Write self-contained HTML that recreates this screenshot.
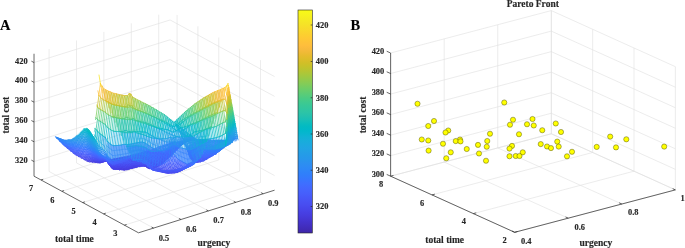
<!DOCTYPE html>
<html><head><meta charset="utf-8"><title>fig</title>
<style>
html,body{margin:0;padding:0;background:#fff;}
body{width:685px;height:248px;overflow:hidden;}
svg{display:block;will-change:transform;}
text{font-family:"Liberation Serif",serif;font-weight:bold;fill:#262626;stroke:#262626;stroke-width:0.15px;}
.t{font-size:8.4px;}
.l{font-size:9.5px;}
.p{font-size:14.5px;fill:#000;}
.g{stroke:#dfdfdf;stroke-width:0.6;fill:none;}
.ax{stroke:#262626;stroke-width:0.7;fill:none;}
</style></head><body>
<svg width="685" height="248" viewBox="0 0 685 248">
<rect width="685" height="248" fill="#fff"/>

<path class="g" d="M153.57 228.08 L49.09 171.46"/>
<path class="g" d="M49.09 171.46 L49.09 49.04"/>
<path class="g" d="M180.97 219.50 L76.49 162.88"/>
<path class="g" d="M76.49 162.88 L76.49 40.46"/>
<path class="g" d="M208.37 210.92 L103.89 154.30"/>
<path class="g" d="M103.89 154.30 L103.89 31.88"/>
<path class="g" d="M235.77 202.34 L131.29 145.72"/>
<path class="g" d="M131.29 145.72 L131.29 23.30"/>
<path class="g" d="M263.17 193.76 L158.69 137.14"/>
<path class="g" d="M158.69 137.14 L158.69 14.72"/>
<path class="g" d="M124.41 225.16 L260.47 182.55"/>
<path class="g" d="M260.47 182.55 L260.47 60.14"/>
<path class="g" d="M103.56 213.86 L239.62 171.25"/>
<path class="g" d="M239.62 171.25 L239.62 48.84"/>
<path class="g" d="M82.71 202.56 L218.77 159.95"/>
<path class="g" d="M218.77 159.95 L218.77 37.54"/>
<path class="g" d="M61.86 191.26 L197.92 148.65"/>
<path class="g" d="M197.92 148.65 L197.92 26.24"/>
<path class="g" d="M41.01 179.96 L177.07 137.35"/>
<path class="g" d="M177.07 137.35 L177.07 14.94"/>
<path class="g" d="M34.02 161.57 L170.09 118.96"/>
<path class="g" d="M170.09 118.96 L274.57 175.59"/>
<path class="g" d="M34.02 141.77 L170.09 99.16"/>
<path class="g" d="M170.09 99.16 L274.57 155.79"/>
<path class="g" d="M34.02 121.97 L170.09 79.36"/>
<path class="g" d="M170.09 79.36 L274.57 135.99"/>
<path class="g" d="M34.02 102.17 L170.09 59.56"/>
<path class="g" d="M170.09 59.56 L274.57 116.19"/>
<path class="g" d="M34.02 82.37 L170.09 39.76"/>
<path class="g" d="M170.09 39.76 L274.57 96.39"/>
<path class="g" d="M34.02 62.57 L170.09 19.96"/>
<path class="g" d="M170.09 19.96 L274.57 76.59"/>
<path class="ax" d="M138.50 232.80 L274.57 190.19"/>
<path class="ax" d="M138.50 232.80 L34.02 176.18"/>
<path class="ax" d="M34.02 176.18 L34.02 53.76"/>
<path class="ax" d="M153.57 228.08 L151.55 226.99"/>
<path class="ax" d="M180.97 219.50 L178.95 218.41"/>
<path class="ax" d="M208.37 210.92 L206.35 209.83"/>
<path class="ax" d="M235.77 202.34 L233.75 201.25"/>
<path class="ax" d="M263.17 193.76 L261.15 192.67"/>
<path class="ax" d="M124.41 225.16 L126.60 224.47"/>
<path class="ax" d="M103.56 213.86 L105.75 213.17"/>
<path class="ax" d="M82.71 202.56 L84.90 201.87"/>
<path class="ax" d="M61.86 191.26 L64.05 190.57"/>
<path class="ax" d="M41.01 179.96 L43.20 179.27"/>
<path class="ax" d="M34.02 161.57 L31.38 160.14"/>
<path class="ax" d="M34.02 141.77 L31.38 140.34"/>
<path class="ax" d="M34.02 121.97 L31.38 120.54"/>
<path class="ax" d="M34.02 102.17 L31.38 100.74"/>
<path class="ax" d="M34.02 82.37 L31.38 80.94"/>
<path class="ax" d="M34.02 62.57 L31.38 61.14"/>
<text class="t" x="27.60" y="162.62" text-anchor="end">320</text>
<text class="t" x="27.60" y="142.82" text-anchor="end">340</text>
<text class="t" x="27.60" y="123.02" text-anchor="end">360</text>
<text class="t" x="27.60" y="103.22" text-anchor="end">380</text>
<text class="t" x="27.60" y="83.42" text-anchor="end">400</text>
<text class="t" x="27.60" y="63.62" text-anchor="end">420</text>
<text class="t" x="31.20" y="191.40" text-anchor="middle">7</text>
<text class="t" x="52.40" y="202.60" text-anchor="middle">6</text>
<text class="t" x="73.60" y="213.90" text-anchor="middle">5</text>
<text class="t" x="94.70" y="225.40" text-anchor="middle">4</text>
<text class="t" x="115.40" y="236.40" text-anchor="middle">3</text>
<text class="t" x="163.90" y="240.50" text-anchor="middle">0.5</text>
<text class="t" x="191.30" y="232.10" text-anchor="middle">0.6</text>
<text class="t" x="218.60" y="223.00" text-anchor="middle">0.7</text>
<text class="t" x="246.00" y="214.50" text-anchor="middle">0.8</text>
<text class="t" x="273.30" y="206.00" text-anchor="middle">0.9</text>
<text class="l" x="74.40" y="242.20" text-anchor="middle">total time</text>
<text class="l" x="213.80" y="246.10" text-anchor="middle">urgency</text>
<text class="l" transform="translate(9.4,115.1) rotate(-90)" text-anchor="middle">total cost</text>
<text class="p" x="0.00" y="29.80" text-anchor="start">A</text>
<defs><linearGradient id="cb" x1="0" y1="1" x2="0" y2="0">
<stop offset="0.0000" stop-color="#3e26a8"/>
<stop offset="0.0159" stop-color="#402ab4"/>
<stop offset="0.0317" stop-color="#422ec0"/>
<stop offset="0.0476" stop-color="#4332cb"/>
<stop offset="0.0635" stop-color="#4537d5"/>
<stop offset="0.0794" stop-color="#463cde"/>
<stop offset="0.0952" stop-color="#4741e5"/>
<stop offset="0.1111" stop-color="#4747eb"/>
<stop offset="0.1270" stop-color="#484df0"/>
<stop offset="0.1429" stop-color="#4852f4"/>
<stop offset="0.1587" stop-color="#4758f8"/>
<stop offset="0.1746" stop-color="#465efb"/>
<stop offset="0.1905" stop-color="#4563fd"/>
<stop offset="0.2063" stop-color="#4269fe"/>
<stop offset="0.2222" stop-color="#3e6fff"/>
<stop offset="0.2381" stop-color="#3875fe"/>
<stop offset="0.2540" stop-color="#327cfc"/>
<stop offset="0.2698" stop-color="#2f81fa"/>
<stop offset="0.2857" stop-color="#2e87f7"/>
<stop offset="0.3016" stop-color="#2d8cf3"/>
<stop offset="0.3175" stop-color="#2b91ef"/>
<stop offset="0.3333" stop-color="#2797eb"/>
<stop offset="0.3492" stop-color="#259be8"/>
<stop offset="0.3651" stop-color="#23a0e5"/>
<stop offset="0.3810" stop-color="#20a5e3"/>
<stop offset="0.3968" stop-color="#1ca9df"/>
<stop offset="0.4127" stop-color="#18addb"/>
<stop offset="0.4286" stop-color="#12b1d6"/>
<stop offset="0.4444" stop-color="#08b5d0"/>
<stop offset="0.4603" stop-color="#01b8ca"/>
<stop offset="0.4762" stop-color="#02bac3"/>
<stop offset="0.4921" stop-color="#0bbdbd"/>
<stop offset="0.5079" stop-color="#19bfb6"/>
<stop offset="0.5238" stop-color="#24c1ae"/>
<stop offset="0.5397" stop-color="#2cc4a7"/>
<stop offset="0.5556" stop-color="#31c69f"/>
<stop offset="0.5714" stop-color="#37c897"/>
<stop offset="0.5873" stop-color="#3fca8e"/>
<stop offset="0.6032" stop-color="#4acb84"/>
<stop offset="0.6190" stop-color="#57cc7a"/>
<stop offset="0.6349" stop-color="#64cd6f"/>
<stop offset="0.6508" stop-color="#72cd64"/>
<stop offset="0.6667" stop-color="#81cc59"/>
<stop offset="0.6825" stop-color="#8fcb4e"/>
<stop offset="0.6984" stop-color="#9dc943"/>
<stop offset="0.7143" stop-color="#abc739"/>
<stop offset="0.7302" stop-color="#b9c431"/>
<stop offset="0.7460" stop-color="#c5c22a"/>
<stop offset="0.7619" stop-color="#d1bf27"/>
<stop offset="0.7778" stop-color="#dcbd29"/>
<stop offset="0.7937" stop-color="#e6bb2d"/>
<stop offset="0.8095" stop-color="#f0ba36"/>
<stop offset="0.8254" stop-color="#f8ba3d"/>
<stop offset="0.8413" stop-color="#febe3c"/>
<stop offset="0.8571" stop-color="#fec338"/>
<stop offset="0.8730" stop-color="#fec934"/>
<stop offset="0.8889" stop-color="#fccf30"/>
<stop offset="0.9048" stop-color="#fad62d"/>
<stop offset="0.9206" stop-color="#f7dc2a"/>
<stop offset="0.9365" stop-color="#f5e327"/>
<stop offset="0.9524" stop-color="#f5e924"/>
<stop offset="0.9683" stop-color="#f6ef20"/>
<stop offset="0.9841" stop-color="#f7f51b"/>
<stop offset="1.0000" stop-color="#f9fb15"/>
</linearGradient></defs>
<rect x="298" y="10" width="14.3" height="223" fill="url(#cb)" stroke="#262626" stroke-width="0.6"/>
<path class="ax" d="M312.3 25.00 h-1.6"/>
<text class="t" x="315.80" y="27.80" text-anchor="start">420</text>
<path class="ax" d="M312.3 61.50 h-1.6"/>
<text class="t" x="315.80" y="64.30" text-anchor="start">400</text>
<path class="ax" d="M312.3 97.75 h-1.6"/>
<text class="t" x="315.80" y="100.55" text-anchor="start">380</text>
<path class="ax" d="M312.3 134.00 h-1.6"/>
<text class="t" x="315.80" y="136.80" text-anchor="start">360</text>
<path class="ax" d="M312.3 170.25 h-1.6"/>
<text class="t" x="315.80" y="173.05" text-anchor="start">340</text>
<path class="ax" d="M312.3 206.50 h-1.6"/>
<text class="t" x="315.80" y="209.30" text-anchor="start">320</text>
<g fill="none" stroke-width="0.50" stroke-opacity="1.00" stroke-linecap="round">
<path stroke="#4536d5" d="M121.6 169.8L123.2 169.3M122.1 169.8L123.7 169.6L125.3 169.1M124.7 169.9L126.3 169.7L127.9 168.7M125.2 169.6L126.8 170.0L128.4 168.9M121.6 169.2L123.1 169.8M122.2 169.1L123.7 170.0M123.2 168.7L124.7 169.8L126.2 169.5M123.8 168.5L125.3 169.6L126.8 169.5M126.3 169.2L127.8 169.6"/>
<path stroke="#473fe2" d="M85.0 159.4L86.6 161.0L86.8 161.1M88.1 160.9L89.7 161.7L90.3 162.0M89.6 160.3L91.2 161.2L92.8 162.0L93.9 162.4M92.7 160.9L94.3 161.6L95.9 162.3L97.5 162.8M94.2 160.7L95.8 161.4L97.4 162.1L99.0 162.6L100.6 162.8L101.1 162.7M97.3 161.4L98.9 162.0L100.5 162.3L102.1 162.1L103.7 161.8L104.7 161.6M98.8 161.5L100.4 161.9L102.0 161.7L103.6 161.5L105.2 161.2L106.8 160.9L108.3 160.4M107.3 160.9L108.9 160.3L109.5 160.1M106.7 161.0L108.3 160.8L109.9 160.3M111.2 162.4L112.8 162.3L114.4 161.6M111.7 162.8L113.3 162.5L114.9 161.8M111.1 163.3L112.7 163.6L114.3 162.9L115.9 162.2M111.6 163.7L113.2 163.8L114.8 163.1L116.4 162.4M111.0 164.1L112.6 164.8L114.2 164.2L115.8 163.5L117.4 162.8M111.5 164.7L113.1 165.0L114.7 164.4L116.3 163.7L117.9 163.1M110.9 164.9L112.5 165.9L114.1 165.4L115.7 164.8L117.3 164.2L118.9 163.5L120.5 162.8M111.4 165.6L113.0 166.2L114.6 165.7L116.2 165.1L117.8 164.5L119.4 163.8L121.0 163.1M110.8 165.7L112.4 166.9L114.0 166.7L115.6 166.1L117.2 165.6L118.8 165.0L120.4 164.3L122.0 163.6L123.6 162.8M111.3 166.4L112.9 167.4L114.5 166.9L116.1 166.4L117.7 165.8L119.3 165.2L120.9 164.6L122.5 163.9L124.1 163.1M110.7 166.4L112.3 168.0L113.9 167.9L115.5 167.4L117.1 166.9L118.7 166.4L120.3 165.8L121.9 165.2L123.5 164.5L125.1 163.7M111.2 167.2L112.8 168.6L114.4 168.2L116.0 167.7L117.6 167.2L119.2 166.7L120.8 166.1L122.4 165.4L124.0 164.8L125.6 164.0L127.2 163.0M110.6 166.2L112.2 168.7L113.8 169.1L115.4 168.7L117.0 168.3L118.6 167.8L120.2 167.3L121.8 166.7L123.4 166.1L125.0 165.4L126.6 164.5L128.2 163.5M111.1 166.7L112.7 169.0L114.3 169.4L115.9 169.0L117.5 168.6L119.1 168.1L120.7 167.6L122.3 167.0L123.9 166.4L125.5 165.7L127.1 164.8L128.7 163.7M112.1 167.4L113.7 168.6L115.3 169.1L116.9 169.6L118.5 169.2L120.1 168.7L121.7 168.2L123.3 167.7L124.9 167.1L126.5 166.3L128.1 165.2L129.7 164.2M112.6 167.8L114.2 168.3L115.8 168.9L117.4 169.4L119.0 169.5L120.6 169.1L122.2 168.6L123.8 168.0L125.4 167.4L127.0 166.5L128.6 165.5L130.2 164.4M115.2 167.8L116.8 168.4L118.4 168.9L120.0 169.5L121.6 169.8M123.2 169.3L124.8 168.7L126.4 168.0L128.0 167.0L129.6 165.9L131.2 164.8M115.7 167.6L117.3 168.1L118.9 168.6L120.5 169.2L122.1 169.8M125.3 169.1L126.9 168.2L128.5 167.2L130.1 166.1L131.7 165.0M118.3 167.6L119.9 168.1L121.5 168.7L123.1 169.3L124.7 169.9M127.9 168.7L129.5 167.6L131.1 166.6L132.7 165.4M120.4 167.8L122.0 168.4L123.6 169.0L125.2 169.6M128.4 168.9L130.0 167.9L131.6 166.8L133.2 165.7L134.8 164.5M123.0 167.8L124.6 168.4L126.2 169.0L127.8 169.1L129.4 169.3L131.0 168.3L132.6 167.2L134.2 166.1L135.8 165.0M123.5 167.5L125.1 168.1L126.7 168.5L128.3 168.7L129.9 168.8L131.5 168.5L133.1 167.4L134.7 166.3L136.3 165.2M127.7 167.6L129.3 167.7L130.9 167.9L132.5 168.1L134.1 167.9L135.7 166.8L137.3 165.6M129.8 167.3L131.4 167.5L133.0 167.7L134.6 167.9L136.2 167.0L137.8 165.9M135.6 167.0L137.2 167.2L138.8 166.3M137.7 166.7L139.3 166.6M148.8 165.3L150.4 165.0M145.0 166.3L146.6 166.9L148.2 167.0L149.8 166.8L151.4 166.5L153.0 165.8L154.6 164.4M145.5 166.3L147.1 167.7L148.7 167.8L150.3 167.6L151.9 167.3L153.5 166.4L155.1 165.0M148.1 167.4L149.7 168.9L151.3 168.8L152.9 168.3L154.5 167.1L156.1 165.8L157.7 164.4M148.6 166.6L150.2 168.4L151.8 168.9L153.4 168.2L155.0 167.0L156.6 165.8M151.2 166.7L152.8 168.3L154.4 168.0L156.0 166.9L157.6 165.7M153.3 167.2L154.9 167.9L156.5 166.8L158.1 165.7M85.0 159.9L84.7 160.0M85.0 159.9L86.5 159.9M88.1 161.4L87.4 161.5M88.1 161.4L89.6 160.8L91.1 160.4M110.6 166.6L112.1 167.9L113.6 167.7M111.2 167.5L112.7 168.6L114.2 167.9M91.2 161.6L90.2 162.0M91.2 161.6L92.7 161.2L94.2 161.0M110.7 166.2L112.2 168.6L113.7 169.0L115.2 168.2L116.7 167.5M111.3 166.7L112.8 169.0L114.3 169.2L115.8 168.4L117.3 167.7M94.3 161.9L92.9 162.3M94.3 161.9L95.8 161.7L97.3 161.6L98.8 161.7M110.8 165.4L112.3 167.6L113.8 168.7L115.3 169.5L116.8 168.8L118.3 168.0M109.9 164.0L111.4 165.8L112.9 167.8L114.4 168.6L115.9 169.5L117.4 169.0L118.9 168.2L120.4 167.4M95.9 162.5L95.7 162.6M95.9 162.5L97.4 162.3L98.9 162.2L100.4 162.0L101.9 161.5M110.9 164.7L112.4 166.6L113.9 167.5L115.4 168.3L116.9 169.2L118.4 169.4L119.9 168.6L121.4 167.7M110.0 163.4L111.5 165.0L113.0 166.6L114.5 167.3L116.0 168.2L117.5 169.1L119.0 169.6L120.5 168.8L122.0 167.9M99.0 162.8L98.4 162.8M99.0 162.8L100.5 162.5L102.0 161.9L103.5 161.3M111.0 163.9L112.5 165.5L114.0 166.3L115.5 167.0L117.0 167.8L118.5 168.8L120.0 169.7L121.5 169.2L123.0 168.3L124.5 167.4M110.1 162.8L111.6 164.0L113.1 165.4L114.6 166.1L116.1 166.8L117.6 167.7L119.1 168.6L120.6 169.6L122.1 169.4L123.6 168.5L125.1 167.6M102.1 162.2L101.2 162.7M102.1 162.2L103.6 161.6L105.1 161.1M111.1 163.0L112.6 164.4L114.1 165.0L115.6 165.7L117.1 166.5L118.6 167.3L120.1 168.3L121.6 169.2M123.1 169.8L124.6 168.9L126.1 168.0M110.2 162.1L111.7 163.1L113.2 164.2L114.7 164.8L116.2 165.5L117.7 166.3L119.2 167.2L120.7 168.1L122.2 169.1M123.7 170.0L125.2 169.1L126.7 168.0M105.2 161.3L103.9 161.8M105.2 161.3L106.7 161.0L108.2 161.0M111.2 162.1L112.7 163.2L114.2 163.7L115.7 164.4L117.2 165.1L118.7 165.9L120.2 166.8L121.7 167.7L123.2 168.7M126.2 169.5L127.7 168.1M107.3 160.9L108.8 161.0M111.8 162.1L113.3 162.9L114.8 163.5L116.3 164.2L117.8 164.9L119.3 165.7L120.8 166.6L122.3 167.5L123.8 168.5M126.8 169.5L128.3 168.2L129.8 166.8M106.8 160.9L106.7 161.0M106.8 160.9L108.3 160.7L109.8 160.8M112.8 161.9L114.3 162.5L115.8 163.1L117.3 163.8L118.8 164.5L120.3 165.3L121.8 166.2L123.3 167.1L124.8 168.2L126.3 169.2M127.8 169.6L129.3 168.3L130.8 166.9M108.9 160.5L107.6 160.7M108.9 160.5L110.4 160.6M113.4 161.7L114.9 162.2L116.4 162.9L117.9 163.5L119.4 164.3L120.9 165.1L122.4 166.0L123.9 166.9L125.4 168.0L126.9 168.8L128.4 169.5L129.9 168.3L131.4 167.0M109.9 160.1L109.4 160.1M117.4 162.4L118.9 163.1L120.4 163.8L121.9 164.6L123.4 165.5L124.9 166.5L126.4 167.4L127.9 168.1L129.4 168.8L130.9 168.4L132.4 167.1M119.5 162.8L121.0 163.6L122.5 164.4L124.0 165.3L125.5 166.3L127.0 167.1L128.5 167.8L130.0 168.5L131.5 168.5L133.0 167.2M122.0 163.1L123.5 163.9L125.0 164.8L126.5 165.7L128.0 166.4L129.5 167.1L131.0 167.7L132.5 168.4L134.0 167.3M122.6 162.8L124.1 163.7L125.6 164.6L127.1 165.3L128.6 166.0L130.1 166.7L131.6 167.4L133.1 168.0L134.6 167.4M125.1 163.2L126.6 164.0L128.1 164.6L129.6 165.3L131.1 166.0L132.6 166.6L134.1 167.3L135.6 167.5L137.1 166.2M127.2 163.6L128.7 164.3L130.2 165.0L131.7 165.6L133.2 166.3L134.7 166.9L136.2 167.6L137.7 166.2M132.7 164.9L134.2 165.5L135.7 166.2L137.2 166.8L138.7 166.4M134.8 165.1L136.3 165.8L137.8 166.5L139.3 166.4M145.6 166.1L147.1 167.4M146.6 166.2L148.1 168.5L149.6 166.4M147.2 166.2L148.7 168.6L150.2 167.0M148.2 166.2L149.7 168.6L151.2 168.2M148.8 166.1L150.3 168.5L151.8 168.8L153.3 165.8M149.8 166.0L151.3 168.4L152.8 168.8L154.3 166.4M150.4 165.9L151.9 168.3L153.4 168.5L154.9 166.7M151.4 165.6L152.9 167.8L154.4 167.7L155.9 167.4M152.0 165.4L153.5 167.4L155.0 167.4L156.5 167.1M153.0 164.7L154.5 166.5L156.0 166.6L157.5 166.4M153.6 164.3L155.1 166.1L156.6 166.2L158.1 166.0M156.1 165.2L157.6 165.3"/>
<path stroke="#4747ec" d="M78.8 156.4L79.6 157.2M80.3 156.4L81.9 157.9L83.2 159.1M83.4 157.8L85.0 159.4M84.9 157.7L86.5 159.3L88.1 160.9M86.4 157.6L88.0 159.3L89.6 160.3M89.5 158.9L91.1 159.9L92.7 160.9M91.0 158.7L92.6 159.7L94.2 160.7M92.5 158.6L94.1 159.7L95.7 160.6L97.3 161.4M95.6 159.8L97.2 160.7L98.8 161.5M97.1 160.0L98.7 160.9L100.3 161.4L101.9 161.4L103.5 161.3L105.1 161.1L106.7 161.0M109.9 160.3L111.5 159.6L111.9 159.3M107.2 161.0L108.8 160.8L110.4 160.4L112.0 159.6L113.1 159.1M98.6 160.3L100.2 161.0L101.8 161.0L103.4 161.0L105.0 160.9L106.6 161.1L108.2 161.1L109.8 161.0L111.4 160.5L113.0 159.9L114.6 159.1L115.5 158.6M107.1 161.2L108.7 161.3L110.3 161.1L111.9 160.7L113.5 160.1L115.1 159.2L116.7 158.4M101.7 160.6L103.3 160.7L104.9 160.7L106.5 161.1L108.1 161.5L109.7 161.6L111.3 161.5L112.9 161.1L114.5 160.4L116.1 159.5L117.7 158.7L119.0 157.9M107.0 161.3L108.6 161.7L110.2 161.8L111.8 161.8L113.4 161.3L115.0 160.5L116.6 159.7L118.2 158.8L119.8 157.9L120.2 157.7M104.8 160.5L106.4 161.0L108.0 161.7L109.6 162.2L111.2 162.4M114.4 161.6L116.0 160.9L117.6 160.1L119.2 159.2L120.8 158.3L122.4 157.3L122.6 157.2M106.9 161.3L108.5 162.0L110.1 162.5L111.7 162.8M114.9 161.8L116.5 161.1L118.1 160.3L119.7 159.4L121.3 158.5L122.9 157.5M106.3 161.0L107.9 162.0L109.5 162.8L111.1 163.3M115.9 162.2L117.5 161.5L119.1 160.7L120.7 159.8L122.3 158.9L123.9 157.9M106.8 161.3L108.4 162.4L110.0 163.2L111.6 163.7M116.4 162.4L118.0 161.7L119.6 160.9L121.2 160.0L122.8 159.1L124.4 158.2M107.8 162.2L109.4 163.3L111.0 164.1M117.4 162.8L119.0 162.1L120.6 161.3L122.2 160.5L123.8 159.6L125.4 158.6L127.0 157.6M106.7 161.3L108.3 162.7L109.9 163.8L111.5 164.7M117.9 163.1L119.5 162.3L121.1 161.6L122.7 160.7L124.3 159.8L125.9 158.9L127.5 157.8M107.7 162.4L109.3 163.8L110.9 164.9M120.5 162.8L122.1 162.0L123.7 161.2L125.3 160.3L126.9 159.3L128.5 158.3M108.2 162.9L109.8 164.4L111.4 165.6M121.0 163.1L122.6 162.3L124.2 161.5L125.8 160.6L127.4 159.6L129.0 158.5M107.6 162.5L109.2 164.2L110.8 165.7M123.6 162.8L125.2 162.0L126.8 161.1L128.4 160.0L130.0 159.0M108.1 163.1L109.7 164.9L111.3 166.4M124.1 163.1L125.7 162.3L127.3 161.3L128.9 160.2L130.5 159.2M109.1 164.6L110.7 166.4M125.1 163.7L126.7 162.8L128.3 161.8L129.9 160.7L131.5 159.5M108.0 162.9L109.6 165.3L111.2 167.2M127.2 163.0L128.8 162.0L130.4 160.9L132.0 159.7M109.0 163.9L110.6 166.2M128.2 163.5L129.8 162.4L131.4 161.3L133.0 160.1L134.6 159.0M109.5 164.3L111.1 166.7M128.7 163.7L130.3 162.6L131.9 161.5L133.5 160.4L135.1 159.2M110.5 165.1L112.1 167.4M129.7 164.2L131.3 163.1L132.9 161.9L134.5 160.8L136.1 159.6M111.0 165.5L112.6 167.8M130.2 164.4L131.8 163.3L133.4 162.1L135.0 161.0L136.6 159.8M112.0 166.2L113.6 167.3L115.2 167.8M131.2 164.8L132.8 163.7L134.4 162.5L136.0 161.4L137.6 160.2M112.5 166.5L114.1 167.1L115.7 167.6M131.7 165.0L133.3 163.9L134.9 162.8L136.5 161.6L138.1 160.5M113.5 166.1L115.1 166.5L116.7 167.0L118.3 167.6M132.7 165.4L134.3 164.3L135.9 163.2L137.5 162.0L139.1 160.9M114.0 165.8L115.6 166.3L117.2 166.8L118.8 167.3L120.4 167.8M134.8 164.5L136.4 163.4L138.0 162.3L139.6 161.1M116.6 165.7L118.2 166.2L119.8 166.7L121.4 167.2L123.0 167.8M135.8 165.0L137.4 163.8L139.0 162.7L140.6 161.7L142.2 160.7M118.7 165.9L120.3 166.4L121.9 167.0L123.5 167.5M136.3 165.2L137.9 164.1L139.5 162.9L141.1 162.0L142.7 161.0M121.3 165.8L122.9 166.3L124.5 166.9L126.1 167.4L127.7 167.6M137.3 165.6L138.9 164.5L140.5 163.5L142.1 162.6L143.7 161.7M121.8 165.5L123.4 166.0L125.0 166.6L126.6 167.0L128.2 167.1L129.8 167.3M137.8 165.9L139.4 164.7L141.0 163.9L142.6 162.9L144.2 162.0L145.8 161.4M126.0 165.9L127.6 166.1L129.2 166.2L130.8 166.4L132.4 166.6L134.0 166.8L135.6 167.0M138.8 166.3L140.4 165.4L142.0 164.5L143.6 163.6L145.2 162.8L146.8 162.6L148.4 162.2L150.0 161.6L151.6 160.8M128.1 165.6L129.7 165.8L131.3 165.9L132.9 166.1L134.5 166.3L136.1 166.5L137.7 166.7M139.3 166.6L140.9 165.7L142.5 164.9L144.1 164.0L145.7 163.4L147.3 163.2L148.9 162.8L150.5 162.2L152.1 161.4L153.7 160.1M132.3 165.0L133.9 165.2L135.5 165.4L137.1 165.6L138.7 165.8L140.3 166.2L141.9 166.4L143.5 165.6L145.1 164.8L146.7 164.8L148.3 164.6L149.9 164.2L151.5 163.6L153.1 162.7L154.7 161.2M134.4 164.8L136.0 165.0L137.6 165.2L139.2 165.4L140.8 165.9L142.4 166.4L144.0 165.9L145.6 165.5L147.2 165.5L148.8 165.3M150.4 165.0L152.0 164.4L153.6 163.2L155.2 161.7L156.8 160.2M140.2 164.6L141.8 165.1L143.4 165.7L145.0 166.3M154.6 164.4L156.2 162.9L157.8 161.4M140.7 164.2L142.3 164.8L143.9 165.3L145.5 166.3M155.1 165.0L156.7 163.6L158.3 162.0L159.9 160.4M144.9 164.1L146.5 165.7L148.1 167.4M157.7 164.4L159.3 162.9L160.9 161.3M147.0 164.9L148.6 166.6M156.6 165.8L158.2 164.4L159.8 163.0L161.4 161.4M149.6 165.0L151.2 166.7M157.6 165.7L159.2 164.5L160.8 163.1L162.4 161.7M150.1 164.2L151.7 165.9L153.3 167.2M158.1 165.7L159.7 164.5L161.3 163.2L162.9 161.8M152.7 164.1L154.3 165.0L155.9 165.9L157.5 166.6L159.1 165.6L160.7 164.5L162.3 163.3L163.9 162.0M154.8 163.9L156.4 164.8L158.0 165.7L159.6 165.4L161.2 164.3L162.8 163.2L164.4 161.9M164.2 171.9L165.8 172.2L167.4 171.0M163.1 172.1L164.7 172.5L166.3 172.7L167.9 172.2L169.5 170.6M164.1 172.4L165.7 172.7L167.3 173.0L168.9 173.2L170.5 172.1M166.2 172.6L167.8 172.8L169.4 173.1L171.0 172.5L172.6 171.0M168.8 172.6L170.4 172.8L172.0 173.1L173.6 171.9M169.3 172.4L170.9 172.7L172.5 172.9L174.1 172.4M173.5 172.7L175.1 172.9L176.7 171.4M174.0 172.5L175.6 172.6L177.2 171.8M80.3 156.9L79.2 156.9M81.9 158.4L83.4 158.4L84.9 158.3L86.4 158.2L87.9 158.3M111.0 165.1L112.5 166.0M86.5 159.9L88.0 159.9L89.5 159.4L91.0 159.1L92.5 159.0M109.0 164.2L110.5 165.5L112.0 166.6L113.5 166.5L115.0 165.7M108.1 163.2L109.6 165.0L111.1 166.3L112.6 167.4L114.1 166.7L115.6 165.9M91.1 160.4L92.6 160.1L94.1 160.0L95.6 160.1L97.1 160.2L98.6 160.5L100.1 160.6M107.6 162.4L109.1 164.5L110.6 166.6M113.6 167.7L115.1 167.0L116.6 166.2M108.2 163.0L109.7 165.1L111.2 167.5M114.2 167.9L115.7 167.1L117.2 166.3L118.7 165.5M94.2 161.0L95.7 160.9L97.2 160.9L98.7 161.1L100.2 161.1L101.7 160.7L103.2 160.5M107.7 162.3L109.2 164.1L110.7 166.2M116.7 167.5L118.2 166.7L119.7 165.8M106.8 161.3L108.3 162.8L109.8 164.5L111.3 166.7M117.3 167.7L118.8 166.8L120.3 166.0M98.8 161.7L100.3 161.6L101.8 161.1L103.3 160.8L104.8 160.5L106.3 161.0L107.8 162.1L109.3 163.6L110.8 165.4M118.3 168.0L119.8 167.2L121.3 166.3L122.8 165.4M106.9 161.3L108.4 162.5L109.9 164.0M120.4 167.4L121.9 166.5L123.4 165.5M101.9 161.5L103.4 161.1L104.9 160.7L106.4 161.1L107.9 161.9L109.4 163.1L110.9 164.7M121.4 167.7L122.9 166.8L124.4 165.9M107.0 161.3L108.5 162.2L110.0 163.4M122.0 167.9L123.5 167.0L125.0 166.1M103.5 161.3L105.0 160.9L106.5 161.1L108.0 161.7L109.5 162.6L111.0 163.9M124.5 167.4L126.0 166.4L127.5 165.1M107.1 161.2L108.6 161.8L110.1 162.8M125.1 167.6L126.6 166.5L128.1 165.1M105.1 161.1L106.6 161.1L108.1 161.4L109.6 162.0L111.1 163.0M126.1 168.0L127.6 166.6L129.1 165.2M107.2 161.1L108.7 161.4L110.2 162.1M126.7 168.0L128.2 166.6L129.7 165.3M108.2 161.0L109.7 161.4L111.2 162.1M127.7 168.1L129.2 166.7L130.7 165.4M108.8 161.0L110.3 161.4L111.8 162.1M129.8 166.8L131.3 165.4M109.8 160.8L111.3 161.2L112.8 161.9M130.8 166.9L132.3 165.6M110.4 160.6L111.9 161.1L113.4 161.7M131.4 167.0L132.9 165.6M109.9 160.1L111.4 160.2L112.9 160.7L114.4 161.2L115.9 161.8L117.4 162.4M132.4 167.1L133.9 165.7L135.4 164.4M110.5 159.8L110.3 159.8M110.5 159.8L112.0 160.0L113.5 160.5L115.0 161.0L116.5 161.5L118.0 162.1L119.5 162.8M133.0 167.2L134.5 165.8L136.0 164.4M113.0 159.5L112.2 159.3M113.0 159.5L114.5 159.9L116.0 160.4L117.5 161.0L119.0 161.6L120.5 162.3L122.0 163.1M134.0 167.3L135.5 165.9L137.0 164.6M113.6 159.2L113.1 159.1M113.6 159.2L115.1 159.7L116.6 160.2L118.1 160.7L119.6 161.4L121.1 162.1L122.6 162.8M134.6 167.4L136.1 166.0L137.6 164.6M116.1 159.1L114.9 158.7M116.1 159.1L117.6 159.6L119.1 160.2L120.6 160.8L122.1 161.5L123.6 162.3L125.1 163.2M137.1 166.2L138.6 164.8M116.7 158.8L115.8 158.5M116.7 158.8L118.2 159.3L119.7 159.9L121.2 160.5L122.7 161.2L124.2 162.0L125.7 162.9L127.2 163.6M137.7 166.2L139.2 164.9M117.7 158.2L117.6 158.2M117.7 158.2L119.2 158.7L120.7 159.3L122.2 160.0L123.7 160.7L125.2 161.5L126.7 162.2L128.2 162.9L129.7 163.6L131.2 164.2L132.7 164.9M138.7 166.4L140.2 165.1L141.7 164.0M164.2 171.4L165.7 172.9L167.2 172.5M119.8 158.4L118.6 158.0M119.8 158.4L121.3 159.0L122.8 159.7L124.3 160.4L125.8 161.2L127.3 161.9L128.8 162.6L130.3 163.2L131.8 163.8L133.3 164.5L134.8 165.1M139.3 166.4L140.8 165.3L142.3 164.2M164.8 171.5L166.3 173.0L167.8 172.6M120.8 157.8L120.4 157.6M120.8 157.8L122.3 158.4L123.8 159.0L125.3 159.8L126.8 160.5L128.3 161.2L129.8 161.9L131.3 162.5L132.8 163.1L134.3 163.7L135.8 164.4L137.3 165.0L138.8 165.7L140.3 166.6L141.8 165.7L143.3 164.6M165.8 170.9L167.3 173.2L168.8 172.8L170.3 172.4M121.4 157.5L122.9 158.1L124.4 158.7L125.9 159.5L127.4 160.1L128.9 160.8L130.4 161.5L131.9 162.1L133.4 162.7L134.9 163.4L136.4 164.0L137.9 164.7L139.4 165.4L140.9 166.3L142.4 165.9L143.9 164.8M166.4 170.4L167.9 173.3L169.4 172.9L170.9 172.4M123.9 157.4L125.4 158.1L126.9 158.8L128.4 159.4L129.9 160.1L131.4 160.7L132.9 161.3L134.4 162.0L135.9 162.6L137.4 163.2L138.9 163.9L140.4 164.8L141.9 165.8L143.4 166.3L144.9 165.2M168.9 172.6L170.4 173.0L171.9 172.6M126.0 157.7L127.5 158.4L129.0 159.1L130.5 159.7L132.0 160.3L133.5 160.9L135.0 161.6L136.5 162.2L138.0 162.9L139.5 163.5L141.0 164.5L142.5 165.5L144.0 166.5L145.5 165.7L147.0 163.6M169.5 172.1L171.0 173.1L172.5 172.7M131.5 159.0L133.0 159.6L134.5 160.2L136.0 160.8L137.5 161.4L139.0 162.1L140.5 162.9L142.0 163.9L143.5 164.9L145.0 166.1L146.5 166.8L148.0 164.7M170.5 171.1L172.0 172.5L173.5 172.9L175.0 172.5M135.1 159.8L136.6 160.4L138.1 161.1L139.6 161.7L141.1 162.6L142.6 163.6L144.1 164.6L145.6 166.1M147.1 167.4L148.6 165.3M172.6 172.0L174.1 173.0L175.6 172.4M140.6 161.1L142.1 162.0L143.6 163.0L145.1 164.1L146.6 166.2M149.6 166.4L151.1 163.9M173.6 170.9L175.1 172.3L176.6 172.4M141.2 160.7L142.7 161.7L144.2 162.7L145.7 164.1L147.2 166.2M150.2 167.0L151.7 164.5M175.7 171.7L177.2 172.3M143.7 161.0L145.2 162.1L146.7 164.0L148.2 166.2M151.2 168.2L152.7 165.5M144.3 160.7L145.8 162.0L147.3 164.0L148.8 166.1M146.8 161.8L148.3 163.8L149.8 166.0M154.3 166.4L155.8 163.0M147.4 161.7L148.9 163.7L150.4 165.9M154.9 166.7L156.4 163.3M148.4 161.4L149.9 163.4L151.4 165.6M155.9 167.4L157.4 163.8M149.0 161.2L150.5 163.2L152.0 165.4M156.5 167.1L158.0 164.1M150.0 160.7L151.5 162.7L153.0 164.7M157.5 166.4L159.0 164.6M150.6 160.4L152.1 162.4L153.6 164.3M158.1 166.0L159.6 164.9M151.6 159.8L153.1 161.6L154.6 163.3L156.1 165.2M157.6 165.3L159.1 165.3L160.6 164.6M153.7 161.1L155.2 162.8L156.7 164.7L158.2 164.9L159.7 164.9L161.2 164.2M154.7 160.1L156.2 161.8L157.7 163.7L159.2 164.0L160.7 164.1L162.2 163.4M156.8 161.3L158.3 163.2L159.8 163.5L161.3 163.6L162.8 163.0M157.8 160.2L159.3 162.1L160.8 162.6L162.3 162.8L163.8 162.2M159.9 161.6L161.4 162.1L162.9 162.3"/>
<path stroke="#4850f3" d="M74.1 153.2L75.7 154.9L76.0 155.2M75.6 153.5L77.2 155.0L78.8 156.4M78.7 154.9L80.3 156.4M80.2 154.8L81.8 156.3L83.4 157.8M81.7 154.7L83.3 156.1L84.9 157.7M84.8 156.0L86.4 157.6M86.3 156.0L87.9 157.7L89.5 158.9M87.8 156.1L89.4 157.5L91.0 158.7M89.3 156.0L90.9 157.4L92.5 158.6M92.4 157.5L94.0 158.7L95.6 159.8M93.9 157.7L95.5 158.9L97.1 160.0M95.4 158.0L97.0 159.2L98.6 160.3M96.9 158.5L98.5 159.7L100.1 160.5L101.7 160.6M98.4 159.0L100.0 160.0L101.6 160.2L103.2 160.4L104.8 160.5M122.9 157.5L123.8 156.9M99.9 159.5L101.5 159.8L103.1 160.1L104.7 160.2L106.3 161.0M123.9 157.9L125.5 156.9L126.2 156.5M124.4 158.2L126.0 157.2L127.4 156.2M103.0 159.7L104.6 160.0L106.2 160.9L107.8 162.2M127.0 157.6L128.6 156.5L129.8 155.7M127.5 157.8L129.1 156.8L130.7 155.7L131.0 155.4M104.5 159.8L106.1 160.7L107.7 162.4M128.5 158.3L130.1 157.2L131.7 156.0L133.3 154.8L133.4 154.8M106.6 161.3L108.2 162.9M129.0 158.5L130.6 157.4L132.2 156.2L133.8 155.0L134.6 154.4M106.0 160.5L107.6 162.5M130.0 159.0L131.6 157.8L133.2 156.6L134.8 155.4L136.4 154.2M106.5 161.2L108.1 163.1M130.5 159.2L132.1 158.0L133.7 156.8L135.3 155.6L136.9 154.4M105.9 159.7L107.5 162.4L109.1 164.6M131.5 159.5L133.1 158.4L134.7 157.2L136.3 156.0L137.9 154.8M106.4 160.6L108.0 162.9M132.0 159.7L133.6 158.6L135.2 157.4L136.8 156.2L138.4 155.0M107.4 161.6L109.0 163.9M134.6 159.0L136.2 157.8L137.8 156.6L139.4 155.4M107.9 162.1L109.5 164.3M135.1 159.2L136.7 158.0L138.3 156.8L139.9 155.6M108.9 162.9L110.5 165.1M136.1 159.6L137.7 158.4L139.3 157.2L140.9 156.1M109.4 163.3L111.0 165.5M136.6 159.8L138.2 158.6L139.8 157.5L141.4 156.4M108.8 162.0L110.4 164.0L112.0 166.2M137.6 160.2L139.2 159.1L140.8 158.0L142.4 156.9L144.0 155.7M109.3 162.4L110.9 164.4L112.5 166.5M138.1 160.5L139.7 159.3L141.3 158.3L142.9 157.2L144.5 156.0M110.3 163.0L111.9 164.9L113.5 166.1M139.1 160.9L140.7 159.8L142.3 158.8L143.9 157.7L145.5 156.7M110.8 163.2L112.4 165.2L114.0 165.8M139.6 161.1L141.2 160.1L142.8 159.1L144.4 158.0L146.0 157.1L147.6 156.3M111.8 163.7L113.4 164.9L115.0 165.3L116.6 165.7M142.2 160.7L143.8 159.7L145.4 158.8L147.0 158.1L148.6 157.3L150.2 156.2M112.3 163.9L113.9 164.6L115.5 165.0L117.1 165.5L118.7 165.9M142.7 161.0L144.3 160.0L145.9 159.3L147.5 158.6L149.1 157.8L150.7 156.7M114.9 164.0L116.5 164.4L118.1 164.9L119.7 165.3L121.3 165.8M143.7 161.7L145.3 160.8L146.9 160.3L148.5 159.7L150.1 158.9L151.7 157.8L153.3 156.4M117.0 164.1L118.6 164.6L120.2 165.0L121.8 165.5M145.8 161.4L147.4 160.9L149.0 160.3L150.6 159.5L152.2 158.4L153.8 156.9M119.6 164.0L121.2 164.4L122.8 164.9L124.4 165.4L126.0 165.9M151.6 160.8L153.2 159.5L154.8 157.9L156.4 156.2M120.1 163.6L121.7 164.1L123.3 164.6L124.9 165.1L126.5 165.5L128.1 165.6M153.7 160.1L155.3 158.5L156.9 156.8M124.3 163.9L125.9 164.4L127.5 164.6L129.1 164.7L130.7 164.9L132.3 165.0M154.7 161.2L156.3 159.6L157.9 157.9M124.8 163.6L126.4 164.0L128.0 164.1L129.6 164.2L131.2 164.4L132.8 164.6L134.4 164.8M156.8 160.2L158.4 158.5L160.0 156.7M130.6 163.3L132.2 163.5L133.8 163.7L135.4 163.9L137.0 164.0L138.6 164.3L140.2 164.6M157.8 161.4L159.4 159.7L161.0 158.0M132.7 163.0L134.3 163.2L135.9 163.4L137.5 163.6L139.1 163.8L140.7 164.2M159.9 160.4L161.5 158.6L163.1 156.8M138.5 162.2L140.1 162.5L141.7 163.0L143.3 163.5L144.9 164.1M160.9 161.3L162.5 159.6L164.1 157.8M142.2 162.0L143.8 162.5L145.4 163.3L147.0 164.9M161.4 161.4L163.0 159.8L164.6 158.0M146.4 161.9L148.0 163.4L149.6 165.0M162.4 161.7L164.0 160.1L165.6 158.4M146.9 161.2L148.5 162.7L150.1 164.2M162.9 161.8L164.5 160.3L166.1 158.6M149.5 161.2L151.1 162.6L152.7 164.1M163.9 162.0L165.5 160.5L167.1 158.8M151.6 161.8L153.2 163.0L154.8 163.9M164.4 161.9L166.0 160.4L167.6 158.8M193.2 161.0L194.8 162.5L196.4 161.8M195.3 162.3L196.9 162.5L198.5 160.5M159.5 169.3L161.1 169.6L162.7 169.5L164.3 168.8L165.9 167.8M196.3 161.9L197.9 162.1L199.5 161.7M158.4 169.6L160.0 169.9L161.6 170.3L163.2 170.6L164.8 170.1L166.4 168.8L168.0 167.5M198.4 161.8L200.0 162.0M156.2 170.1L157.8 170.4L159.4 170.8L161.0 171.1L162.6 171.5L164.2 171.9M167.4 171.0L169.0 169.6L170.6 168.1M156.7 170.7L158.3 171.0L159.9 171.4L161.5 171.7L163.1 172.1M169.5 170.6L171.1 169.1L172.7 167.6M157.7 171.0L159.3 171.4L160.9 171.7L162.5 172.0L164.1 172.4M170.5 172.1L172.1 170.5L173.7 168.9M158.2 170.9L159.8 171.2L161.4 171.6L163.0 171.9L164.6 172.3L166.2 172.6M172.6 171.0L174.2 169.4L175.8 166.7M160.8 171.0L162.4 171.4L164.0 171.7L165.6 172.0L167.2 172.3L168.8 172.6M173.6 171.9L175.2 170.3L176.8 167.5M161.3 170.9L162.9 171.2L164.5 171.6L166.1 171.9L167.7 172.1L169.3 172.4M174.1 172.4L175.7 170.7L177.3 167.8M163.9 171.0L165.5 171.3L167.1 171.6L168.7 171.9L170.3 172.1L171.9 172.4L173.5 172.7M176.7 171.4L178.3 168.5M166.0 171.2L167.6 171.5L169.2 171.7L170.8 172.0L172.4 172.3L174.0 172.5M177.2 171.8L178.8 168.9M168.6 171.2L170.2 171.5L171.8 171.7L173.4 172.0L175.0 172.2L176.6 172.1L178.2 172.0L179.8 169.6M169.1 171.0L170.7 171.3L172.3 171.6L173.9 171.8L175.5 172.0L177.1 171.9L178.7 171.8L180.3 169.9M171.7 171.0L173.3 171.3L174.9 171.6L176.5 171.5L178.1 171.4L179.7 171.3L181.3 170.1M173.8 171.2L175.4 171.3L177.0 171.2L178.6 171.1L180.2 171.0L181.8 169.8M178.0 170.7L179.6 170.6L181.2 170.5M74.1 153.7L73.7 153.5M74.1 153.7L75.6 154.0M77.2 155.4L76.4 155.4M77.2 155.4L78.7 155.4L80.2 155.4L81.7 155.2M80.3 156.9L81.8 156.8L83.3 156.7L84.8 156.6L86.3 156.5L87.8 156.7L89.3 156.5M110.3 163.3L111.8 164.1L113.3 164.0M107.9 161.8L109.4 163.0L110.9 164.0L112.4 164.8L113.9 164.2M87.9 158.3L89.4 157.9L90.9 157.8L92.4 157.8L93.9 158.0L95.4 158.3L96.9 158.7L98.4 159.3L99.9 159.6L101.4 159.5M107.4 161.9L108.9 163.2L110.4 164.4L111.9 165.3L113.4 165.3L114.9 164.4L116.4 163.6M106.5 161.1L108.0 162.6L109.5 164.0L111.0 165.1M112.5 166.0L114.0 165.4L115.5 164.6L117.0 163.7M92.5 159.0L94.0 159.0L95.5 159.2L97.0 159.5L98.5 159.9L100.0 160.2L101.5 159.9L103.0 159.8L104.5 159.8L106.0 160.6L107.5 162.5L109.0 164.2M115.0 165.7L116.5 164.9L118.0 164.0M106.6 161.2L108.1 163.2M115.6 165.9L117.1 165.0L118.6 164.1M100.1 160.6L101.6 160.3L103.1 160.2L104.6 160.1L106.1 160.8L107.6 162.4M116.6 166.2L118.1 165.3L119.6 164.4L121.1 163.5M106.7 161.3L108.2 163.0M118.7 165.5L120.2 164.6L121.7 163.6M103.2 160.5L104.7 160.3L106.2 160.9L107.7 162.3M119.7 165.8L121.2 164.9L122.7 163.9M120.3 166.0L121.8 165.0L123.3 164.1M122.8 165.4L124.3 164.4L125.8 163.4M123.4 165.5L124.9 164.6L126.4 163.5M124.4 165.9L125.9 164.9L127.4 163.6M125.0 166.1L126.5 165.0L128.0 163.6M127.5 165.1L129.0 163.7M128.1 165.1L129.6 163.7M129.1 165.2L130.6 163.8M129.7 165.3L131.2 163.9L132.7 162.5M130.7 165.4L132.2 164.0L133.7 162.6M156.2 169.6L157.7 171.2L159.2 170.9M131.3 165.4L132.8 164.1L134.3 162.7M156.8 169.7L158.3 171.4L159.8 171.0M132.3 165.6L133.8 164.2L135.3 162.8M157.8 170.0L159.3 171.6L160.8 171.2L162.3 170.9M132.9 165.6L134.4 164.3L135.9 162.9M158.4 170.1L159.9 171.7L161.4 171.4L162.9 171.0M135.4 164.4L136.9 163.0M157.9 168.4L159.4 170.3L160.9 171.9L162.4 171.6L163.9 171.2M136.0 164.4L137.5 163.1M158.5 168.5L160.0 170.4L161.5 172.0L163.0 171.7L164.5 171.4L166.0 171.0M137.0 164.6L138.5 163.2M159.5 168.8L161.0 170.7L162.5 172.3L164.0 171.9L165.5 171.6L167.0 171.1M137.6 164.6L139.1 163.3M160.1 168.9L161.6 170.8L163.1 172.4L164.6 172.1L166.1 171.7L167.6 171.2M138.6 164.8L140.1 163.5M161.1 168.7L162.6 171.0L164.1 172.6L165.6 172.3L167.1 171.8L168.6 171.4L170.1 171.0M139.2 164.9L140.7 163.7L142.2 160.8M161.7 168.5L163.2 171.1L164.7 172.7L166.2 172.3L167.7 171.9L169.2 171.5L170.7 171.1M141.7 164.0L143.2 161.2M162.7 168.0L164.2 171.4M167.2 172.5L168.7 172.1L170.2 171.7L171.7 171.3M142.3 164.2L143.8 161.4M163.3 167.8L164.8 171.5M167.8 172.6L169.3 172.2L170.8 171.8L172.3 171.4L173.8 170.9M143.3 164.6L144.8 161.7M164.3 167.3L165.8 170.9M170.3 172.4L171.8 171.9L173.3 171.5L174.8 171.1M143.9 164.8L145.4 162.1M164.9 167.1L166.4 170.4M170.9 172.4L172.4 172.0L173.9 171.6L175.4 171.1M123.9 157.4L123.1 157.1M144.9 165.2L146.4 163.1L147.9 160.9M165.9 166.3L167.4 169.5L168.9 172.6M171.9 172.6L173.4 172.2L174.9 171.8L176.4 171.1M124.5 157.1L124.1 156.9M124.5 157.1L126.0 157.7M147.0 163.6L148.5 161.4M168.0 169.0L169.5 172.1M172.5 172.7L174.0 172.3L175.5 171.8L177.0 171.0M127.0 157.0L125.9 156.5M127.0 157.0L128.5 157.7L130.0 158.4L131.5 159.0M148.0 164.7L149.5 162.4M169.0 168.0L170.5 171.1M175.0 172.5L176.5 171.7L178.0 171.0M127.6 156.7L126.8 156.3M127.6 156.7L129.1 157.4L130.6 158.0L132.1 158.6L133.6 159.2L135.1 159.8M148.6 165.3L150.1 162.9M169.6 167.5L171.1 170.6L172.6 172.0M175.6 172.4L177.1 171.7L178.6 170.9M130.1 156.6L128.6 156.0M130.1 156.6L131.6 157.2L133.1 157.8L134.6 158.4L136.1 159.0L137.6 159.6L139.1 160.3L140.6 161.1M151.1 163.9L152.6 161.4M170.6 166.6L172.1 169.5L173.6 170.9M176.6 172.4L178.1 171.6L179.6 170.8L181.1 170.1M130.7 156.2L129.6 155.8M130.7 156.2L132.2 156.8L133.7 157.4L135.2 158.0L136.7 158.6L138.2 159.2L139.7 159.9L141.2 160.7M151.7 164.5L153.2 161.7M171.2 166.1L172.7 169.0L174.2 170.4L175.7 171.7M177.2 172.3L178.7 171.6L180.2 170.8L181.7 170.1M131.7 155.4L131.4 155.3M131.7 155.4L133.2 156.0L134.7 156.6L136.2 157.2L137.7 157.8L139.2 158.5L140.7 159.2L142.2 160.1L143.7 161.0M152.7 165.5L154.2 162.2M173.7 167.9L175.2 169.3L176.7 170.4L178.2 171.5L179.7 171.5L181.2 170.7L182.7 170.0M133.8 155.6L132.3 155.1M133.8 155.6L135.3 156.2L136.8 156.8L138.3 157.4L139.8 158.1L141.3 158.9L142.8 159.7L144.3 160.7M153.3 165.8L154.8 162.5M174.3 167.1L175.8 168.4L177.3 169.5L178.8 170.5L180.3 171.1L181.8 170.3M134.8 154.8L134.1 154.6M134.8 154.8L136.3 155.4L137.8 156.0L139.3 156.6L140.8 157.4L142.3 158.2L143.8 159.0L145.3 160.1L146.8 161.8M135.4 154.4L136.9 155.0L138.4 155.6L139.9 156.3L141.4 157.0L142.9 157.8L144.4 158.7L145.9 160.0L147.4 161.7M142.4 156.2L143.9 157.1L145.4 158.1L146.9 159.6L148.4 161.4M143.0 155.9L144.5 156.7L146.0 157.9L147.5 159.4L149.0 161.2M145.5 156.0L147.0 157.3L148.5 158.9L150.0 160.7M147.6 157.1L149.1 158.6L150.6 160.4M148.6 156.4L150.1 158.0L151.6 159.8M149.2 156.1L150.7 157.7L152.2 159.4L153.7 161.1M151.7 156.9L153.2 158.5L154.7 160.1M152.3 156.4L153.8 157.9L155.3 159.6L156.8 161.3M154.8 156.8L156.3 158.5L157.8 160.2M155.4 156.3L156.9 157.9L158.4 159.7L159.9 161.6M162.9 162.3L164.4 161.8M157.9 156.8L159.4 158.5L160.9 160.5L162.4 161.0L163.9 161.4L165.4 160.8M160.0 157.9L161.5 159.9L163.0 160.5L164.5 160.9L166.0 160.3M161.0 156.7L162.5 158.7L164.0 159.4L165.5 159.9L167.0 159.3M163.1 158.1L164.6 158.9L166.1 159.3L167.6 158.8M193.8 162.3L195.3 162.0M194.8 162.4L196.3 162.2M195.4 161.7L196.9 162.3L198.4 161.5M196.4 160.4L197.9 162.4L199.4 161.6M198.5 161.8L200.0 161.7"/>
<path stroke="#4759f8" d="M71.0 150.9L72.4 152.5M72.5 151.5L74.1 153.2M74.0 151.9L75.6 153.5M75.5 152.1L77.1 153.5L78.7 154.9M77.0 152.0L78.6 153.4L80.2 154.8M78.5 151.9L80.1 153.3L81.7 154.7M81.6 153.1L83.2 154.5L84.8 156.0M83.1 152.8L84.7 154.3L86.3 156.0M86.2 154.3L87.8 156.1M87.7 154.5L89.3 156.0M89.2 154.5L90.8 156.0L92.4 157.5M90.7 154.7L92.3 156.3L93.9 157.7M92.2 155.1L93.8 156.6L95.4 158.0M93.7 155.6L95.3 157.1L96.9 158.5M95.2 156.2L96.8 157.7L98.4 159.0M96.7 156.9L98.3 158.4L99.9 159.5M98.2 157.7L99.8 158.9L101.4 159.4L103.0 159.7M99.7 158.4L101.3 159.0L102.9 159.4L104.5 159.8M101.2 158.5L102.8 159.0L104.4 159.5L106.0 160.5M136.4 154.2L137.0 153.8M136.9 154.4L138.2 153.4M102.7 158.7L104.3 159.2L105.9 159.7M137.9 154.8L139.5 153.6L140.6 152.8M138.4 155.0L140.0 153.8L141.6 152.6L141.8 152.5M104.2 158.9L105.8 159.5L107.4 161.6M139.4 155.4L141.0 154.3L142.6 153.0L144.2 151.8M106.3 160.0L107.9 162.1M139.9 155.6L141.5 154.5L143.1 153.3L144.7 152.0L145.4 151.5M105.7 159.3L107.3 160.9L108.9 162.9M140.9 156.1L142.5 155.0L144.1 153.8L145.7 152.5L147.3 151.2M106.2 159.3L107.8 161.3L109.4 163.3M141.4 156.4L143.0 155.2L144.6 154.0L146.2 152.8L147.8 151.5M107.2 160.1L108.8 162.0M144.0 155.7L145.6 154.6L147.2 153.5L148.8 152.2M107.7 160.5L109.3 162.4M144.5 156.0L146.1 155.0L147.7 153.9L149.3 152.6M108.7 161.1L110.3 163.0M145.5 156.7L147.1 155.8L148.7 154.8L150.3 153.5L151.9 151.9M109.2 161.4L110.8 163.2M147.6 156.3L149.2 155.2L150.8 153.9L152.4 152.4M110.2 161.9L111.8 163.7M150.2 156.2L151.8 154.9L153.4 153.2M110.7 162.1L112.3 163.9M150.7 156.7L152.3 155.4L153.9 153.7L155.5 151.9M110.1 160.9L111.7 162.5L113.3 163.6L114.9 164.0M153.3 156.4L154.9 154.7L156.5 152.8M110.6 161.1L112.2 162.6L113.8 163.3L115.4 163.7L117.0 164.1M153.8 156.9L155.4 155.2L157.0 153.4M113.2 162.4L114.8 162.8L116.4 163.1L118.0 163.5L119.6 164.0M156.4 156.2L158.0 154.4L159.6 152.5M113.7 162.1L115.3 162.5L116.9 162.8L118.5 163.2L120.1 163.6M156.9 156.8L158.5 155.0L160.1 153.1M116.3 161.8L117.9 162.2L119.5 162.6L121.1 163.0L122.7 163.4L124.3 163.9M157.9 157.9L159.5 156.1L161.1 154.3M118.4 161.9L120.0 162.3L121.6 162.7L123.2 163.1L124.8 163.6M160.0 156.7L161.6 154.9L163.2 152.9M113.0 163.9L114.6 163.5L116.2 163.0M122.6 162.0L124.2 162.4L125.8 162.9L127.4 163.0L129.0 163.2L130.6 163.3M161.0 158.0L162.6 156.1L164.2 154.2M111.9 163.9L113.5 164.2L115.1 163.7L116.7 163.3L118.3 162.8M123.1 161.7L124.7 162.1L126.3 162.5L127.9 162.6L129.5 162.7L131.1 162.9L132.7 163.0M163.1 156.8L164.7 154.8L166.3 152.7M112.9 164.5L114.5 164.1L116.1 163.7M128.9 161.1L130.5 161.3L132.1 161.4L133.7 161.6L135.3 161.8L136.9 162.0L138.5 162.2M164.1 157.8L165.7 155.8L167.3 153.7M134.2 160.5L135.8 160.7L137.4 160.9L139.0 161.1L140.6 161.5L142.2 162.0M164.6 158.0L166.2 156.1L167.8 154.0M141.6 159.6L143.2 160.1L144.8 160.6L146.4 161.9M165.6 158.4L167.2 156.5L168.8 154.6M143.7 159.1L145.3 159.8L146.9 161.2M166.1 158.6L167.7 156.7L169.3 154.9M147.9 159.8L149.5 161.2M167.1 158.8L168.7 157.1L170.3 155.3M148.4 159.0L150.0 160.4L151.6 161.8M167.6 158.8L169.2 157.1L170.8 155.4M155.8 158.3L157.4 159.0L159.0 159.7L160.6 160.5L162.2 160.2L163.8 159.1L165.4 157.9L167.0 156.5M192.2 159.2L193.8 160.2L195.4 158.7L197.0 157.1M153.2 166.2L154.8 166.6L156.4 166.9L158.0 166.9L159.6 166.3L161.2 165.8L162.8 165.2L164.4 164.5M191.6 158.7L193.2 161.0M196.4 161.8L198.0 159.8L199.6 158.0M153.7 166.9L155.3 167.3L156.9 167.6L158.5 168.0L160.1 167.6L161.7 167.0L163.3 166.4L164.9 165.6L166.5 164.4M192.1 158.6L193.7 160.9L195.3 162.3M198.5 160.5L200.1 158.5L201.7 156.6M151.5 167.0L153.1 167.9L154.7 168.2L156.3 168.6L157.9 168.9L159.5 169.3M165.9 167.8L167.5 166.4L169.1 165.1L170.7 163.7M193.1 158.3L194.7 160.7L196.3 161.9M199.5 161.7L201.1 159.6L202.7 157.5M152.0 167.9L153.6 168.5L155.2 168.9L156.8 169.2L158.4 169.6M168.0 167.5L169.6 166.1L171.2 164.6M195.2 160.5L196.8 161.6L198.4 161.8M200.0 162.0L201.6 160.1L203.2 157.9M151.4 168.5L153.0 169.4L154.6 169.8L156.2 170.1M170.6 168.1L172.2 166.6L173.8 164.2M196.2 159.8L197.8 160.9L199.4 161.2L201.0 161.5L202.6 161.0L204.2 158.8M150.3 168.1L151.9 169.3L153.5 170.0L155.1 170.4L156.7 170.7M172.7 167.6L174.3 165.2M196.7 159.4L198.3 160.6L199.9 160.8L201.5 161.2L203.1 161.4L204.7 159.2M151.3 169.0L152.9 170.0L154.5 170.3L156.1 170.7L157.7 171.0M173.7 168.9L175.3 166.4L176.9 162.9M200.9 159.8L202.5 160.1L204.1 160.4L205.7 159.6L207.3 157.5M151.8 169.2L153.4 169.9L155.0 170.2L156.6 170.6L158.2 170.9M175.8 166.7L177.4 163.2M203.0 159.5L204.6 159.7L206.2 159.8L207.8 157.6M154.4 169.7L154.3 169.6M154.4 169.7L156.0 170.0L157.6 170.3L159.2 170.7L160.8 171.0M176.8 167.5L178.4 163.8M156.5 169.9L155.9 169.8M156.5 169.9L158.1 170.2L159.7 170.6L161.3 170.9M177.3 167.8L178.9 164.2M160.7 170.3L159.3 170.0M160.7 170.3L162.3 170.7L163.9 171.0M178.3 168.5L179.9 164.8M161.2 170.2L161.0 170.2M161.2 170.2L162.8 170.6L164.4 170.9L166.0 171.2M178.8 168.9L180.4 165.1M165.4 170.6L164.4 170.5M165.4 170.6L167.0 170.9L168.6 171.2M179.8 169.6L181.4 165.7M165.9 170.5L165.7 170.5M165.9 170.5L167.5 170.8L169.1 171.0M180.3 169.9L181.9 166.0M168.5 170.5L167.7 170.4M168.5 170.5L170.1 170.8L171.7 171.0M181.3 170.1L182.9 166.6M169.0 170.4L168.7 170.3M169.0 170.4L170.6 170.6L172.2 170.9L173.8 171.2M181.8 169.8L183.4 166.9M171.6 170.4L170.7 170.2M171.6 170.4L173.2 170.6L174.8 170.9L176.4 170.8L178.0 170.7M181.2 170.5L182.8 169.3L184.4 167.1M172.1 170.2L171.7 170.2M172.1 170.2L173.7 170.5L175.3 170.7L176.9 170.6L178.5 170.5L180.1 170.4L181.7 170.3L183.3 169.1L184.9 166.8M174.7 170.2L173.8 170.1M174.7 170.2L176.3 170.2L177.9 170.1L179.5 170.0L181.1 169.9L182.7 169.8L184.3 168.6L185.9 166.4M175.2 170.0L174.8 170.0M175.2 170.0L176.8 169.9L178.4 169.8L180.0 169.7L181.6 169.6L183.2 169.5L184.8 168.4M177.8 169.4L176.8 169.5M177.8 169.4L179.4 169.3L181.0 169.2L182.6 169.1L184.2 169.0L185.8 167.9M179.9 169.1L181.5 169.0L183.1 168.9L184.7 168.8L186.3 167.6M112.0 163.2L113.5 164.6M71.0 151.3L70.9 151.3M71.0 151.3L72.5 151.9L74.0 152.3L75.5 152.6L77.0 152.5L78.5 152.4M113.0 163.5L114.5 164.3M113.6 163.3L115.1 164.2M75.6 154.0L77.1 154.0L78.6 153.9L80.1 153.8L81.6 153.6L83.1 153.4M114.6 163.0L116.1 163.9M109.2 161.1L110.7 161.8L112.2 162.2M115.2 162.9L116.7 163.7M81.7 155.2L83.2 155.0L84.7 154.9L86.2 154.9L87.7 155.0L89.2 155.0L90.7 155.1L92.2 155.5L93.7 155.9L95.2 156.5L96.7 157.2L98.2 158.0L99.7 158.5L101.2 158.7L102.7 158.8L104.2 159.0L105.7 159.4L107.2 160.4L108.7 161.4L110.2 162.3L111.7 162.9L113.2 162.8L114.7 161.9M116.2 162.6L117.7 163.4M106.3 159.8L107.8 161.0L109.3 162.0L110.8 162.9L112.3 163.5L113.8 162.9L115.3 162.0M116.8 162.4L118.3 163.3M89.3 156.5L90.8 156.5L92.3 156.7L93.8 157.0L95.3 157.4L96.8 158.0L98.3 158.6L99.8 159.1L101.3 159.1L102.8 159.2L104.3 159.3L105.8 159.6L107.3 161.1L108.8 162.3L110.3 163.3M113.3 164.0L114.8 163.2L116.3 162.3L117.8 162.1M106.4 160.4L107.9 161.8M113.9 164.2L115.4 163.3L116.9 162.4L118.4 161.9M101.4 159.5L102.9 159.5L104.4 159.6L105.9 159.8L107.4 161.9M116.4 163.6L117.9 162.6L119.4 161.7M117.0 163.7L118.5 162.8L120.0 161.8M118.0 164.0L119.5 163.0L121.0 162.1M118.6 164.1L120.1 163.2L121.6 162.2L123.1 161.7M121.1 163.5L122.6 162.5L124.1 161.4M121.7 163.6L123.2 162.6L124.7 161.6M122.7 163.9L124.2 162.9L125.7 161.9M123.3 164.1L124.8 163.1L126.3 162.0M125.8 163.4L127.3 162.0M151.3 169.2L152.8 169.6L152.9 169.5M126.4 163.5L127.9 162.1M151.9 169.6L153.4 169.7L153.7 169.6M127.4 163.6L128.9 162.2M151.4 168.0L152.9 170.2L154.4 169.9L155.2 169.7M128.0 163.6L129.5 162.2M152.0 168.4L153.5 170.3L155.0 170.0L156.0 169.8M129.0 163.7L130.5 162.3M151.5 166.5L153.0 168.9L154.5 170.6L156.0 170.2L157.5 169.9M129.6 163.7L131.1 162.4M152.1 166.9L153.6 169.0L155.1 170.7L156.6 170.3L158.1 170.0L158.2 170.0M130.6 163.8L132.1 162.5L133.6 159.3M153.1 167.3L154.6 169.3L156.1 170.9L157.6 170.6L159.1 170.2L159.8 170.1M132.7 162.5L134.2 159.4M153.7 167.4L155.2 169.4L156.7 171.0L158.2 170.7L159.7 170.3L160.5 170.1M133.7 162.6L135.2 159.5M153.2 165.6L154.7 167.7L156.2 169.6M159.2 170.9L160.7 170.6L162.0 170.3M134.3 162.7L135.8 159.6M153.8 165.8L155.3 167.8L156.8 169.7M159.8 171.0L161.3 170.7L162.8 170.3M135.3 162.8L136.8 159.7M154.8 166.0L156.3 168.0L157.8 170.0M162.3 170.9L163.8 170.6L164.3 170.4M135.9 162.9L137.4 159.8M155.4 166.1L156.9 168.2L158.4 170.1M162.9 171.0L164.4 170.7L165.1 170.5M136.9 163.0L138.4 159.9M156.4 166.0L157.9 168.4M163.9 171.2L165.4 170.9L166.9 170.5L167.2 170.4M137.5 163.1L139.0 160.0M157.0 165.8L158.5 168.5M166.0 171.0L167.5 170.6L168.2 170.3M138.5 163.2L140.0 160.2M158.0 165.5L159.5 168.8M167.0 171.1L168.5 170.7L170.0 170.3L170.3 170.2M139.1 163.3L140.6 160.3M158.6 165.3L160.1 168.9M167.6 171.2L169.1 170.8L170.6 170.4L171.4 170.2M140.1 163.5L141.6 160.7M159.6 165.0L161.1 168.7M170.1 171.0L171.6 170.6L173.1 170.2L173.5 170.1M160.2 164.8L161.7 168.5M170.7 171.1L172.2 170.7L173.7 170.3L174.6 170.0M143.2 161.2L144.7 158.4M161.2 164.4L162.7 168.0M171.7 171.3L173.2 170.9L174.7 170.4L176.2 169.8L176.7 169.5M143.8 161.4L145.3 158.7M161.8 164.2L163.3 167.8M173.8 170.9L175.3 170.5L176.8 169.7L177.7 169.3M144.8 161.7L146.3 159.6M162.8 163.8L164.3 167.3M174.8 171.1L176.3 170.4L177.8 169.7L179.3 168.9M145.4 162.1L146.9 160.0M163.4 163.5L164.9 167.1M175.4 171.1L176.9 170.4L178.4 169.6L179.9 168.9M147.9 160.9L149.4 158.8M164.4 163.1L165.9 166.3M176.4 171.1L177.9 170.3L179.4 169.6L180.9 168.8M148.5 161.4L150.0 159.2M165.0 162.9L166.5 165.9L168.0 169.0M177.0 171.0L178.5 170.3L180.0 169.5L181.5 168.8M149.5 162.4L151.0 160.1M167.5 165.0L169.0 168.0M178.0 171.0L179.5 170.2L181.0 169.5L182.5 168.7M150.1 162.9L151.6 160.5M168.1 164.5L169.6 167.5M178.6 170.9L180.1 170.2L181.6 169.4L183.1 168.7M169.1 163.7L170.6 166.6M181.1 170.1L182.6 169.4L184.1 168.6M169.7 163.2L171.2 166.1M181.7 170.1L183.2 169.3L184.7 168.6M172.2 165.1L173.7 167.9M182.7 170.0L184.2 169.2L185.7 168.5M172.8 164.3L174.3 167.1M181.8 170.3L183.3 169.6L184.8 168.9L186.3 168.1M175.3 164.8L176.8 165.9L178.3 166.9L179.8 167.9L181.3 168.9L182.8 168.8L184.3 168.1L185.8 167.4M135.4 154.4L135.1 154.3M177.4 164.7L178.9 165.7L180.4 166.7L181.9 167.6L183.4 168.1L184.9 167.4M137.9 154.2L136.9 153.8M137.9 154.2L139.4 154.8L140.9 155.5L142.4 156.2M138.5 153.8L137.8 153.5M138.5 153.8L140.0 154.4L141.5 155.1L143.0 155.9M141.0 153.6L139.6 153.0M141.0 153.6L142.5 154.3L144.0 155.1L145.5 156.0M159.0 164.6L160.5 151.4M141.6 153.2L140.6 152.8M141.6 153.2L143.1 153.9L144.6 154.7L146.1 155.7L147.6 157.1M159.6 164.9L161.1 151.7M142.6 152.4L142.4 152.3M142.6 152.4L144.1 153.1L145.6 153.9L147.1 155.1L148.6 156.4M160.6 164.6L162.1 152.1M144.7 152.7L143.3 152.0M144.7 152.7L146.2 153.6L147.7 154.7L149.2 156.1M161.2 164.2L162.7 152.3M145.7 151.8L145.1 151.5M145.7 151.8L147.2 152.8L148.7 153.9L150.2 155.3L151.7 156.9M162.2 163.4L163.7 152.7M147.8 152.3L149.3 153.5L150.8 154.9L152.3 156.4M162.8 163.0L164.3 152.6M150.3 152.6L151.8 153.9L153.3 155.3L154.8 156.8M163.8 162.2L165.3 152.0M150.9 152.0L152.4 153.4L153.9 154.8L155.4 156.3M153.4 152.2L154.9 153.6L156.4 155.1L157.9 156.8M155.5 153.0L157.0 154.5L158.5 156.2L160.0 157.9M158.0 153.3L159.5 154.9L161.0 156.7M158.6 152.6L160.1 154.3L161.6 156.1L163.1 158.1M161.1 153.0L162.6 154.8L164.1 156.8L165.6 157.6L167.1 158.1L168.6 157.8M163.2 154.2L164.7 156.2L166.2 157.0L167.7 157.5L169.2 157.3M164.2 152.8L165.7 154.8L167.2 155.7L168.7 156.3L170.2 156.3M166.3 154.1L167.8 155.0L169.3 155.7L170.8 155.8M191.6 159.5L193.1 159.2M192.2 160.2L193.7 160.0L195.2 159.5M191.7 155.4L193.2 161.8L194.7 161.6L196.2 160.8L197.7 159.6M192.3 155.3L193.8 162.3M195.3 162.0L196.8 161.2L198.3 160.0M193.3 154.7L194.8 162.4M196.3 162.2L197.8 161.4L199.3 160.2M193.9 154.4L195.4 161.7M198.4 161.5L199.9 160.3M199.4 161.6L200.9 160.5L202.4 158.7M197.0 159.8L198.5 161.8M200.0 161.7L201.5 160.6L203.0 158.8M198.0 158.6L199.5 160.4L201.0 161.9L202.5 160.8L204.0 159.0M198.6 158.0L200.1 159.8L201.6 161.3L203.1 160.9L204.6 159.1M199.6 156.8L201.1 158.4L202.6 159.8L204.1 161.1L205.6 159.2M201.7 157.7L203.2 159.1L204.7 160.3L206.2 159.2M204.2 157.7L205.7 158.8L207.2 159.1"/>
<path stroke="#4562fc" d="M66.3 146.8L67.9 148.5L68.8 149.6M67.8 147.4L69.4 149.1L71.0 150.9M69.3 148.0L70.9 149.7L72.5 151.5M70.8 148.5L72.4 150.2L74.0 151.9M72.3 149.0L73.9 150.5L75.5 152.1M73.8 149.2L75.4 150.7L77.0 152.0M76.9 150.6L78.5 151.9M78.4 150.5L80.0 151.8L81.6 153.1M79.9 150.2L81.5 151.5L83.1 152.8M83.0 151.2L84.6 152.7L86.2 154.3M84.5 151.0L86.1 152.6L87.7 154.5M87.6 152.8L89.2 154.5M89.1 153.1L90.7 154.7M90.6 153.3L92.2 155.1M92.1 153.9L93.7 155.6M93.6 154.5L95.2 156.2M93.5 153.4L95.1 155.3L96.7 156.9M95.0 154.3L96.6 156.1L98.2 157.7M96.5 155.3L98.1 157.0L99.7 158.4M98.0 156.4L99.6 157.8L101.2 158.5M99.5 157.2L101.1 158.1L102.7 158.7M99.4 156.7L101.0 157.6L102.6 158.3L104.2 158.9M100.9 157.1L102.5 157.9L104.1 158.7L105.7 159.3M147.3 151.2L147.7 150.8M147.8 151.5L148.9 150.5M102.4 157.5L104.0 158.3L105.6 159.1L107.2 160.1M148.8 152.2L150.4 150.7L151.3 149.7M106.1 158.7L107.7 160.5M149.3 152.6L150.9 151.1L152.5 149.3M103.9 158.0L105.5 158.9L107.1 159.4L108.7 161.1M151.9 151.9L153.5 150.1L154.9 148.3M106.0 158.1L107.6 159.7L109.2 161.4M152.4 152.4L154.0 150.5L155.6 148.5M107.0 158.7L108.6 160.3L110.2 161.9M153.4 153.2L155.0 151.4L156.6 149.4M107.5 159.0L109.1 160.5L110.7 162.1M155.5 151.9L157.1 149.9M108.5 159.4L110.1 160.9M156.5 152.8L158.1 150.9L159.7 148.9M109.0 159.6L110.6 161.1M157.0 153.4L158.6 151.4L160.2 149.4M108.4 159.5L110.0 160.3L111.6 161.3L113.2 162.4M159.6 152.5L161.2 150.5M108.9 160.0L110.5 160.9L112.1 161.7L113.7 162.1M160.1 153.1L161.7 151.1L163.3 149.0M108.3 160.2L109.9 161.2L111.5 162.2L113.1 162.6L114.7 162.2L116.3 161.8M161.1 154.3L162.7 152.3L164.3 150.2M108.8 160.8L110.4 161.9L112.0 162.8L113.6 162.9L115.2 162.4L116.8 161.9L118.4 161.9M163.2 152.9L164.8 150.8M108.2 160.9L109.8 162.1L111.4 163.2L113.0 163.9M116.2 163.0L117.8 162.5L119.4 162.0L121.0 161.6L122.6 162.0M164.2 154.2L165.8 152.1L167.4 149.9M108.7 161.6L110.3 162.8L111.9 163.9M118.3 162.8L119.9 162.3L121.5 161.8L123.1 161.7M166.3 152.7L167.9 150.5M109.7 162.4L111.3 163.6L112.9 164.5M116.1 163.7L117.7 163.3L119.3 162.8L120.9 162.4L122.5 161.9L124.1 161.3L125.7 160.8L127.3 161.0L128.9 161.1M167.3 153.7L168.9 151.6L170.5 149.4M110.2 162.3L111.8 163.6L113.4 164.0L115.0 163.6L116.6 163.2L118.2 162.8L119.8 162.4L121.4 161.9L123.0 161.4L124.6 160.9L126.2 160.4L127.8 159.9L129.4 160.0L131.0 160.2L132.6 160.3L134.2 160.5M167.8 154.0L169.4 152.0L171.0 149.9M111.2 162.1L112.8 163.2L114.4 162.9L116.0 162.5L117.6 162.2L119.2 161.8L120.8 161.4L122.4 161.0L124.0 160.6L125.6 160.1L127.2 159.5M133.6 158.2L135.2 158.4L136.8 158.6L138.4 158.8L140.0 159.1L141.6 159.6M168.8 154.6L170.4 152.6L172.0 150.6M113.3 162.6L114.9 162.3L116.5 162.0L118.1 161.6L119.7 161.3L121.3 160.9L122.9 160.5L124.5 160.2L126.1 159.7M137.3 157.6L138.9 157.8L140.5 158.2L142.1 158.6L143.7 159.1M169.3 154.9L170.9 153.0L172.5 151.0M143.1 156.8L144.7 157.3L146.3 158.4L147.9 159.8M170.3 155.3L171.9 153.5L173.5 151.7M145.2 156.5L146.8 157.8L148.4 159.0M170.8 155.4L172.4 153.7L174.0 152.0M151.0 155.5L152.6 156.8L154.2 157.6L155.8 158.3M167.0 156.5L168.6 155.4L170.2 154.2L171.8 153.0L173.4 151.8M157.9 154.7L159.5 155.4L161.1 156.0L162.7 156.6L164.3 155.7L165.9 154.5L167.5 153.3M190.1 155.2L191.7 157.3L193.3 157.5L194.9 156.4L196.5 155.0L198.1 153.7M189.0 154.9L190.6 157.0L192.2 159.2M197.0 157.1L198.6 155.5L200.2 154.1M150.0 164.3L151.6 165.4L153.2 166.2M164.4 164.5L166.0 163.4L167.6 162.2L169.2 160.9M190.0 156.5L191.6 158.7M199.6 158.0L201.2 156.1L202.8 154.3M148.9 164.0L150.5 165.2L152.1 166.3L153.7 166.9M166.5 164.4L168.1 163.1L169.7 161.8L171.3 159.9M190.5 156.4L192.1 158.6M201.7 156.6L203.3 154.7L204.9 153.1M148.3 164.6L149.9 165.8L151.5 167.0M170.7 163.7L172.3 161.6M191.5 156.1L193.1 158.3M202.7 157.5L204.3 155.6L205.9 153.8M148.8 165.5L150.4 166.7L152.0 167.9M171.2 164.6L172.8 162.5L174.4 159.6M192.0 155.9L193.6 158.2L195.2 160.5M203.2 157.9L204.8 155.9L206.4 154.1M148.2 166.0L149.8 167.2L151.4 168.5M173.8 164.2L175.4 161.2M194.6 157.7L196.2 159.8M204.2 158.8L205.8 156.7L207.4 154.7M148.7 166.8L150.3 168.1M174.3 165.2L175.9 161.9M195.1 157.5L196.7 159.4M204.7 159.2L206.3 157.0L207.9 155.0M149.7 167.7L149.2 167.3M149.7 167.7L151.3 169.0M176.9 162.9L178.5 159.6M196.1 156.4L197.7 158.3L199.3 159.4L200.9 159.8M207.3 157.5L208.9 155.4M151.8 169.2L150.9 168.4M177.4 163.2L179.0 159.9M198.2 157.6L199.8 158.7L201.4 159.1L203.0 159.5M207.8 157.6L209.4 155.5M178.4 163.8L180.0 160.5M200.8 157.5L202.4 157.9L204.0 158.3L205.6 158.5L207.2 158.7L208.8 157.7L210.4 155.7M178.9 164.2L180.5 160.8M202.9 157.3L204.5 157.7L206.1 157.9L207.7 158.1L209.3 157.8L210.9 155.8M179.9 164.8L181.5 161.3M207.1 156.8L208.7 156.9L210.3 157.0L211.9 155.9M180.4 165.1L182.0 161.6M181.4 165.7L183.0 162.2M181.9 166.0L183.5 162.4M182.9 166.6L184.5 163.0M183.4 166.9L185.0 163.3M184.4 167.1L186.0 163.8M184.9 166.8L186.5 164.0M185.9 166.4L187.5 164.1M184.8 168.4L186.4 166.1L188.0 163.9M185.8 167.9L187.4 165.7L189.0 163.4M178.3 169.2L177.8 169.2M178.3 169.2L179.9 169.1M186.3 167.6L187.9 165.5M180.9 168.6L179.8 168.7M180.9 168.6L182.5 168.5L184.1 168.4L185.7 168.3L187.3 167.2L188.9 165.0M181.4 168.4L180.9 168.4M181.4 168.4L183.0 168.3L184.6 168.2L186.2 168.0L187.8 166.9L189.4 164.8M184.0 167.8L182.9 167.8M184.0 167.8L185.6 167.7L187.2 167.6L188.8 166.4M184.5 167.5L183.9 167.6M184.5 167.5L186.1 167.4L187.7 167.3L189.3 166.2M187.1 166.9L185.9 167.0M187.1 166.9L188.7 166.8M108.2 160.7L109.7 162.7L111.2 162.7L112.7 162.2M108.8 161.1L110.3 163.1L111.8 163.1L113.3 162.1M67.8 147.8L69.3 148.4L70.8 148.9L72.3 149.4L73.8 149.6M108.3 160.0L109.8 161.8L111.3 163.9L112.8 163.6L114.3 161.9M108.9 160.3L110.4 162.2L111.9 164.3L113.4 163.5L114.9 161.8M69.4 149.5L68.2 149.0M69.4 149.5L70.9 150.1L72.4 150.6L73.9 151.0L75.4 151.2L76.9 151.1L78.4 151.0L79.9 150.7M99.4 156.9L100.9 157.3M108.4 159.2L109.9 160.9L111.4 162.9L112.9 164.7L114.4 163.3L115.9 161.6M109.0 159.5L110.5 161.2L112.0 163.2M113.5 164.6L115.0 163.2L116.5 161.5M78.5 152.4L80.0 152.3L81.5 152.0L83.0 151.7L84.5 151.5M95.0 154.7L96.5 155.6L98.0 156.6L99.5 157.4L101.0 157.7L102.5 158.0L104.0 158.5L105.5 159.0L107.0 159.0L108.5 159.7L110.0 160.2L111.5 161.8L113.0 163.5M114.5 164.3L116.0 162.9L117.5 161.3M106.1 158.5L107.6 159.5L109.1 160.2L110.6 160.7L112.1 162.1L113.6 163.3M115.1 164.2L116.6 162.8L118.1 161.2M83.1 153.4L84.6 153.2L86.1 153.2L87.6 153.4L89.1 153.6L90.6 153.8L92.1 154.3L93.6 154.9L95.1 155.6L96.6 156.4L98.1 157.3L99.6 158.0L101.1 158.2L102.6 158.4L104.1 158.8L105.6 159.2L107.1 159.6L108.6 160.6L110.1 161.2L111.6 161.7L113.1 162.2L114.6 163.0M116.1 163.9L117.6 162.6L119.1 161.0M106.2 159.1L107.7 160.2L109.2 161.1M112.2 162.2L113.7 162.0L115.2 162.9M116.7 163.7L118.2 162.4L119.7 160.9M114.7 161.9L116.2 162.6M117.7 163.4L119.2 162.2L120.7 160.7M115.3 162.0L116.8 162.4M118.3 163.3L119.8 162.0L121.3 160.5M117.8 162.1L119.3 163.0L120.8 161.7L122.3 160.3M118.4 161.9L119.9 162.8L121.4 161.6L122.9 160.2M119.4 161.7L120.9 162.5L122.4 161.3L123.9 160.0M120.0 161.8L121.5 162.3L123.0 161.2L124.5 159.8M121.0 162.1L122.5 161.9L124.0 160.9L125.5 159.6M123.1 161.7L124.6 160.7L126.1 159.5M124.1 161.4L125.6 160.4L127.1 159.0M148.1 166.7L148.4 166.8M124.7 161.6L126.2 160.2M148.7 167.1L149.2 167.3M125.7 161.9L127.2 159.7M148.2 165.5L149.7 167.9L150.7 168.3M126.3 162.0L127.8 159.4M148.8 165.9L150.3 168.4L151.4 168.8M127.3 162.0L128.8 158.9M148.3 164.1L149.8 166.8L151.3 169.2M127.9 162.1L129.4 158.9M148.9 164.5L150.4 167.2L151.9 169.6M128.9 162.2L130.4 159.0M149.9 165.3L151.4 168.0M129.5 162.2L131.0 159.0M149.0 163.0L150.5 165.7L152.0 168.4M130.5 162.3L132.0 159.2M150.0 163.8L151.5 166.5M131.1 162.4L132.6 159.2M150.6 164.1L152.1 166.9M151.6 164.9L153.1 167.3M152.2 165.2L153.7 167.4M135.2 159.5L136.7 156.5M135.8 159.6L137.3 156.6M136.8 159.7L138.3 156.7M137.4 159.8L138.9 156.8M138.4 159.9L139.9 157.0M139.0 160.0L140.5 157.1M140.0 160.2L141.5 157.4M140.6 160.3L142.1 157.6M141.6 160.7L143.1 157.9M142.2 160.8L143.7 158.0M144.7 158.4L146.2 156.3M145.3 158.7L146.8 156.7M146.3 159.6L147.8 157.5M179.3 168.9L179.8 168.7M146.9 160.0L148.4 157.9M179.9 168.9L180.9 168.4M180.9 168.8L182.4 168.1L183.0 167.8M181.5 168.8L183.0 168.0L184.0 167.5M166.0 162.1L167.5 165.0M182.5 168.7L184.0 168.0L185.5 167.2L186.1 166.9M166.6 161.7L168.1 164.5M183.1 168.7L184.6 167.9L186.1 167.2L187.2 166.6M167.6 160.9L169.1 163.7M184.1 168.6L185.6 167.9L187.1 167.1L188.6 166.4M168.2 160.5L169.7 163.2M184.7 168.6L186.2 167.8L187.7 167.1L189.2 166.4M154.2 162.2L155.7 149.6M169.2 159.7L170.7 162.3L172.2 165.1M185.7 168.5L187.2 167.8L188.7 167.0L190.2 166.3M154.8 162.5L156.3 149.9M169.8 159.1L171.3 161.6L172.8 164.3M186.3 168.1L187.8 167.4L189.3 166.7M155.8 163.0L157.3 150.2M172.3 159.8L173.8 162.3L175.3 164.8M185.8 167.4L187.3 166.7L188.8 166.0M156.4 163.3L157.9 150.4M174.4 161.4L175.9 163.7L177.4 164.7M184.9 167.4L186.4 166.7L187.9 166.0L189.4 165.3M157.4 163.8L158.9 150.8M176.9 161.4L178.4 162.4L179.9 163.3L181.4 164.2L182.9 165.1L184.4 166.0L185.9 165.8L187.4 165.2L188.9 164.5M158.0 164.1L159.5 151.0M179.0 161.3L180.5 162.2L182.0 163.0L183.5 163.9L185.0 164.7L186.5 165.1L188.0 164.4M146.3 151.4L146.1 151.3M146.3 151.4L147.8 152.3M148.8 151.4L147.9 150.8M148.8 151.4L150.3 152.6M149.4 150.9L148.8 150.5M149.4 150.9L150.9 152.0M164.4 161.8L165.9 151.6M151.9 150.9L150.6 149.9M151.9 150.9L153.4 152.2M165.4 160.8L166.9 151.0M152.5 150.3L151.6 149.6M152.5 150.3L154.0 151.6L155.5 153.0M166.0 160.3L167.5 150.6M153.5 149.0L153.4 148.9M153.5 149.0L155.0 150.3L156.5 151.7L158.0 153.3M167.0 159.3L168.5 150.1M155.6 149.7L154.3 148.6M155.6 149.7L157.1 151.1L158.6 152.6M167.6 158.8L169.1 149.9M158.1 149.7L159.6 151.3L161.1 153.0M168.6 157.8L170.1 149.6M158.7 149.1L160.2 150.6L161.7 152.3L163.2 154.2M169.2 157.3L170.7 149.4M161.2 149.3L162.7 151.0L164.2 152.8M170.2 156.3L171.7 149.0M163.3 150.3L164.8 152.1L166.3 154.1M165.8 150.7L167.3 152.6L168.8 153.7L170.3 154.5L171.8 154.8M166.4 150.0L167.9 151.9L169.4 153.0L170.9 153.9L172.4 154.2M168.9 150.4L170.4 151.6L171.9 152.6L173.4 153.2M171.0 150.9L172.5 152.0L174.0 152.6M173.5 150.7L175.0 151.6M190.0 157.3L191.5 157.0M190.6 158.0L192.1 157.7L193.6 157.2M190.1 154.0L191.6 159.5M193.1 159.2L194.6 158.7L196.1 157.7M190.7 154.7L192.2 160.2M195.2 159.5L196.7 158.3L198.2 156.4M197.7 159.6L199.2 157.6M198.3 160.0L199.8 157.9M199.3 160.2L200.8 158.2L202.3 156.5M199.9 160.3L201.4 158.4L202.9 156.6M194.9 153.8L196.4 160.4M202.4 158.7L203.9 156.9M195.5 153.4L197.0 159.8M203.0 158.8L204.5 157.0M196.5 152.7L198.0 158.6M204.0 159.0L205.5 157.2M197.1 152.4L198.6 158.0M204.6 159.1L206.1 157.3M198.1 151.7L199.6 156.8M205.6 159.2L207.1 157.4M200.2 156.2L201.7 157.7M206.2 159.2L207.7 157.5M201.2 155.0L202.7 156.4L204.2 157.7M207.2 159.1L208.7 157.5L210.2 155.8M201.8 154.5L203.3 155.8L204.8 157.0L206.3 158.0L207.8 158.4L209.3 157.5L210.8 155.8M202.8 153.4L204.3 154.6L205.8 155.7L207.3 156.6L208.8 157.0L210.3 157.2L211.8 155.8M204.9 154.0L206.4 155.0L207.9 155.9L209.4 156.3L210.9 156.5L212.4 155.8"/>
<path stroke="#416bfe" d="M63.2 144.2L64.8 146.1L65.2 146.6M64.7 145.1L66.3 146.8M66.2 145.7L67.8 147.4M67.7 146.3L69.3 148.0M69.2 146.8L70.8 148.5M70.7 147.3L72.3 149.0M72.2 147.7L73.8 149.2M73.7 147.9L75.3 149.3L76.9 150.6M75.2 147.9L76.8 149.2L78.4 150.5M78.3 149.0L79.9 150.2M79.8 148.7L81.4 149.9L83.0 151.2M82.9 149.6L84.5 151.0M84.4 149.3L86.0 151.0L87.6 152.8M85.9 149.3L87.5 151.2L89.1 153.1M87.4 149.5L89.0 151.5L90.6 153.3M88.9 150.0L90.5 151.9L92.1 153.9M90.4 150.5L92.0 152.7L93.6 154.5M91.9 151.4L93.5 153.4M93.4 152.3L95.0 154.3M94.9 153.4L96.5 155.3M94.8 152.4L96.4 154.5L98.0 156.4M96.3 153.6L97.9 155.6L99.5 157.2M97.8 154.9L99.4 156.7M97.7 154.2L99.3 156.1L100.9 157.1M99.2 155.5L100.8 156.6L102.4 157.5M100.7 156.1L102.3 157.1L103.9 158.0M155.6 148.5L156.1 147.9M102.2 156.7L103.8 157.7L105.4 158.7L107.0 158.7M156.6 149.4L158.2 147.4L158.5 147.0M157.1 149.9L158.7 147.9L159.7 146.5M103.7 157.4L105.3 158.4L106.9 158.1L108.5 159.4M159.7 148.9L161.3 146.7L162.1 145.6M107.4 158.4L109.0 159.6M160.2 149.4L161.8 147.3L163.3 145.2M105.2 158.2L106.8 158.5L108.4 159.5M161.2 150.5L162.8 148.4L164.4 146.2M107.3 159.0L108.9 160.0M163.3 149.0L164.9 146.7M105.1 157.9L106.7 159.1L108.3 160.2M164.3 150.2L165.9 148.0L167.5 145.7M107.2 159.7L108.8 160.8M164.8 150.8L166.4 148.6L168.0 146.4M106.6 159.7L108.2 160.9M167.4 149.9L169.0 147.6M107.1 160.3L108.7 161.6M167.9 150.5L169.5 148.3L171.1 146.0M106.5 159.6L108.1 161.1L109.7 162.4M170.5 149.4L172.1 147.2M107.0 159.6L108.6 161.0L110.2 162.3M171.0 149.9L172.6 147.7M108.0 159.4L109.6 160.8L111.2 162.1M127.2 159.5L128.8 158.7L130.4 157.9L132.0 158.0L133.6 158.2M172.0 150.6L173.6 148.6L175.2 146.7M108.5 159.3L110.1 160.7L111.7 162.0L113.3 162.6M126.1 159.7L127.7 159.0L129.3 158.3L130.9 157.5L132.5 157.0L134.1 157.2L135.7 157.4L137.3 157.6M172.5 151.0L174.1 149.0L175.7 147.2M111.1 160.5L112.7 161.7L114.3 161.5L115.9 161.2L117.5 160.9L119.1 160.6L120.7 160.3L122.3 159.9L123.9 159.6L125.5 159.3L127.1 158.7L128.7 158.0L130.3 157.4L131.9 156.6L133.5 155.8M136.7 155.5L138.3 155.7L139.9 155.9L141.5 156.4L143.1 156.8M173.5 151.7L175.1 149.9L176.7 148.2M111.6 160.4L113.2 161.1L114.8 160.9L116.4 160.6L118.0 160.3L119.6 160.1L121.2 159.7L122.8 159.4L124.4 159.2L126.0 158.8L127.6 158.2L129.2 157.6L130.8 156.9L132.4 156.1M140.4 155.1L142.0 155.5L143.6 156.0L145.2 156.5M174.0 152.0L175.6 150.3L177.2 148.6L178.8 146.9M147.8 153.1L149.4 154.3L151.0 155.5M173.4 151.8L175.0 150.6L176.6 149.3L178.2 148.0M153.1 152.6L154.7 153.4L156.3 154.1L157.9 154.7M167.5 153.3L169.1 152.5L170.7 151.7L172.3 150.8L173.9 149.9L175.5 148.9M189.1 151.5L190.7 152.8L192.3 152.6L193.9 151.9L195.5 151.2M188.5 153.2L190.1 155.2M198.1 153.7L199.7 152.5L201.3 151.3L202.9 150.2M152.2 160.7L153.8 161.3L155.4 161.1L157.0 160.7L158.6 160.3L160.2 159.9L161.8 159.4L163.4 158.9L165.0 158.3L166.6 157.3M200.2 154.1L201.8 152.6L203.4 151.3L205.0 150.0M146.8 162.0L148.4 163.2L150.0 164.3M169.2 160.9L170.8 159.1L172.4 156.7M202.8 154.3L204.4 152.7L206.0 151.2L207.6 149.8M145.7 161.7L147.3 162.9L148.9 164.0M171.3 159.9L172.9 157.4M204.9 153.1L206.5 151.5L208.1 150.0M145.1 162.3L146.7 163.4L148.3 164.6M172.3 161.6L173.9 158.9L175.5 156.3M205.9 153.8L207.5 152.1L209.1 150.6M145.6 163.1L147.2 164.3L148.8 165.5M174.4 159.6L176.0 156.9M206.4 154.1L208.0 152.4L209.6 150.8M145.0 163.5L146.6 164.7L148.2 166.0M175.4 161.2L177.0 158.1M193.0 155.5L194.6 157.7M207.4 154.7L209.0 152.9L210.6 151.3M147.1 165.6L145.8 164.5M147.1 165.6L148.7 166.8M175.9 161.9L177.5 158.7M193.5 155.2L195.1 157.5M207.9 155.0L209.5 153.2L211.1 151.5M194.5 154.4L196.1 156.4M208.9 155.4L210.5 153.5L212.1 151.8M195.0 154.0L196.6 155.8L198.2 157.6M209.4 155.5L211.0 153.6L212.6 151.9M197.6 154.6L199.2 156.3L200.8 157.5M210.4 155.7L212.0 153.8L213.6 152.1M199.7 155.7L201.3 156.9L202.9 157.3M210.9 155.8L212.5 153.9L214.1 152.1M200.7 154.5L202.3 155.7L203.9 156.2L205.5 156.5L207.1 156.8M211.9 155.9L213.5 154.0L215.1 152.2M202.8 155.2L204.4 155.6L206.0 156.0L207.6 156.2L209.2 156.3L210.8 156.4L212.4 155.9L214.0 154.0L215.6 152.2M207.0 154.9L208.6 155.1L210.2 155.2L211.8 155.3L213.4 155.2L215.0 154.0L216.6 152.2M209.1 154.5L210.7 154.7L212.3 154.7L213.9 154.7L215.5 154.0M187.9 165.5L189.5 163.2M188.9 165.0L190.5 162.8M189.4 164.8L191.0 162.6M188.8 166.4L190.4 164.3L192.0 162.1M189.3 166.2L190.9 164.1L192.5 161.9M188.7 166.8L190.3 165.7L191.9 163.7M187.6 166.7L186.9 166.7M187.6 166.7L189.2 166.6L190.8 165.5L192.4 163.4M190.2 166.1L189.0 166.2M190.2 166.1L191.8 165.0L193.4 163.0M190.7 165.8L190.0 165.9M190.7 165.8L192.3 164.8L193.9 162.8M193.3 164.3L192.0 165.3M193.8 164.1L193.0 165.0M106.5 160.0L108.0 160.0M107.1 160.5L108.6 160.4L110.1 160.2M105.1 158.0L106.6 159.5L108.1 161.4L109.6 161.4L111.1 161.1L112.6 160.7M107.2 159.9L108.7 161.9L110.2 161.8L111.7 161.5L113.2 160.6M63.2 144.6L62.7 144.2M63.2 144.6L64.7 145.4L66.2 146.1L67.7 146.6L69.2 147.2L70.7 147.7L72.2 148.1L73.7 148.3L75.2 148.4L76.7 148.2M99.2 155.7L100.7 156.3L102.2 156.8L103.7 157.5L105.2 158.3L106.7 158.9L108.2 160.7M112.7 162.2L114.2 160.4M107.3 159.3L108.8 161.1M113.3 162.1L114.8 160.4M66.3 147.2L65.4 146.7M66.3 147.2L67.8 147.8M73.8 149.6L75.3 149.8L76.8 149.6L78.3 149.5L79.8 149.2L81.3 148.9M96.3 153.9L97.8 155.2L99.3 156.3L100.8 156.8L102.3 157.2L103.8 157.8L105.3 158.5L106.8 158.3L108.3 160.0M114.3 161.9L115.8 160.2M107.4 158.6L108.9 160.3M114.9 161.8L116.4 160.1M79.9 150.7L81.4 150.4L82.9 150.1L84.4 149.9L85.9 149.9L87.4 150.1L88.9 150.5L90.4 151.0L91.9 151.8L93.4 152.7L94.9 153.7L96.4 154.8L97.9 155.9L99.4 156.9M100.9 157.3L102.4 157.6L103.9 158.1L105.4 158.7L106.9 158.3L108.4 159.2M115.9 161.6L117.4 160.0M107.5 158.7L109.0 159.5M116.5 161.5L118.0 159.9M84.5 151.5L86.0 151.5L87.5 151.7L89.0 152.1L90.5 152.4L92.0 153.1L93.5 153.8L95.0 154.7M117.5 161.3L119.0 159.7M118.1 161.2L119.6 159.6M119.1 161.0L120.6 159.4M119.7 160.9L121.2 159.3M120.7 160.7L122.2 159.1M121.3 160.5L122.8 159.0M122.3 160.3L123.8 158.9M122.9 160.2L124.4 158.8M123.9 160.0L125.4 158.6M124.5 159.8L126.0 158.5M125.5 159.6L127.0 158.1M145.0 163.1L146.1 164.9M126.1 159.5L127.6 157.9M145.6 163.5L146.9 165.7M127.1 159.0L128.6 157.5M145.1 161.8L146.6 164.3L148.1 166.7M126.2 160.2L127.7 158.8L129.2 157.3M145.7 162.2L147.2 164.7L148.7 167.1M127.2 159.7L128.7 158.3L130.2 156.9M146.7 163.0L148.2 165.5M127.8 159.4L129.3 158.1L130.8 156.6M145.8 160.8L147.3 163.4L148.8 165.9M128.8 158.9L130.3 157.6L131.8 156.2M146.8 161.5L148.3 164.1M129.4 158.9L130.9 157.3L132.4 155.9M147.4 161.9L148.9 164.5M130.4 159.0L131.9 156.8M148.4 162.6L149.9 165.3M131.0 159.0L132.5 156.5M132.0 159.2L133.5 156.1M132.6 159.2L134.1 156.2M133.6 159.3L135.1 156.3M134.2 159.4L135.7 156.4M137.3 156.6L138.8 153.8M138.3 156.7L139.8 154.0M138.9 156.8L140.4 154.1M139.9 157.0L141.4 154.4M140.5 157.1L142.0 154.5M141.5 157.4L143.0 154.8M142.1 157.6L143.6 155.0M143.1 157.9L144.6 155.3M143.7 158.0L145.2 155.5M151.0 160.1L152.5 148.1M151.6 160.5L153.1 148.3M152.6 161.4L154.1 148.8M188.6 166.4L189.3 166.1M153.2 161.7L154.7 149.1M189.2 166.4L190.3 165.8M190.2 166.3L191.7 165.6L192.4 165.2M189.3 166.7L190.8 165.9L192.3 165.2L193.5 164.6M170.8 157.5L172.3 159.8M188.8 166.0L190.3 165.3L191.8 164.6L193.3 163.9M171.4 156.7L172.9 159.0L174.4 161.4M189.4 165.3L190.9 164.6L192.4 163.9L193.9 163.2M173.9 157.3L175.4 159.4L176.9 161.4M188.9 164.5L190.4 163.8L191.9 163.2L193.4 162.5M174.5 156.5L176.0 158.5L177.5 160.3L179.0 161.3M188.0 164.4L189.5 163.7L191.0 163.1L192.5 162.5M156.6 148.3L156.1 147.9M156.6 148.3L158.1 149.7M157.2 147.6L157.1 147.5M157.2 147.6L158.7 149.1M159.7 147.7L158.9 146.8M159.7 147.7L161.2 149.3M160.3 147.0L159.8 146.5M160.3 147.0L161.8 148.5L163.3 150.3M170.8 155.8L172.3 148.8M162.8 147.1L161.6 145.8M162.8 147.1L164.3 148.8L165.8 150.7M171.8 154.8L173.3 148.4M163.4 146.4L164.9 148.1L166.4 150.0M172.4 154.2L173.9 148.2M165.9 146.6L167.4 148.5L168.9 150.4M173.4 153.2L174.9 147.8M166.5 145.9L168.0 147.8L169.5 149.7L171.0 150.9M174.0 152.6L175.5 147.5M169.0 146.3L170.5 148.2L172.0 149.6L173.5 150.7M175.0 151.6L176.5 147.1M188.5 152.1L190.0 157.3M191.5 157.0L193.0 156.5L194.5 155.6L196.0 154.0M171.1 147.4L172.6 148.9L174.1 150.1L175.6 151.1L177.1 146.8M189.1 152.7L190.6 158.0M193.6 157.2L195.1 156.4L196.6 154.6M173.6 147.5L175.1 148.9L176.6 150.0M196.1 157.7L197.6 155.8M174.2 146.8L175.7 148.3L177.2 149.5M198.2 156.4L199.7 154.5M176.7 147.1L178.2 148.5M190.2 148.2L191.7 155.4M199.2 157.6L200.7 155.7M190.8 148.2L192.3 155.3M199.8 157.9L201.3 156.1L202.8 154.5M202.3 156.5L203.8 154.8M202.9 156.6L204.4 154.9M203.9 156.9L205.4 155.2M204.5 157.0L206.0 155.3M205.5 157.2L207.0 155.5L208.5 153.9M206.1 157.3L207.6 155.6L209.1 153.9M207.1 157.4L208.6 155.7L210.1 154.1M198.7 151.4L200.2 156.2M207.7 157.5L209.2 155.7L210.7 154.1M199.7 150.7L201.2 155.0M210.2 155.8L211.7 154.2M200.3 150.4L201.8 154.5M210.8 155.8L212.3 154.2M201.3 149.8L202.8 153.4M211.8 155.8L213.3 154.2M201.9 149.5L203.4 152.8L204.9 154.0M212.4 155.8L213.9 154.2M202.9 149.0L204.4 151.8L205.9 152.9L207.4 153.8L208.9 154.6L210.4 155.0L211.9 155.2L213.4 155.3L214.9 154.1M203.5 148.7L205.0 151.4L206.5 152.3L208.0 153.3L209.5 154.0L211.0 154.3L212.5 154.5L214.0 154.6L215.5 154.1M206.0 150.4L207.5 151.3L209.0 152.1L210.5 152.8L212.0 153.1L213.5 153.3L215.0 153.4L216.5 153.3M206.6 149.9L208.1 150.8L209.6 151.6L211.1 152.2L212.6 152.5L214.1 152.7L215.6 152.8"/>
<path stroke="#3875fe" d="M60.1 141.3L61.6 143.2M61.6 142.2L63.2 144.2M63.1 143.2L64.7 145.1M63.0 142.1L64.6 144.0L66.2 145.7M64.5 143.0L66.1 144.6L67.7 146.3M66.0 143.6L67.6 145.1L69.2 146.8M67.5 144.0L69.1 145.6L70.7 147.3M69.0 144.5L70.6 146.1L72.2 147.7M70.5 144.9L72.1 146.5L73.7 147.9M72.0 145.3L73.6 146.5L75.2 147.9M75.1 146.5L76.7 147.7L78.3 149.0M76.6 146.3L78.2 147.5L79.8 148.7M79.7 147.2L81.3 148.3L82.9 149.6M81.2 146.8L82.8 147.9L84.4 149.3M84.3 147.6L85.9 149.3M85.8 147.6L87.4 149.5M87.3 147.8L88.9 150.0M88.8 148.5L90.4 150.5M90.3 149.1L91.9 151.4M91.8 150.1L93.4 152.3M93.3 151.2L94.9 153.4M93.2 150.1L94.8 152.4M94.7 151.4L96.3 153.6M96.2 152.8L97.8 154.9M96.1 151.9L97.7 154.2M97.6 153.4L99.2 155.5M97.5 152.6L99.1 154.9L100.7 156.1M99.0 154.3L100.6 155.6L102.2 156.7M100.5 155.1L102.1 156.3L103.7 157.4M102.0 155.8L103.6 157.0L105.2 158.2M164.4 146.2L165.7 144.3M164.9 146.7L166.5 144.5L166.9 144.0M101.9 155.4L103.5 156.7L105.1 157.9M167.5 145.7L169.1 143.5L169.3 143.2M168.0 146.4L169.6 144.1L170.5 142.9M103.4 156.3L105.0 157.6L106.6 159.7M169.0 147.6L170.6 145.4L172.2 143.1M171.1 146.0L172.7 143.7M104.9 156.8L106.5 159.6M172.1 147.2L173.7 145.0L175.3 142.9M172.6 147.7L174.2 145.5L175.8 143.6M106.4 157.9L108.0 159.4M175.2 146.7L176.8 144.8L178.4 143.0M106.9 157.9L108.5 159.3M175.7 147.2L177.3 145.4L178.9 143.6M107.9 157.7L109.5 159.1L111.1 160.5M133.5 155.8L135.1 155.3L136.7 155.5M176.7 148.2L178.3 146.5L179.9 144.8L181.5 143.1M108.4 157.6L110.0 159.0L111.6 160.4M132.4 156.1L134.0 155.4L135.6 154.6L137.2 154.5L138.8 154.7L140.4 155.1M178.8 146.9L180.4 145.3L182.0 143.7M144.6 151.0L146.2 151.9L147.8 153.1M178.2 148.0L179.8 146.6L181.4 145.3L183.0 144.0M149.9 150.4L151.5 151.5L153.1 152.6M175.5 148.9L177.1 147.9L178.7 146.9L180.3 145.8L181.9 144.7M163.7 148.5L165.3 149.0L166.9 148.2M188.6 149.5L190.2 150.3L191.8 150.3L193.4 149.8L195.0 149.4L196.6 148.8L198.2 148.2L199.8 147.7L201.4 147.3L203.0 146.9L204.6 146.4L206.2 145.8M187.5 149.6L189.1 151.5M195.5 151.2L197.1 150.4L198.7 149.6L200.3 148.9L201.9 148.2L203.5 147.7L205.1 147.0L206.7 146.2L208.3 145.3M186.9 146.8L188.5 153.2M202.9 150.2L204.5 149.2L206.1 148.2L207.7 147.2L209.3 146.1M147.4 157.5L149.0 158.6L150.6 159.7L152.2 160.7M166.6 157.3L168.2 156.2L169.8 154.7L171.4 152.7M187.4 146.6L189.0 154.9M205.0 150.0L206.6 148.8L208.2 147.6L209.8 146.5L211.4 145.2M138.8 160.1L140.4 160.2L142.0 160.4L143.6 160.6L145.2 160.9L146.8 162.0M172.4 156.7L174.0 154.4M188.4 146.3L190.0 156.5M207.6 149.8L209.2 148.4L210.8 147.0L212.4 145.7M136.1 160.9L135.6 161.0M136.1 160.9L137.7 160.8L139.3 160.6L140.9 160.8L142.5 160.9L144.1 161.1L145.7 161.7M172.9 157.4L174.5 155.1M188.9 146.1L190.5 156.4M208.1 150.0L209.7 148.6L211.3 147.3L212.9 146.0M140.3 161.7L139.0 161.7M140.3 161.7L141.9 161.8L143.5 162.0L145.1 162.3M209.1 150.6L210.7 149.1L212.3 147.7L213.9 146.4M140.8 162.2L140.7 162.2M140.8 162.2L142.4 162.4L144.0 162.5L145.6 163.1M209.6 150.8L211.2 149.3L212.8 147.9L214.4 146.6M145.0 163.5L144.1 163.4M210.6 151.3L212.2 149.7L213.8 148.3L215.4 146.9M211.1 151.5L212.7 149.9L214.3 148.4L215.9 147.1M212.1 151.8L213.7 150.2L215.3 148.7L216.9 147.2M212.6 151.9L214.2 150.3L215.8 148.8L217.4 147.3M196.0 152.8L197.6 154.6M213.6 152.1L215.2 150.4L216.8 148.9L218.4 147.3M196.5 152.3L198.1 154.0L199.7 155.7M214.1 152.1L215.7 150.5L217.3 148.9M199.1 152.8L200.7 154.5M215.1 152.2L216.7 150.5L218.3 148.8M199.6 152.2L201.2 154.0L202.8 155.2M215.6 152.2L217.2 150.5L218.8 148.8M202.2 152.9L203.8 154.1L205.4 154.5L207.0 154.9M216.6 152.2L218.2 150.3L219.8 148.6M202.7 152.4L204.3 153.5L205.9 154.0L207.5 154.3L209.1 154.5M215.5 154.0L217.1 152.1L218.7 150.2M205.3 152.5L206.9 152.9L208.5 153.3L210.1 153.5L211.7 153.6L213.3 153.7L214.9 153.6L216.5 153.4L218.1 151.8L219.7 150.0M207.4 152.4L209.0 152.7L210.6 153.0L212.2 153.1L213.8 153.1L215.4 153.1L217.0 152.8L218.6 151.7L220.2 149.8M213.2 152.1L214.8 152.1L216.4 152.0L218.0 151.6L219.6 151.1M191.9 163.7L193.5 161.5M192.4 163.4L194.0 161.3M193.4 163.0L195.0 160.9M193.9 162.8L195.5 160.6M193.3 164.3L194.9 162.3L196.5 160.0M193.8 164.1L195.4 162.0L197.0 159.6M196.4 161.3L195.1 163.3M196.9 160.9L196.1 162.2M101.9 155.5L103.4 156.4L104.9 157.4L106.4 158.5L107.9 158.3L109.4 158.0M107.0 159.0L108.5 158.8L110.0 158.4M63.0 142.4L64.5 143.4L66.0 143.9L67.5 144.4L69.0 144.8L70.5 145.3L72.0 145.7L73.5 145.7M97.5 152.9L99.0 154.5L100.5 155.3L102.0 156.0L103.5 156.8L105.0 157.7L106.5 160.0M108.0 160.0L109.5 159.7L111.0 159.4M110.1 160.2L111.6 159.8M60.1 141.6L59.9 141.5M60.1 141.6L61.6 142.6L63.1 143.5L64.6 144.4L66.1 145.0L67.6 145.5L69.1 146.0L70.6 146.5L72.1 146.9L73.6 147.0L75.1 147.0L76.6 146.8L78.1 146.5M96.1 152.2L97.6 153.7L99.1 155.1L100.6 155.8L102.1 156.4L103.6 157.1L105.1 158.0M76.7 148.2L78.2 148.0L79.7 147.7L81.2 147.3L82.7 146.9M93.2 150.4L94.7 151.7L96.2 153.0L97.7 154.4L99.2 155.7M81.3 148.9L82.8 148.5L84.3 148.2L85.8 148.2L87.3 148.4L88.8 149.0L90.3 149.6L91.8 150.6L93.3 151.6L94.8 152.7L96.3 153.9M137.7 161.3L137.8 161.4M137.2 159.7L138.7 161.2L139.3 161.7M137.8 159.7L139.3 161.1L140.1 162.0M138.8 159.6L140.3 161.2L141.6 162.5M139.4 159.6L140.9 161.3L142.4 162.8M140.4 159.7L141.9 161.4L143.4 162.9L143.9 163.3M141.0 159.8L142.5 161.4L144.0 163.0L144.6 163.6M142.0 159.9L143.5 161.6L145.0 163.1M142.6 160.0L144.1 161.6L145.6 163.5M143.6 160.1L145.1 161.8M144.2 160.2L145.7 162.2M145.2 160.4L146.7 163.0M131.9 156.8L133.4 155.5M132.5 156.5L134.0 155.2M133.5 156.1L135.0 154.8M134.1 156.2L135.6 154.5M135.1 156.3L136.6 154.0M150.1 150.7L151.6 164.9M135.7 156.4L137.2 153.8M150.7 151.0L152.2 165.2M136.7 156.5L138.2 153.7M151.7 151.4L153.2 165.6M152.3 151.6L153.8 165.8M153.3 151.5L154.8 166.0M153.9 151.5L155.4 166.1M154.9 151.4L156.4 166.0M155.5 151.3L157.0 165.8M156.5 151.2L158.0 165.5M157.1 151.1L158.6 165.3M158.1 151.0L159.6 165.0M158.7 151.0L160.2 164.8M159.7 150.8L161.2 164.4M160.3 150.7L161.8 164.2M147.8 157.5L149.3 145.8M161.3 150.6L162.8 163.8M148.4 157.9L149.9 146.2M161.9 150.5L163.4 163.5M149.4 158.8L150.9 146.9M162.9 150.3L164.4 163.1M150.0 159.2L151.5 147.3M163.5 150.2L165.0 162.9M164.5 149.9L166.0 162.1M165.1 149.8L166.6 161.7M166.1 149.4L167.6 160.9M166.7 149.1L168.2 160.5M167.7 148.7L169.2 159.7M168.3 148.3L169.8 159.1M193.3 163.9L194.8 163.2L195.6 162.7M193.9 163.2L195.4 162.5L196.7 161.5M172.4 155.3L173.9 157.3M193.4 162.5L194.9 161.9L196.4 160.9M173.0 154.5L174.5 156.5M192.5 162.5L194.0 161.8L195.5 161.1M177.0 153.7L178.5 155.2L180.0 155.9L181.5 156.6L183.0 157.3L184.5 158.0L186.0 158.6L187.5 159.2L189.0 159.0L190.5 158.3M163.4 146.4L162.6 145.5M164.4 144.8L165.9 146.6M166.5 145.9L165.3 144.5M187.5 150.8L189.0 153.1L190.5 152.7L192.0 152.1L193.5 151.2M167.5 144.4L167.1 143.9M167.5 144.4L169.0 146.3M196.0 154.0L197.5 152.3M168.1 143.6L169.6 145.5L171.1 147.4M187.6 147.0L189.1 152.7M196.6 154.6L198.1 152.8M170.6 144.0L169.9 143.0M170.6 144.0L172.1 145.9L173.6 147.5M176.6 150.0L178.1 146.3M188.6 147.6L190.1 154.0M197.6 155.8L199.1 153.9L200.6 152.3M171.2 143.2L172.7 145.2L174.2 146.8M177.2 149.5L178.7 146.1M189.2 147.8L190.7 154.7M199.7 154.5L201.2 152.9M173.7 143.6L175.2 145.5L176.7 147.1M178.2 148.5L179.7 145.5M200.7 155.7L202.2 154.1L203.7 152.5M174.3 142.9L175.8 144.9L177.3 146.5L178.8 147.9L180.3 145.3M202.8 154.5L204.3 152.8M176.8 143.6L178.3 145.4L179.8 146.9L181.3 144.6M191.8 148.0L193.3 154.7M203.8 154.8L205.3 153.2M177.4 143.0L178.9 144.8L180.4 146.3L181.9 144.3M192.4 147.9L193.9 154.4M204.4 154.9L205.9 153.3L207.4 151.8M179.9 143.7L181.4 145.3L182.9 143.7M193.4 147.7L194.9 153.8M205.4 155.2L206.9 153.6L208.4 152.0M180.5 143.1L182.0 144.8M194.0 147.6L195.5 153.4M206.0 155.3L207.5 153.7L209.0 152.1M195.0 147.5L196.5 152.7M208.5 153.9L210.0 152.3M195.6 147.3L197.1 152.4M209.1 153.9L210.6 152.4M196.6 147.1L198.1 151.7M210.1 154.1L211.6 152.5M197.2 147.0L198.7 151.4M210.7 154.1L212.2 152.6M198.2 146.8L199.7 150.7M211.7 154.2L213.2 152.6M198.8 146.7L200.3 150.4M212.3 154.2L213.8 152.6L215.3 151.1M199.8 146.5L201.3 149.8M213.3 154.2L214.8 152.6L216.3 151.1M200.4 146.4L201.9 149.5M213.9 154.2L215.4 152.6L216.9 151.0M201.4 146.3L202.9 149.0M214.9 154.1L216.4 152.5L217.9 150.7M202.0 146.2L203.5 148.7M215.5 154.1L217.0 152.3L218.5 150.6M203.0 146.1L204.5 148.2L206.0 150.4M216.5 153.3L218.0 152.0L219.5 150.3M203.6 145.9L205.1 147.9L206.6 149.9M215.6 152.8L217.1 152.6L218.6 151.9L220.1 150.1M204.6 145.6L206.1 147.3L207.6 149.0L209.1 149.8L210.6 150.5L212.1 151.1L213.6 151.4L215.1 151.6L216.6 151.6L218.1 151.3L219.6 150.9M205.2 145.5L206.7 147.0L208.2 148.6L209.7 149.3L211.2 150.0L212.7 150.6L214.2 150.9L215.7 151.1L217.2 151.0L218.7 150.7L220.2 150.2M206.2 145.1L207.7 146.4L209.2 147.7L210.7 148.4L212.2 149.0L213.7 149.5L215.2 149.9L216.7 150.0L218.2 149.8L219.7 149.5M208.3 146.1L209.8 147.2L211.3 148.0L212.8 148.6L214.3 149.0L215.8 149.4L217.3 149.4L218.8 149.2M209.3 145.3L210.8 146.4L212.3 147.1L213.8 147.6L215.3 148.1L216.8 148.3L218.3 148.3M211.4 145.9L212.9 146.6L214.4 147.2L215.9 147.6L217.4 147.8"/>
<path stroke="#307ffb" d="M57.0 138.3L58.1 139.6M58.5 139.2L60.1 141.3M58.4 138.2L60.0 140.2L61.6 142.2M59.9 139.1L61.5 141.1L63.1 143.2M61.4 140.1L63.0 142.1M62.9 141.0L64.5 143.0M64.4 142.0L66.0 143.6M64.3 140.9L65.9 142.5L67.5 144.0M65.8 141.5L67.4 142.9L69.0 144.5M68.9 143.3L70.5 144.9M70.4 143.7L72.0 145.3M71.9 144.1L73.5 145.2L75.1 146.5M73.4 144.0L75.0 145.1L76.6 146.3M74.9 143.8L76.5 144.9L78.1 146.0L79.7 147.2M78.0 144.6L79.6 145.7L81.2 146.8M81.1 145.2L82.7 146.3L84.3 147.6M82.6 144.7L84.2 145.9L85.8 147.6M85.7 146.0L87.3 147.8M87.2 146.1L88.8 148.5M88.7 146.9L90.3 149.1M90.2 147.6L91.8 150.1M90.1 146.2L91.7 148.8L93.3 151.2M91.6 147.5L93.2 150.1M93.1 148.9L94.7 151.4M94.6 150.3L96.2 152.8M94.5 149.3L96.1 151.9M96.0 151.0L97.6 153.4M95.9 150.0L97.5 152.6M97.4 151.8L99.0 154.3M97.3 151.0L98.9 153.6L100.5 155.1M98.8 152.9L100.4 154.6L102.0 155.8M100.3 154.0L101.9 155.4M100.2 153.5L101.8 154.9L103.4 156.3M172.2 143.1L172.9 142.1M172.7 143.7L174.1 141.8M101.7 154.0L103.3 155.4L104.9 156.8M175.3 142.9L176.4 141.5M175.8 143.6L177.4 141.7L177.6 141.4M104.8 154.5L106.4 157.9M178.4 143.0L180.0 141.2M178.9 143.6L180.5 141.9L181.2 141.0M106.3 156.2L107.9 157.7M181.5 143.1L183.1 141.4L183.6 140.8M106.8 156.1L108.4 157.6M182.0 143.7L183.6 142.1L184.8 140.6M111.0 154.3L112.6 155.6L114.2 155.4L115.8 155.3L117.4 155.1L119.0 154.8L120.6 154.6L122.2 154.2L123.8 154.0L125.4 154.0L127.0 153.6L128.6 153.1L130.2 152.6L131.8 152.1L133.4 151.5L135.0 150.9L136.6 150.3L138.2 149.8L139.8 149.6L141.4 150.1L143.0 150.5L144.6 151.0M183.0 144.0L184.6 142.7L186.2 141.1L187.2 140.1M146.7 148.1L148.3 149.2L149.9 150.4M181.9 144.7L183.5 143.6L185.1 142.5L186.7 141.3L188.3 139.9M158.9 146.7L160.5 147.3L162.1 147.9L163.7 148.5M166.9 148.2L168.5 147.3L170.1 147.1L171.7 146.8L173.3 146.5L174.9 146.1L176.5 145.6L178.1 145.2L179.7 144.7L181.3 144.0L182.9 143.3L184.5 142.7L186.1 142.0L187.7 141.4L189.3 140.4M165.8 145.4L167.4 145.1M170.6 144.5L172.2 144.5L173.8 144.4L175.4 144.2L177.0 144.0L178.6 143.7L180.2 143.5L181.8 143.1L183.4 142.6L185.0 142.1L186.6 141.7L188.2 141.2M201.7 141.3L203.3 140.9M200.6 141.9L202.2 141.8L203.8 141.4L205.4 140.7M198.4 142.2L200.0 142.8L201.6 143.0L203.2 142.8L204.8 142.3L206.4 141.6L208.0 140.6M198.9 143.0L200.5 143.4L202.1 143.5L203.7 143.3L205.3 142.8L206.9 142.1L208.5 141.0M193.5 144.2L195.1 144.3L196.7 144.4L198.3 144.5L199.9 144.6L201.5 144.7L203.1 144.6L204.7 144.3L206.3 143.6L207.9 142.9L209.5 141.8L211.1 140.8M189.2 145.8L190.8 146.0L192.4 145.9L194.0 145.8L195.6 145.7L197.2 145.6L198.8 145.5L200.4 145.5L202.0 145.4L203.6 145.2L205.2 144.8L206.8 144.1L208.4 143.3L210.0 142.1L211.6 141.1M185.4 146.1L187.0 147.8L188.6 149.5M206.2 145.8L207.8 144.9L209.4 144.0L211.0 142.8L212.6 141.8L214.2 140.9M185.9 147.0L187.5 149.6M208.3 145.3L209.9 144.3L211.5 143.2L213.1 142.1L214.7 141.2M148.5 153.9L150.1 155.0L151.7 156.0L153.3 156.4L154.9 156.2L156.5 155.9L158.1 155.6L159.7 155.3L161.3 155.0L162.9 154.5L164.5 154.1L166.1 153.4L167.7 152.5L169.3 151.2L170.9 149.6M209.3 146.1L210.9 144.9L212.5 143.8L214.1 142.7L215.7 141.8M144.2 155.8L145.8 156.5L147.4 157.5M171.4 152.7L173.0 150.9M211.4 145.2L213.0 144.1L214.6 143.0L216.2 142.1L217.8 141.2M134.0 160.6L135.6 160.4L137.2 160.3L138.8 160.1M212.4 145.7L214.0 144.6L215.6 143.5L217.2 142.5L218.8 141.7M212.9 146.0L214.5 144.8L216.1 143.7L217.7 142.7L219.3 141.8M175.5 156.3L177.1 146.0M189.9 145.7L191.5 156.1M213.9 146.4L215.5 145.2L217.1 144.1L218.7 143.0L220.3 142.2M176.0 156.9L177.6 146.3M190.4 145.4L192.0 155.9M214.4 146.6L216.0 145.4L217.6 144.2L219.2 143.2L220.8 142.3M177.0 158.1L178.6 146.9M191.4 144.9L193.0 155.5M215.4 146.9L217.0 145.6L218.6 144.5L220.2 143.4L221.8 142.5M177.5 158.7L179.1 147.2M191.9 144.6L193.5 155.2M215.9 147.1L217.5 145.7L219.1 144.6L220.7 143.5L222.3 142.6M178.5 159.6L180.1 147.6M192.9 143.8L194.5 154.4M216.9 147.2L218.5 145.9L220.1 144.7L221.7 143.6M179.0 159.9L180.6 147.7M217.4 147.3L219.0 145.9L220.6 144.7L222.2 143.7M180.0 160.5L181.6 148.0M218.4 147.3L220.0 146.0L221.6 144.8L223.2 143.7M180.5 160.8L182.1 148.1M217.3 148.9L218.9 147.3L220.5 146.0L222.1 144.8M181.5 161.3L183.1 148.4M197.5 151.2L199.1 152.8M218.3 148.8L219.9 147.3L221.5 145.9L223.1 144.7M182.0 161.6L183.6 148.5M198.0 150.7L199.6 152.2M218.8 148.8L220.4 147.2L222.0 145.9L223.6 144.6M183.0 162.2L184.6 148.7M199.0 149.6L200.6 151.2L202.2 152.9M219.8 148.6L221.4 147.1L223.0 145.7M183.5 162.4L185.1 148.8M201.1 150.7L202.7 152.4M218.7 150.2L220.3 148.5L221.9 147.0L223.5 145.6M184.5 163.0L186.1 149.0M202.1 149.8L203.7 151.4L205.3 152.5M219.7 150.0L221.3 148.3L222.9 146.7M185.0 163.3L186.6 149.1M204.2 150.9L205.8 152.0L207.4 152.4M220.2 149.8L221.8 148.1L223.4 146.6M186.0 163.8L187.6 149.4M205.2 150.0L206.8 151.0L208.4 151.4L210.0 151.7L211.6 152.0L213.2 152.1M219.6 151.1L221.2 149.5L222.8 147.8M186.5 164.0L188.1 149.5M207.3 150.5L208.9 150.9L210.5 151.2L212.1 151.5L213.7 151.6L215.3 151.6L216.9 151.4L218.5 151.0L220.1 150.5L221.7 149.3L223.3 147.6M187.5 164.1L189.1 149.7M209.9 150.0L211.5 150.3L213.1 150.5L214.7 150.6L216.3 150.6L217.9 150.3L219.5 149.9L221.1 149.4L222.7 148.7M188.0 163.9L189.6 149.8M213.6 150.0L215.2 150.1L216.8 150.1L218.4 149.7L220.0 149.3L221.6 148.8L223.2 148.2M189.0 163.4L190.6 149.7M189.5 163.2L191.1 149.4M190.5 162.8L192.1 149.0M191.0 162.6L192.6 148.7M196.4 161.3L198.0 159.0M196.9 160.9L198.5 158.6M199.5 158.0L198.1 159.9M100.2 153.6L101.7 154.6M97.3 151.3L98.8 153.2L100.3 154.2L101.8 155.1L103.3 156.0L104.8 155.3L106.3 156.8L107.8 156.5M106.9 157.3L108.4 157.0M59.9 139.5L61.4 140.4L62.9 141.4L64.4 142.3L65.9 142.9L67.4 143.3L68.9 143.7L70.4 144.1L71.9 144.5L73.4 144.4L74.9 144.2M95.9 150.3L97.4 152.1L98.9 153.8L100.4 154.7L101.9 155.5M58.5 139.6L57.2 138.7M58.5 139.6L60.0 140.5L61.5 141.5L63.0 142.4M73.5 145.7L75.0 145.6L76.5 145.3L78.0 145.1L79.5 144.7M94.5 149.6L96.0 151.3L97.5 152.9M78.1 146.5L79.6 146.2L81.1 145.7L82.6 145.2M91.6 148.0L93.1 149.3L94.6 150.7L96.1 152.2M82.7 146.9L84.2 146.5L85.7 146.5L87.2 146.7L88.7 147.5L90.2 148.1L91.7 149.3L93.2 150.4M132.4 160.1L132.5 160.2M133.0 160.1L133.3 160.4M134.0 160.0L134.8 160.8M134.6 159.9L135.5 160.9M135.6 159.8L137.1 161.3M136.2 159.8L137.7 161.3M146.9 148.7L148.4 162.6M147.5 149.0L149.0 163.0M148.5 149.7L150.0 163.8M149.1 150.0L150.6 164.1M143.0 154.8L144.5 142.8M143.6 155.0L145.1 143.0M144.6 155.3L146.1 143.7M145.2 155.5L146.7 144.0M146.2 156.3L147.7 144.7M146.8 156.7L148.3 145.1M169.3 147.4L170.8 157.5M169.9 146.9L171.4 156.7M170.9 146.1L172.4 155.3M196.4 160.9L197.9 159.8L198.8 159.2M171.5 145.6L173.0 154.5M195.5 161.1L197.0 160.1L198.5 159.1L199.8 158.1M174.0 150.7L175.5 152.2L177.0 153.7M190.5 158.3L192.0 157.7L193.5 157.0L195.0 156.4M182.1 152.4L183.6 152.9L185.1 153.4L186.6 153.8L188.1 154.3M168.5 150.1L170.0 141.9M169.1 149.9L170.6 141.9M170.1 149.6L171.6 142.1M170.7 149.4L172.2 142.1M171.7 149.0L173.2 142.2M172.3 148.8L173.8 142.3M173.3 148.4L174.8 142.3M173.9 148.2L175.4 142.4M174.9 147.8L176.4 142.4M185.4 144.8L186.9 150.0L188.4 149.7L189.9 149.2L191.4 148.6M175.5 147.5L177.0 142.4M186.0 145.4L187.5 150.8M193.5 151.2L195.0 149.8M176.5 147.1L178.0 142.3M187.0 146.5L188.5 152.1M197.5 152.3L199.0 150.6M177.1 146.8L178.6 142.3M198.1 152.8L199.6 151.1L201.1 149.7M178.1 146.3L179.6 142.3M200.6 152.3L202.1 150.8M171.2 143.2L170.8 142.8M178.7 146.1L180.2 142.3M201.2 152.9L202.7 151.3L204.2 149.9M173.7 143.6L172.6 142.2M179.7 145.5L181.2 142.2M203.7 152.5L205.2 151.0M174.3 142.9L173.6 141.9M180.3 145.3L181.8 142.2M204.3 152.8L205.8 151.3L207.3 149.9M176.8 143.6L175.4 141.6M181.3 144.6L182.8 142.0M190.3 142.1L191.8 148.0M205.3 153.2L206.8 151.6L208.3 150.2M177.4 143.0L176.3 141.5M181.9 144.3L183.4 141.9M190.9 142.2L192.4 147.9M207.4 151.8L208.9 150.3M178.4 141.7L178.1 141.3M178.4 141.7L179.9 143.7M182.9 143.7L184.4 141.7M191.9 142.4L193.4 147.7M208.4 152.0L209.9 150.6M180.5 143.1L179.1 141.2M182.0 144.8L183.5 143.5L185.0 141.6M192.5 142.5L194.0 147.6M209.0 152.1L210.5 150.7M181.5 142.0L180.9 141.1M181.5 142.0L183.0 143.8L184.5 142.9L186.0 141.4M193.5 142.7L195.0 147.5M210.0 152.3L211.5 150.8L213.0 149.4M182.1 141.3L181.8 141.0M182.1 141.3L183.6 143.3L185.1 142.6L186.6 141.3M194.1 142.8L195.6 147.3M210.6 152.4L212.1 150.9L213.6 149.5M184.6 142.1L183.6 140.8M184.6 142.1L186.1 142.0L187.6 141.2M195.1 143.0L196.6 147.1M211.6 152.5L213.1 151.0L214.6 149.6M185.2 141.5L184.6 140.7M185.2 141.5L186.7 141.8L188.2 141.1M195.7 143.1L197.2 147.0M212.2 152.6L213.7 151.1L215.2 149.7M187.7 141.0L186.4 140.4M187.7 141.0L189.2 140.9M196.7 143.3L198.2 146.8M213.2 152.6L214.7 151.1L216.2 149.7M197.3 143.4L198.8 146.7M215.3 151.1L216.8 149.6M198.3 143.6L199.8 146.5M216.3 151.1L217.8 149.4M198.9 143.7L200.4 146.4M216.9 151.0L218.4 149.3M198.4 141.7L199.9 143.9L201.4 146.3M217.9 150.7L219.4 149.1M199.0 142.0L200.5 144.0L202.0 146.2M218.5 150.6L220.0 148.9M200.0 142.3L201.5 144.1L203.0 146.1M219.5 150.3L221.0 148.6M200.6 142.4L202.1 144.1L203.6 145.9M220.1 150.1L221.6 148.4M200.1 140.9L201.6 142.5L203.1 144.0L204.6 145.6M219.6 150.9L221.1 149.7L222.6 148.1M200.7 140.9L202.2 142.4L203.7 144.0L205.2 145.5M220.2 150.2L221.7 149.5L223.2 147.8M201.7 140.7L203.2 142.2L204.7 143.6L206.2 145.1M219.7 149.5L221.2 149.1L222.7 148.5M202.3 140.6L203.8 142.0L205.3 143.4L206.8 144.8L208.3 146.1M218.8 149.2L220.3 148.9L221.8 148.5L223.3 147.9M203.3 140.2L204.8 141.7L206.3 143.0L207.8 144.2L209.3 145.3M218.3 148.3L219.8 148.2L221.3 147.9L222.8 147.4M205.4 141.4L206.9 142.7L208.4 143.9L209.9 145.0L211.4 145.9M217.4 147.8L218.9 147.8L220.4 147.7L221.9 147.4L223.4 146.9M206.4 140.8L207.9 142.1L209.4 143.3L210.9 144.2L212.4 145.1L213.9 145.8L215.4 146.4L216.9 146.7L218.4 146.9L219.9 146.8L221.4 146.7L222.9 146.4M207.0 140.5L208.5 141.7L210.0 142.9L211.5 143.9L213.0 144.7L214.5 145.4L216.0 146.0L217.5 146.3L219.0 146.4L220.5 146.4L222.0 146.2L223.5 145.9M209.5 141.0L211.0 142.2L212.5 143.1L214.0 143.9L215.5 144.6L217.0 145.1L218.5 145.4L220.0 145.5L221.5 145.5L223.0 145.4M210.1 140.7L211.6 141.8L213.1 142.8L214.6 143.6L216.1 144.3L217.6 144.7L219.1 145.0L220.6 145.1L222.1 145.1L223.6 145.0M212.6 141.2L214.1 142.1L215.6 142.9L217.1 143.5L218.6 144.0L220.1 144.3L221.6 144.4L223.1 144.4M213.2 140.9L214.7 141.8L216.2 142.6L217.7 143.2L219.2 143.6L220.7 143.9L222.2 144.0M215.7 141.2L217.2 142.0L218.7 142.6L220.2 143.0L221.7 143.3M217.8 141.7L219.3 142.3L220.8 142.7"/>
<path stroke="#2d87f6" d="M57.0 138.3L55.9 136.9M58.5 139.2L57.0 137.3M58.4 138.2L58.0 137.7M59.9 139.1L59.1 138.1M61.4 140.1L60.1 138.5M61.3 139.0L61.2 138.9M61.3 139.0L62.9 141.0M62.8 139.9L62.3 139.3M62.8 139.9L64.4 142.0M64.3 140.9L63.3 139.7M65.8 141.5L64.4 140.1M65.7 140.4L65.4 140.2M65.7 140.4L67.3 141.8L68.9 143.3M67.2 140.7L68.8 142.2L70.4 143.7M68.7 141.0L70.3 142.5L71.9 144.1M70.2 141.3L71.8 142.9L73.4 144.0M71.7 141.7L73.3 142.7L74.9 143.8M74.8 142.4L76.4 143.4L78.0 144.6M76.3 142.0L77.9 143.1L79.5 144.2L81.1 145.2M79.4 142.7L81.0 143.6L82.6 144.7M82.5 143.1L84.1 144.2L85.7 146.0M84.0 142.5L85.6 144.3L87.2 146.1M87.1 144.4L88.7 146.9M88.6 145.4L90.2 147.6M88.5 143.8L90.1 146.2M90.0 144.7L91.6 147.5M91.5 146.2L93.1 148.9M93.0 147.7L94.6 150.3M92.9 146.5L94.5 149.3M94.4 148.2L96.0 151.0M94.3 147.1L95.9 150.0M95.8 149.1L97.4 151.8M95.7 148.1L97.3 151.0M97.2 150.2L98.8 152.9M97.1 149.3L98.7 152.2L100.3 154.0M98.6 151.5L100.2 153.5M100.1 152.4L101.7 154.0M101.6 151.7L103.2 153.1L104.8 154.5M104.7 152.3L106.3 156.2M109.4 153.0L111.0 154.3M125.9 149.3L127.5 149.0L129.1 148.7L130.7 148.3M141.9 146.0L143.5 146.5L145.1 147.1L146.7 148.1M188.3 139.9L188.4 139.8M154.1 144.7L155.7 145.5L157.3 146.2L158.9 146.7M189.3 140.4L190.8 139.5M167.4 145.1L169.0 144.5L170.6 144.5M188.2 141.2L189.8 140.5L191.4 139.8L192.0 139.4M178.0 140.7L179.6 140.9L181.2 141.0L182.8 141.0L184.4 140.9L186.0 140.9L187.6 140.8L189.2 140.7L190.8 140.6L192.4 140.3L194.0 139.6L194.4 139.4M181.7 139.8L183.3 140.0L184.9 140.1L186.5 140.2L188.1 140.3L189.7 140.4L191.3 140.6L192.9 140.5L194.5 139.9L195.6 139.4M189.1 139.2L190.7 139.6L192.3 140.1L193.9 140.5L195.5 140.3L197.1 139.8L198.0 139.4M191.2 139.2L192.8 139.8L194.4 140.5L196.0 140.5L197.6 140.1L199.2 139.5M193.8 139.2L195.4 140.1L197.0 140.6L198.6 140.6L200.2 140.2L201.6 139.7M194.3 138.8L195.9 139.8L197.5 140.6L199.1 140.8L200.7 140.6L202.3 140.0L202.8 139.8M195.3 139.1L196.9 140.2L198.5 141.0L200.1 141.4L201.7 141.3M203.3 140.9L204.9 140.2L205.1 140.1M195.8 139.9L197.4 140.8L199.0 141.6L200.6 141.9M205.4 140.7L206.3 140.1M193.6 140.3L195.2 141.0L196.8 141.6L198.4 142.2M208.0 140.6L208.7 140.1M192.5 141.1L194.1 141.6L195.7 142.1L197.3 142.5L198.9 143.0M208.5 141.0L209.9 140.1M187.1 142.9L188.7 143.6L190.3 144.0L191.9 144.1L193.5 144.2M211.1 140.8L212.3 140.1M184.4 142.5L186.0 144.0L187.6 145.1L189.2 145.8M211.6 141.1L213.2 140.2L213.5 140.1M214.2 140.9L215.8 140.1L215.9 140.1M214.7 141.2L216.3 140.4L217.1 140.1M145.3 151.8L146.9 152.9L148.5 153.9M170.9 149.6L172.5 148.0M215.7 141.8L217.3 141.0L218.9 140.3L219.5 140.1M131.4 155.5L130.6 155.6M131.4 155.5L133.0 155.4L134.6 155.2L136.2 155.0L137.8 154.9L139.4 155.0L141.0 155.3L142.6 155.5L144.2 155.8M173.0 150.9L174.6 144.5M217.8 141.2L219.4 140.5L220.7 140.1M174.0 154.4L175.6 145.1M218.8 141.7L220.4 140.9L222.0 140.4L223.1 140.1M174.5 155.1L176.1 145.4M219.3 141.8L220.9 141.1L222.5 140.5M220.3 142.2L221.9 141.4L223.5 140.8M220.8 142.3L222.4 141.6L224.0 141.0M221.8 142.5L223.4 141.8M222.3 142.6L223.9 141.9M221.7 143.6L223.3 142.7M193.4 143.3L195.0 154.0M222.2 143.7L223.8 142.8M194.4 142.5L196.0 152.8M194.9 142.1L196.5 152.3M222.1 144.8L223.7 143.7M199.5 149.1L201.1 150.7M200.5 148.2L202.1 149.8M201.0 148.3L202.6 149.3L204.2 150.9M202.0 148.5L203.6 148.4L205.2 150.0M202.5 148.6L204.1 148.0L205.7 149.5L207.3 150.5M203.5 148.7L205.1 148.0L206.7 148.6L208.3 149.6L209.9 150.0M207.2 148.1L208.8 149.1L210.4 149.5L212.0 149.8L213.6 150.0M209.8 148.2L211.4 148.6L213.0 148.9L214.6 149.1L216.2 149.2L217.8 149.0L219.4 148.7L221.0 148.2L222.6 147.7M211.9 148.2L213.5 148.5L215.1 148.7L216.7 148.7L218.3 148.5L219.9 148.1L221.5 147.7L223.1 147.2M216.1 147.8L217.7 147.7L219.3 147.4L220.9 147.1L222.5 146.7M192.0 162.1L193.6 148.3M192.5 161.9L194.1 148.1M193.5 161.5L195.1 147.6M194.0 161.3L195.6 147.3M195.0 160.9L196.6 146.7M200.0 157.6L199.1 158.9M201.0 157.1L200.8 157.3M97.1 149.6L98.6 151.8L100.1 153.1L101.6 152.4M64.2 140.2L63.5 139.7M64.2 140.2L65.7 140.8L67.2 141.1L68.7 141.4L70.2 141.7L71.7 142.1L73.2 141.8M95.7 148.4L97.2 150.5L98.7 152.5L100.2 153.6M101.7 154.6L103.2 153.9L104.7 153.1L106.2 155.0M59.8 138.4L59.7 138.3M59.8 138.4L61.3 139.3L62.8 140.3L64.3 141.2L65.8 141.8L67.3 142.2L68.8 142.5L70.3 142.9L71.8 143.3L73.3 143.1L74.8 142.9L76.3 142.5M94.3 147.5L95.8 149.4L97.3 151.3M56.9 137.6L55.8 136.9M56.9 137.6L58.4 138.5L59.9 139.5M74.9 144.2L76.4 143.9L77.9 143.6L79.4 143.2L80.9 142.6M92.9 146.9L94.4 148.6L95.9 150.3M79.5 144.7L81.0 144.2L82.5 143.6L84.0 143.1M90.0 145.2L91.5 146.6L93.0 148.1L94.5 149.6M111.0 159.4L112.5 145.6M111.6 159.8L113.1 145.6M82.6 145.2L84.1 144.8L85.6 144.8L87.1 145.0L88.6 145.9L90.1 146.7L91.6 148.0M112.6 160.7L114.1 145.6M113.2 160.6L114.7 145.6M114.2 160.4L115.7 145.5M114.8 160.4L116.3 145.5M115.8 160.2L117.3 145.5M116.4 160.1L117.9 145.4M117.4 160.0L118.9 145.3M118.0 159.9L119.5 145.3M119.0 159.7L120.5 145.2M119.6 159.6L121.1 145.1M120.6 159.4L122.1 144.9M121.2 159.3L122.7 144.7M122.2 159.1L123.7 144.2M122.8 159.0L124.3 144.2M123.8 158.9L125.3 144.5M124.4 158.8L125.9 144.7M125.4 158.6L126.9 144.6M126.0 158.5L127.5 144.6M127.0 158.1L128.5 144.4M140.5 146.5L142.0 159.9M127.6 157.9L129.1 144.4M141.1 146.6L142.6 160.0M128.6 157.5L130.1 144.2M142.1 146.8L143.6 160.1M129.2 157.3L130.7 144.1M142.7 147.0L144.2 160.2M130.2 156.9L131.7 143.9M143.7 147.2L145.2 160.4M130.8 156.6L132.3 143.8M144.3 147.3L145.8 160.8M131.8 156.2L133.3 143.6M145.3 147.7L146.8 161.5M132.4 155.9L133.9 143.5M145.9 148.0L147.4 161.9M133.4 155.5L134.9 143.3M134.0 155.2L135.5 143.1M135.0 154.8L136.5 142.9M135.6 154.5L137.1 142.8M136.6 154.0L138.1 142.6M137.2 153.8L138.7 142.5M138.2 153.7L139.7 142.3M138.8 153.8L140.3 142.2M139.8 154.0L141.3 142.1M140.4 154.1L141.9 142.0M141.4 154.4L142.9 142.3M142.0 154.5L143.5 142.5M172.5 144.9L174.0 150.7M195.0 156.4L196.5 155.5L198.0 154.5M174.6 147.7L176.1 148.9L177.6 150.1L179.1 151.3L180.6 151.8L182.1 152.4M188.1 154.3L189.6 154.4L191.1 153.7L192.6 153.0M184.4 143.8L185.9 143.8M191.4 148.6L192.9 147.7L194.4 146.3M195.0 149.8L196.5 148.3L198.0 146.7M199.0 150.6L200.5 149.1L202.0 148.2L203.5 148.4L205.0 148.6M201.1 149.7L202.6 148.3L204.1 148.2M179.6 142.3L181.1 138.2M202.1 150.8L203.6 149.4L205.1 148.0M180.2 142.3L181.7 138.4M204.2 149.9L205.7 148.5L207.2 147.7M181.2 142.2L182.7 138.7M205.2 151.0L206.7 149.5L208.2 148.2M181.8 142.2L183.3 138.8M189.3 142.0L190.8 148.2M207.3 149.9L208.8 148.5M182.8 142.0L184.3 139.0M208.3 150.2L209.8 148.8L211.3 147.5M183.4 141.9L184.9 139.1M208.9 150.3L210.4 148.9L211.9 147.6M184.4 141.7L185.9 139.3M209.9 150.6L211.4 149.2L212.9 147.8M185.0 141.6L186.5 139.4M210.5 150.7L212.0 149.3L213.5 147.9M186.0 141.4L187.5 139.5M213.0 149.4L214.5 148.1M186.6 141.3L188.1 139.6M192.6 138.9L194.1 142.8M213.6 149.5L215.1 148.2M187.6 141.2L189.1 139.8M193.6 139.4L195.1 143.0M214.6 149.6L216.1 148.2M188.2 141.1L189.7 139.9L191.2 138.5M194.2 139.7L195.7 143.1M215.2 149.7L216.7 148.2L218.2 146.7M189.2 140.9L190.7 140.2L192.2 139.0M195.2 140.2L196.7 143.3M216.2 149.7L217.7 148.1L219.2 146.6M188.3 140.6L187.3 140.1M188.3 140.6L189.8 140.8L191.3 140.3L192.8 139.2M195.8 140.5L197.3 143.4M216.8 149.6L218.3 148.0L219.8 146.5M189.3 139.7L189.1 139.6M189.3 139.7L190.8 140.4L192.3 140.5L193.8 139.8L195.3 138.7L196.8 141.0L198.3 143.6M217.8 149.4L219.3 147.8L220.8 146.4M191.4 140.3L190.1 139.5M191.4 140.3L192.9 140.5L194.4 140.0L195.9 139.2L197.4 141.2L198.9 143.7M218.4 149.3L219.9 147.7L221.4 146.2M192.4 139.8L191.9 139.4M192.4 139.8L193.9 140.5L195.4 140.5L196.9 139.9L198.4 141.7M219.4 149.1L220.9 147.5L222.4 146.0M193.0 139.5L192.8 139.4M193.0 139.5L194.5 140.3L196.0 140.5L197.5 140.2L199.0 142.0M220.0 148.9L221.5 147.3L223.0 145.8M195.5 139.9L194.6 139.4M195.5 139.9L197.0 140.5L198.5 140.7L200.0 142.3M221.0 148.6L222.5 147.0M196.1 139.7L195.6 139.4M196.1 139.7L197.6 140.5L199.1 140.8L200.6 142.4M221.6 148.4L223.1 146.8M198.6 140.2L197.4 139.4M198.6 140.2L200.1 140.9M199.2 140.1L198.3 139.4M199.2 140.1L200.7 140.9M200.2 139.6L200.1 139.6M200.2 139.6L201.7 140.7M202.3 140.6L201.1 139.6M203.3 140.2L202.9 139.8M203.9 140.0L205.4 141.4M206.4 140.8L205.6 140.1M207.0 140.5L206.6 140.1M209.5 141.0L208.4 140.1M210.1 140.7L209.3 140.1M212.6 141.2L211.1 140.1M213.2 140.9L212.1 140.1M222.2 144.0L223.7 144.0M214.2 140.3L213.9 140.1M214.2 140.3L215.7 141.2M221.7 143.3L223.2 143.4M216.3 141.0L214.8 140.1M216.3 141.0L217.8 141.7M220.8 142.7L222.3 143.0L223.8 143.1M217.3 140.5L216.6 140.1M217.3 140.5L218.8 141.2L220.3 141.8L221.8 142.2L223.3 142.4M217.9 140.2L217.6 140.1M217.9 140.2L219.4 141.0L220.9 141.5L222.4 141.9L223.9 142.2M220.4 140.5L219.4 140.1M220.4 140.5L221.9 141.1L223.4 141.5M221.0 140.4L220.3 140.1M221.0 140.4L222.5 140.9L224.0 141.3M223.5 140.5L222.1 140.1"/>
<path stroke="#2c90f0" d="M67.2 140.7L66.5 140.1M68.7 141.0L67.6 140.0M70.2 141.3L68.6 139.9M70.1 140.2L69.7 139.8M70.1 140.2L71.7 141.7M71.6 140.5L70.7 139.7M71.6 140.5L73.2 141.4L74.8 142.4M73.1 140.2L74.7 141.0L76.3 142.0M76.2 140.6L77.8 141.7L79.4 142.7M77.7 140.2L79.3 141.2L80.9 142.1L82.5 143.1M80.8 140.6L82.4 141.5L84.0 142.5M83.9 140.9L85.5 142.6L87.1 144.4M85.4 140.9L87.0 142.7L88.6 145.4M86.9 141.0L88.5 143.8M88.4 142.2L90.0 144.7M89.9 143.2L91.5 146.2M91.4 144.8L93.0 147.7M91.3 143.4L92.9 146.5M92.8 145.3L94.4 148.2M92.7 144.0L94.3 147.1M94.2 146.0L95.8 149.1M95.6 147.1L97.2 150.2M97.0 148.5L98.6 151.5M98.5 150.4L100.1 152.4M100.0 150.2L101.6 151.7M101.5 149.5L103.1 150.9L104.7 152.3M106.2 150.1L107.8 151.6L109.4 153.0M109.9 148.5L111.5 149.8L113.1 150.5L114.7 150.4L116.3 150.3L117.9 150.2L119.5 150.0L121.1 149.8L122.7 149.3L124.3 149.1L125.9 149.3M130.7 148.3L132.3 147.8L133.9 147.4L135.5 146.9L137.1 146.5L138.7 146.0L140.3 145.6L141.9 146.0M149.3 141.8L150.9 142.9L152.5 144.0L154.1 144.7M174.8 140.3L176.4 140.5L178.0 140.7M178.5 139.1L180.1 139.5L181.7 139.8M184.3 137.8L185.9 138.3L187.5 138.7L189.1 139.2M184.8 136.7L186.4 137.3L188.0 137.9L189.6 138.6L191.2 139.2M189.0 136.4L190.6 137.3L192.2 138.2L193.8 139.2M191.1 136.6L192.7 137.7L194.3 138.8M192.1 137.0L193.7 138.0L195.3 139.1M191.0 137.1L192.6 138.0L194.2 139.0L195.8 139.9M190.4 139.1L192.0 139.7L193.6 140.3M190.9 140.7L192.5 141.1M158.7 146.6L160.3 146.5L161.9 146.4L163.5 146.2L165.1 145.9L166.7 145.4L168.3 144.6L169.9 143.5M138.9 150.6L140.5 150.8L142.1 151.1L143.7 151.4L145.3 151.8M172.5 148.0L174.1 144.2M195.9 141.1L197.5 151.2M196.4 140.6L198.0 150.7M197.4 139.7L199.0 149.6M197.9 139.7L199.5 149.1M204.0 148.8L205.6 148.1L207.2 148.1M205.0 148.9L206.6 148.3L208.2 147.5L209.8 148.2M205.5 148.9L207.1 148.3L208.7 147.6L210.3 147.8L211.9 148.2M206.5 149.0L208.1 148.4L209.7 147.7L211.3 146.9L212.9 147.3L214.5 147.6L216.1 147.8M207.0 149.0L208.6 148.5L210.2 147.8L211.8 146.6L213.4 146.9L215.0 147.2L216.6 147.3L218.2 147.2L219.8 146.9L221.4 146.6L223.0 146.2M208.0 149.1L209.6 148.5L211.2 147.9L212.8 146.7L214.4 146.0L216.0 146.3L217.6 146.3L219.2 146.2L220.8 146.0L222.4 145.6L224.0 145.2M208.5 149.1L210.1 148.6L211.7 147.9L213.3 146.7L214.9 145.6L216.5 145.9L218.1 145.9L219.7 145.7L221.3 145.5L222.9 145.2M209.5 149.1L211.1 148.6L212.7 148.0L214.3 146.8M210.0 149.1L211.6 148.6L213.2 148.0L214.8 146.8M211.0 149.1L212.6 148.6L214.2 148.0L215.8 146.8M195.5 160.6L197.1 146.4M211.5 149.1L213.1 148.6L214.7 148.0L216.3 146.8M196.5 160.0L198.1 145.8M197.0 159.6L198.6 145.5M198.0 159.0L199.6 144.9M97.0 148.8L98.5 151.0L100.0 150.9L101.5 150.2L103.0 149.5M68.6 140.3L67.4 140.0M68.6 140.3L70.1 140.5L71.6 140.9L73.1 140.6L74.6 140.1M95.6 147.5L97.1 149.6M101.6 152.4L103.1 151.7L104.6 150.9M73.2 141.8L74.7 141.5L76.2 141.1L77.7 140.7M94.2 146.4L95.7 148.4M76.3 142.5L77.8 142.1L79.3 141.7L80.8 141.1M91.3 143.9L92.8 145.7L94.3 147.5M107.8 156.5L109.3 143.2M108.4 157.0L109.9 143.7M80.9 142.6L82.4 142.0L83.9 141.4L85.4 141.5M86.9 141.6L88.4 142.7L89.9 143.7L91.4 145.3L92.9 146.9M109.4 158.0L110.9 144.4M110.0 158.4L111.5 144.8M84.0 143.1L85.5 143.2L87.0 143.3L88.5 144.3L90.0 145.2M130.9 146.2L132.4 160.1M131.5 146.2L133.0 160.1M132.5 146.1L134.0 160.0M133.1 146.1L134.6 159.9M134.1 146.0L135.6 159.8M134.7 145.8L136.2 159.8M135.7 145.4L137.2 159.7M136.3 145.4L137.8 159.7M137.3 145.8L138.8 159.6M137.9 146.0L139.4 159.6M138.9 146.2L140.4 159.7M139.5 146.2L141.0 159.8M198.0 154.5L199.5 153.5L201.0 152.7M173.1 144.5L174.6 147.7M192.6 153.0L194.1 152.4L195.6 151.7L197.1 150.7M183.8 141.4L185.3 140.9M185.9 143.8L187.4 143.3L188.9 142.7L190.4 141.9M194.4 146.3L195.9 144.9L197.4 143.4M198.0 146.7L199.5 145.3L201.0 145.6L202.5 145.7L204.0 145.8M205.0 148.6L206.5 148.8L208.0 148.9L209.5 148.9L211.0 149.0M204.1 148.2L205.6 148.4L207.1 148.6L208.6 148.7L210.1 148.8L211.6 148.8M205.1 148.0L206.6 148.0L208.1 148.2L209.6 148.3L211.1 148.4L212.6 148.4M207.2 147.7L208.7 147.9L210.2 148.1L211.7 148.2L213.2 148.2M208.2 148.2L209.7 147.4L211.2 147.6L212.7 147.7L214.2 147.7M208.8 148.5L210.3 147.2L211.8 147.2L213.3 147.3L214.8 147.4M211.3 147.5L212.8 146.2L214.3 146.2M211.9 147.6L213.4 146.3L214.9 145.7M185.9 139.3L187.4 136.6M190.4 137.9L191.9 142.4M212.9 147.8L214.4 146.6L215.9 145.4M186.5 139.4L188.0 136.9M191.0 138.1L192.5 142.5M213.5 147.9L215.0 146.7L216.5 145.4M187.5 139.5L189.0 137.4M192.0 138.6L193.5 142.7M214.5 148.1L216.0 146.8L217.5 145.4M188.1 139.6L189.6 137.7M191.1 135.5L192.6 138.9M215.1 148.2L216.6 146.8L218.1 145.4M189.1 139.8L190.6 138.2L192.1 136.3L193.6 139.4M216.1 148.2L217.6 146.8L219.1 145.4M191.2 138.5L192.7 136.8L194.2 139.7M218.2 146.7L219.7 145.3M192.2 139.0L193.7 137.6L195.2 140.2M219.2 146.6L220.7 145.2M192.8 139.2L194.3 137.9L195.8 140.5M219.8 146.5L221.3 145.1M220.8 146.4L222.3 144.9M221.4 146.2L222.9 144.8M222.4 146.0L223.9 144.6"/>
<path stroke="#2798ea" d="M73.1 140.2L71.8 139.5M73.0 138.9L72.9 138.9M73.0 138.9L74.6 139.7L76.2 140.6M74.5 138.4L76.1 139.2L77.7 140.2M77.6 138.8L79.2 139.8L80.8 140.6M80.7 139.0L82.3 139.9L83.9 140.9M83.8 139.2L85.4 140.9M85.3 139.2L86.9 141.0M86.8 139.4L88.4 142.2M88.3 140.5L89.9 143.2M89.8 141.7L91.4 144.8M89.7 140.2L91.3 143.4M91.2 142.0L92.8 145.3M92.6 142.8L94.2 146.0M94.1 144.9L95.7 148.1M94.0 143.8L95.6 147.1M95.5 146.1L97.1 149.3M95.4 145.1L97.0 148.5M96.9 147.2L98.5 150.4M98.4 148.1L100.0 150.2M99.9 148.1L101.5 149.5M104.6 146.2L106.2 150.1M108.3 147.2L109.9 148.5M146.1 139.8L147.7 140.8L149.3 141.8M189.5 135.6L191.1 136.6M167.8 141.4L169.4 140.5M169.9 143.5L171.5 142.5L173.1 142.2M129.3 150.9L128.5 151.0M129.3 150.9L130.9 150.8L132.5 150.7L134.1 150.6L135.7 150.3L137.3 150.2L138.9 150.6M174.1 144.2L175.7 137.0M174.6 144.5L176.2 136.7M198.9 139.8L200.5 148.2M199.4 139.9L201.0 148.3M200.4 139.9L202.0 148.5M200.9 139.9L202.5 148.6M201.9 139.8L203.5 148.7M202.4 139.8L204.0 148.8M203.4 139.7L205.0 148.9M203.9 139.7L205.5 148.9M204.9 139.6L206.5 149.0M205.4 139.5L207.0 149.0M206.4 139.4L208.0 149.1M206.9 139.3L208.5 149.1M214.3 146.8L215.9 145.3L217.5 145.0L219.1 144.9L220.7 144.8L222.3 144.6L223.9 144.2M214.8 146.8L216.4 145.2L218.0 144.5L219.6 144.5L221.2 144.4L222.8 144.1M215.8 146.8L217.4 145.2L219.0 143.7L220.6 143.7L222.2 143.5L223.8 143.3M216.3 146.8L217.9 145.1L219.5 143.5L221.1 143.2L222.7 143.1M198.5 158.6L200.1 144.6M199.5 158.0L201.1 144.1M200.0 157.6L201.6 143.8M201.0 157.1L202.6 143.2M203.1 143.0L201.5 156.6M95.4 145.5L96.9 147.9L98.4 148.8L99.9 148.8L101.4 148.1M71.5 139.7L71.2 139.6M71.5 139.7L73.0 139.3L74.5 138.8L76.0 138.3M94.0 144.1L95.5 146.5L97.0 148.8M74.6 140.1L76.1 139.7L77.6 139.2L79.1 138.8M92.6 143.2L94.1 145.3L95.6 147.5M77.7 140.7L79.2 140.2L80.7 139.5L82.2 138.8M89.7 140.7L91.2 142.5L92.7 144.5L94.2 146.4M106.2 155.0L107.7 141.7M106.8 155.5L108.3 142.2M80.8 141.1L82.3 140.4L83.8 139.8L85.3 139.8L86.8 139.9L88.3 141.1L89.8 142.2L91.3 143.9M85.4 141.5L86.9 141.6M129.3 146.3L130.2 154.7M129.9 146.3L131.0 156.7M170.0 137.3L171.5 145.6M171.0 137.6L172.5 144.9M201.0 152.7L202.5 151.8L203.2 151.4M171.6 137.7L173.1 144.5M197.1 150.7L198.6 149.8L200.1 148.9M174.1 141.8L175.6 141.9L177.1 142.5L178.6 143.2L180.1 143.8L181.6 144.0L183.1 144.3L184.6 144.5L186.1 144.7M185.3 140.9L186.8 140.3L188.3 139.6M190.4 141.9L191.9 140.9L193.4 139.6M197.4 143.4L198.9 142.6L200.4 142.8L201.9 142.8L203.4 142.8M204.0 145.8L205.5 145.9L207.0 145.9L208.5 145.8L210.0 145.8M214.3 146.2L215.8 146.3M214.9 145.7L216.4 145.8M215.9 145.4L217.4 144.7M216.5 145.4L218.0 144.1M189.0 137.4L190.5 135.2L192.0 138.6M217.5 145.4L219.0 144.1M189.6 137.7L191.1 135.5M218.1 145.4L219.6 144.1M219.1 145.4L220.6 144.0M219.7 145.3L221.2 144.0M220.7 145.2L222.2 143.9M221.3 145.1L222.8 143.8M222.3 144.9L223.8 143.6"/>
<path stroke="#249fe5" d="M74.5 138.4L73.9 138.1M76.0 137.8L75.0 137.3M76.0 137.8L77.6 138.8M77.5 137.3L76.0 136.5M77.5 137.3L79.1 138.3L80.7 139.0M79.0 136.8L80.6 137.5L82.2 138.3L83.8 139.2M82.1 136.7L83.7 137.6L85.3 139.2M85.2 137.6L86.8 139.4M86.7 137.7L88.3 140.5M88.2 138.9L89.8 141.7M88.1 137.2L89.7 140.2M89.6 138.6L91.2 142.0M91.1 140.6L92.7 144.0M91.0 139.2L92.6 142.8M92.5 141.5L94.1 144.9M92.4 140.2L94.0 143.8M93.9 142.6L95.5 146.1M93.8 141.4L95.4 145.1M95.3 143.8L96.9 147.2M96.8 145.1L98.4 148.1M98.3 146.0L99.9 148.1M103.0 144.9L104.6 146.2M106.7 145.7L108.3 147.2M138.1 139.0L139.7 138.8L141.3 138.7L142.9 138.6L144.5 138.9L146.1 139.8M169.4 140.5L171.0 139.8L172.6 140.0L174.2 137.7M173.1 142.2L174.7 137.5M207.9 139.2L209.5 149.1M208.4 139.1L210.0 149.1M209.4 139.0L211.0 149.1M209.9 138.9L211.5 149.1M204.1 142.4L202.9 152.3M93.8 141.8L95.3 144.4L96.8 145.8L98.3 146.7L99.8 146.7M75.9 136.9L75.1 137.2M75.9 136.9L77.4 136.4M92.4 140.6L93.9 143.0L95.4 145.5M76.0 138.3L77.5 137.8L79.0 137.3L80.5 136.5M91.0 139.7L92.5 141.9L94.0 144.1M79.1 138.8L80.6 138.0L82.1 137.3M89.6 139.2L91.1 141.1L92.6 143.2M104.6 150.9L106.1 140.3M82.2 138.8L83.7 138.1L85.2 138.1L86.7 138.2L88.2 139.4L89.7 140.7M126.7 146.4L126.8 147.6M127.7 146.3L128.2 150.3M128.3 146.3L128.8 151.7M200.1 148.9L201.6 148.0L203.1 147.2M172.6 138.0L174.1 141.8M173.2 138.1L174.7 139.5L176.2 139.1L177.7 139.5L179.2 139.9M188.3 139.6L189.8 138.7M193.4 139.6L194.9 138.4M203.4 142.8L204.9 142.7L206.4 142.7L207.9 142.6L209.4 142.4"/>
<path stroke="#1ea7e1" d="M77.4 135.9L77.1 135.7M77.4 135.9L79.0 136.8M78.9 135.4L78.2 134.9M78.9 135.4L80.5 136.0L82.1 136.7M82.0 135.2L83.6 136.0L85.2 137.6M83.5 134.3L85.1 135.9L86.7 137.7M86.6 136.0L88.2 138.9M88.0 135.5L89.6 138.6M89.5 137.1L91.1 140.6M90.9 137.7L92.5 141.5M92.3 138.9L93.9 142.6M93.7 140.0L95.3 143.8M95.2 141.7L96.8 145.1M96.7 143.1L98.3 146.0M99.8 142.2L101.4 143.6L103.0 144.9M204.6 142.1L203.7 150.1M93.7 140.6L95.2 142.4L96.7 143.7L98.2 144.7M92.3 139.3L93.8 141.8M77.4 136.4L78.9 135.9L80.4 135.0M90.9 138.2L92.4 140.6M101.4 148.1L102.9 135.9M80.5 136.5L82.0 135.7L83.5 134.9M88.0 136.1L89.5 137.6L91.0 139.7M103.0 149.5L104.5 137.1M82.1 137.3L83.6 136.5L85.1 136.4L86.6 136.6L88.1 137.8L89.6 139.2M203.1 147.2L204.6 146.4L205.0 146.1M194.9 138.4L196.4 137.0L197.9 137.0L199.4 137.0L200.9 136.8"/>
<path stroke="#18addb" d="M80.4 134.5L79.2 134.1M80.4 134.5L82.0 135.2M80.3 133.0L81.9 133.6L83.5 134.3M83.4 132.7L85.0 134.2L86.6 136.0M84.9 132.5L86.5 134.3L88.1 137.2M86.4 132.7L88.0 135.5M87.9 133.8L89.5 137.1M89.4 135.5L91.0 139.2M89.3 134.0L90.9 137.7M90.8 136.2L92.4 140.2M90.7 134.7L92.3 138.9M92.2 137.5L93.8 141.4M92.1 136.0L93.7 140.0M93.6 138.2L95.2 141.7M95.1 140.0L96.7 143.1M98.2 140.2L99.8 142.2M205.6 141.6L205.1 145.9M206.1 141.3L205.8 143.8M93.6 138.7L95.1 140.4L96.6 141.8M92.2 138.0L93.7 140.6M80.3 133.5L78.9 134.4M80.3 133.5L81.8 132.5M89.3 134.5L90.8 136.7L92.3 139.3M99.8 146.7L101.3 134.7M80.4 135.0L81.9 134.1L83.4 133.3L84.9 133.1M86.4 133.2L87.9 134.4L89.4 136.1L90.9 138.2M83.5 134.9L85.0 134.8L86.5 134.9L88.0 136.1M200.9 136.8L202.4 136.7L203.9 136.5L205.4 136.2L206.9 136.0"/>
<path stroke="#0cb3d3" d="M81.8 132.0L81.3 131.8M81.8 132.0L83.4 132.7M83.3 131.1L82.4 130.7M83.3 131.1L84.9 132.5M84.8 130.8L86.4 132.7M86.3 131.0L87.9 133.8M87.8 132.1L89.4 135.5M89.2 132.4L90.8 136.2M90.6 133.2L92.2 137.5M92.0 134.7L93.6 138.2M93.5 137.3L93.0 136.4M93.5 137.3L95.1 140.0M95.0 135.9L96.6 137.8L98.2 140.2M92.0 135.1L93.5 137.5L95.0 139.6M90.6 133.7L92.1 136.6L93.6 138.7M96.6 141.8L98.1 131.7M89.2 132.9L90.7 135.2L92.2 138.0M98.2 144.7L99.7 133.4M81.8 132.5L83.3 131.7L84.8 131.4L86.3 131.5L87.8 132.7L89.3 134.5M84.9 133.1L86.4 133.2"/>
<path stroke="#01b8c9" d="M84.8 130.8L83.5 129.6M84.7 129.1L84.5 128.9M84.7 129.1L86.3 131.0M86.2 129.3L87.8 132.1M87.7 130.4L89.3 134.0M89.2 132.4L87.7 128.9M89.1 130.7L90.7 134.7M90.6 133.2L89.8 131.0M92.1 136.0L90.9 132.7M95.0 135.9L94.1 134.6M90.5 132.1L92.0 135.1M95.0 139.6L96.5 130.1M89.1 131.3L90.6 133.7M83.2 130.0L82.8 130.3M83.2 130.0L84.7 129.7L86.2 129.9L87.7 131.0L89.2 132.9"/>
<path stroke="#08bcbe" d="M86.2 129.3L85.6 128.6M87.7 130.4L86.6 128.3M89.1 130.7L88.8 129.9M87.6 129.2L86.6 128.3M87.6 129.2L89.1 131.3"/>
<path stroke="#1cc0b4" d="M94.9 128.4L94.3 132.0"/>
</g>
<g fill="none" stroke-width="0.75" stroke-opacity="1.00" stroke-linecap="round">
<path stroke="#4536d5" d="M119.5 169.8L121.1 169.4M122.6 169.6L124.2 170.0L125.8 169.4M122.7 168.9L124.2 170.0M125.8 169.4L127.3 169.6"/>
<path stroke="#473fe2" d="M84.5 159.4L85.6 160.5M86.0 159.3L87.6 160.9L89.1 161.9M89.1 160.5L90.7 161.4L92.3 162.1L92.7 162.3M92.2 161.0L93.8 161.7L95.4 162.3L96.3 162.6M93.7 160.7L95.3 161.5L96.9 162.1L98.5 162.6L99.9 163.0M96.8 161.4L98.4 162.0L100.0 162.5L101.6 162.3L103.2 162.0L103.5 161.9M98.3 161.4L99.9 162.0L101.5 161.9L103.1 161.7L104.7 161.4L106.3 161.1L107.1 160.8M103.0 161.4L104.6 161.2L106.2 161.0L107.8 160.8L109.4 160.3M110.7 162.1L112.3 162.1M110.6 162.9L112.2 163.2L113.8 162.7L115.4 162.0M110.5 163.6L112.1 164.2L113.7 164.0L115.3 163.3L116.9 162.6M110.4 164.3L112.0 165.2L113.6 165.2L115.2 164.6L116.8 164.0L118.4 163.3L120.0 162.6M110.3 165.0L111.9 166.2L113.5 166.4L115.1 165.9L116.7 165.3L118.3 164.7L119.9 164.0L121.5 163.3M110.2 165.6L111.8 167.2L113.4 167.6L115.0 167.2L116.6 166.7L118.2 166.1L119.8 165.5L121.4 164.9L123.0 164.2L124.6 163.4M110.1 165.8L111.7 168.1L113.3 168.9L114.9 168.5L116.5 168.0L118.1 167.5L119.7 167.0L121.3 166.4L122.9 165.8L124.5 165.1L126.1 164.3L127.7 163.3M111.6 167.1L113.2 168.8L114.8 169.3L116.4 169.3L118.0 168.9L119.6 168.4L121.2 167.9L122.8 167.3L124.4 166.7L126.0 166.0L127.6 165.0L129.2 163.9M113.1 167.6L114.7 168.1L116.3 168.6L117.9 169.2L119.5 169.8M121.1 169.4L122.7 168.9L124.3 168.4L125.9 167.7L127.5 166.7L129.1 165.7L130.7 164.6M117.8 167.8L119.4 168.4L121.0 169.0L122.6 169.6M125.8 169.4L127.4 168.5L129.0 167.4L130.6 166.3L132.2 165.2M120.9 167.5L122.5 168.1L124.1 168.7L125.7 169.3L127.3 169.6L128.9 169.2L130.5 168.1L132.1 167.0L133.7 165.9L135.3 164.8M125.6 167.8L127.2 168.1L128.8 168.2L130.4 168.4L132.0 168.6L133.6 167.6L135.2 166.5L136.8 165.4M131.9 167.0L133.5 167.2L135.1 167.4L136.7 167.2L138.3 166.1M144.5 166.3L146.1 166.2L147.7 166.2L149.3 166.1L150.9 165.7L152.5 165.2M146.0 166.2L147.6 168.0L149.2 168.6L150.8 168.5L152.4 168.2L154.0 167.0L155.6 165.6L157.2 164.2M150.7 167.6L152.3 169.0L153.9 168.1L155.5 167.0L157.1 165.8M155.4 167.0L157.0 166.7L158.6 165.6M87.6 160.9L86.5 161.0M87.6 160.9L89.1 160.5M90.7 161.4L89.2 161.9M90.7 161.4L92.2 161.0L93.7 160.7M110.2 165.6L111.7 168.1L113.2 168.8L114.7 168.1M92.3 162.1L92.0 162.2M92.3 162.1L93.8 161.7L95.3 161.5L96.8 161.4L98.3 161.4M110.3 165.0L111.8 167.2L113.3 168.9L114.8 169.3L116.3 168.6L117.8 167.8M95.4 162.3L94.7 162.5M95.4 162.3L96.9 162.1L98.4 162.0L99.9 162.0L101.4 161.5M110.4 164.3L111.9 166.2L113.4 167.6L114.9 168.5L116.4 169.3L117.9 169.2L119.4 168.4L120.9 167.5M98.5 162.6L97.5 162.8M98.5 162.6L100.0 162.5L101.5 161.9L103.0 161.4M110.5 163.6L112.0 165.2L113.5 166.4L115.0 167.2L116.5 168.0L118.0 168.9L119.5 169.8L121.0 169.0L122.5 168.1M101.6 162.3L100.2 162.9M101.6 162.3L103.1 161.7L104.6 161.2M110.6 162.9L112.1 164.2L113.6 165.2L115.1 165.9L116.6 166.7L118.1 167.5L119.6 168.4L121.1 169.4L122.6 169.6L124.1 168.7L125.6 167.8M103.2 162.0L103.0 162.1M103.2 162.0L104.7 161.4L106.2 161.0L107.7 161.1M110.7 162.1L112.2 163.2L113.7 164.0L115.2 164.6L116.7 165.3L118.2 166.1L119.7 167.0L121.2 167.9L122.7 168.9M124.2 170.0L125.7 169.3L127.2 168.1M106.3 161.1L105.7 161.2M106.3 161.1L107.8 160.8L109.3 160.9M112.3 162.1L113.8 162.7L115.3 163.3L116.8 164.0L118.3 164.7L119.8 165.5L121.3 166.4L122.8 167.3L124.3 168.4L125.8 169.4M127.3 169.6L128.8 168.2L130.3 166.8M109.4 160.3L108.5 160.4M116.9 162.6L118.4 163.3L119.9 164.0L121.4 164.9L122.9 165.8L124.4 166.7L125.9 167.7L127.4 168.5L128.9 169.2L130.4 168.4L131.9 167.0M121.5 163.3L123.0 164.2L124.5 165.1L126.0 166.0L127.5 166.7L129.0 167.4L130.5 168.1L132.0 168.6L133.5 167.2M124.6 163.4L126.1 164.3L127.6 165.0L129.1 165.7L130.6 166.3L132.1 167.0L133.6 167.6L135.1 167.4M129.2 163.9L130.7 164.6L132.2 165.2L133.7 165.9L135.2 166.5L136.7 167.2L138.2 166.3M138.3 166.1L139.8 166.6M146.1 166.2L147.6 168.0L149.1 165.8M147.7 166.2L149.2 168.6L150.7 167.6M149.3 166.1L150.8 168.5L152.3 169.0L153.8 166.1M150.9 165.7L152.4 168.2L153.9 168.1L155.4 167.0M152.5 165.2L154.0 167.0L155.5 167.0L157.0 166.7M155.6 165.6L157.1 165.8L158.6 165.6"/>
<path stroke="#4747ec" d="M78.3 156.4L78.4 156.5M79.8 156.4L81.4 157.9L82.0 158.5M82.9 157.8L84.5 159.4M84.4 157.7L86.0 159.3M85.9 157.7L87.5 159.3L89.1 160.5M87.4 157.7L89.0 159.0L90.6 160.0L92.2 161.0M90.5 158.7L92.1 159.8L93.7 160.7M92.0 158.6L93.6 159.7L95.2 160.6L96.8 161.4M95.1 159.7L96.7 160.7L98.3 161.4M96.6 159.9L98.2 160.8L99.8 161.5L101.4 161.5L103.0 161.4M109.4 160.3L110.7 159.7M98.1 160.2L99.7 161.0L101.3 161.1L102.9 161.1L104.5 161.0L106.1 161.0L107.7 161.1L109.3 160.9L110.9 160.4L112.5 159.8L114.1 158.9L114.3 158.8M99.6 160.4L101.2 160.7L102.8 160.8L104.4 160.8L106.0 160.9L107.6 161.3L109.2 161.4L110.8 161.3L112.4 160.9L114.0 160.2L115.6 159.4L117.2 158.5L117.8 158.1M104.3 160.5L105.9 160.5L107.5 161.5L109.1 161.9L110.7 162.1M112.3 162.1L113.9 161.5L115.5 160.7L117.1 159.9L118.7 159.0L120.3 158.1L121.4 157.4M105.8 160.4L107.4 161.6L109.0 162.4L110.6 162.9M115.4 162.0L117.0 161.3L118.6 160.5L120.2 159.6L121.8 158.7L123.4 157.7M107.3 161.7L108.9 162.8L110.5 163.6M116.9 162.6L118.5 161.9L120.1 161.1L121.7 160.2L123.3 159.4L124.9 158.4L126.5 157.4M107.2 161.8L108.8 163.2L110.4 164.3M120.0 162.6L121.6 161.8L123.2 161.0L124.8 160.1L126.4 159.1L128.0 158.1M108.7 163.5L110.3 165.0M121.5 163.3L123.1 162.6L124.7 161.8L126.3 160.8L127.9 159.8L129.5 158.7M108.6 163.9L110.2 165.6M124.6 163.4L126.2 162.6L127.8 161.5L129.4 160.5L131.0 159.3M108.5 163.4L110.1 165.8M127.7 163.3L129.3 162.2L130.9 161.1L132.5 159.9M110.0 164.7L111.6 167.1M129.2 163.9L130.8 162.9L132.4 161.7L134.0 160.6L135.6 159.4M111.5 165.8L113.1 167.6M130.7 164.6L132.3 163.5L133.9 162.3L135.5 161.2L137.1 160.0M113.0 166.3L114.6 166.8L116.2 167.3L117.8 167.8M132.2 165.2L133.8 164.1L135.4 163.0L137.0 161.8L138.6 160.7M116.1 166.0L117.7 166.5L119.3 167.0L120.9 167.5M135.3 164.8L136.9 163.6L138.5 162.5L140.1 161.4M119.2 165.6L120.8 166.1L122.4 166.7L124.0 167.2L125.6 167.8M136.8 165.4L138.4 164.3L140.0 163.2L141.6 162.3L143.2 161.3M123.9 165.7L125.5 166.3L127.1 166.5L128.7 166.7L130.3 166.8L131.9 167.0M138.3 166.1L139.9 165.0L141.5 164.2L143.1 163.3L144.7 162.3L146.3 161.9L147.9 161.5L149.5 160.9M130.2 165.3L131.8 165.5L133.4 165.7L135.0 165.9L136.6 166.1L138.2 166.3L139.8 166.6L141.4 166.1L143.0 165.2L144.6 164.3L146.2 164.1L147.8 163.9L149.4 163.5L151.0 162.9L152.6 162.1L154.2 160.6M138.1 164.7L139.7 164.9L141.3 165.5L142.9 166.1L144.5 166.3M152.5 165.2L154.1 163.8L155.7 162.3L157.3 160.8M142.8 164.4L144.4 165.0L146.0 166.2M157.2 164.2L158.8 162.7L160.4 161.0M147.5 164.2L149.1 165.8L150.7 167.6M157.1 165.8L158.7 164.5L160.3 163.1L161.9 161.6M152.2 165.0L153.8 166.1L155.4 167.0M158.6 165.6L160.2 164.5L161.8 163.2L163.4 161.9M156.9 163.5L158.5 164.3L160.1 165.0L161.7 163.8L163.3 162.6M163.6 172.5L165.2 172.9L166.8 173.1L168.4 173.1L170.0 171.6M166.7 172.4L168.3 172.7L169.9 173.0L171.5 173.0L173.1 171.4M171.4 172.5L173.0 172.8L174.6 172.9L176.2 171.1M176.1 172.4L177.7 172.2M81.4 157.9L81.0 157.9M81.4 157.9L82.9 157.8L84.4 157.7L85.9 157.7M84.5 159.4L83.7 159.5M84.5 159.4L86.0 159.3L87.5 159.3L89.0 159.0L90.5 158.7M110.0 164.7L111.5 165.8L113.0 166.3L114.5 165.6M89.1 160.5L90.6 160.0L92.1 159.8L93.6 159.7L95.1 159.7L96.6 159.9L98.1 160.2M108.6 163.9L110.1 165.8L111.6 167.1L113.1 167.6L114.6 166.8L116.1 166.0M93.7 160.7L95.2 160.6L96.7 160.7L98.2 160.8L99.7 161.0L101.2 160.7L102.7 160.4M107.2 161.8L108.7 163.5L110.2 165.6M114.7 168.1L116.2 167.3L117.7 166.5L119.2 165.6M98.3 161.4L99.8 161.5L101.3 161.1L102.8 160.8L104.3 160.5M107.3 161.7L108.8 163.2L110.3 165.0M117.8 167.8L119.3 167.0L120.8 166.1M101.4 161.5L102.9 161.1L104.4 160.8L105.9 160.5L107.4 161.6L108.9 162.8L110.4 164.3M120.9 167.5L122.4 166.7L123.9 165.7M103.0 161.4L104.5 161.0L106.0 160.9L107.5 161.5L109.0 162.4L110.5 163.6M122.5 168.1L124.0 167.2L125.5 166.3M104.6 161.2L106.1 161.0L107.6 161.3L109.1 161.9L110.6 162.9M125.6 167.8L127.1 166.5L128.6 165.2M107.7 161.1L109.2 161.4L110.7 162.1M127.2 168.1L128.7 166.7L130.2 165.3M109.3 160.9L110.8 161.3L112.3 162.1M130.3 166.8L131.8 165.5M109.4 160.3L110.9 160.4L112.4 160.9L113.9 161.5L115.4 162.0L116.9 162.6M131.9 167.0L133.4 165.7L134.9 164.3M112.5 159.8L111.2 159.5M112.5 159.8L114.0 160.2L115.5 160.7L117.0 161.3L118.5 161.9L120.0 162.6L121.5 163.3M133.5 167.2L135.0 165.9L136.5 164.5M114.1 158.9L114.0 158.9M114.1 158.9L115.6 159.4L117.1 159.9L118.6 160.5L120.1 161.1L121.6 161.8L123.1 162.6L124.6 163.4M135.1 167.4L136.6 166.1L138.1 164.7M117.2 158.5L116.7 158.4M117.2 158.5L118.7 159.0L120.2 159.6L121.7 160.2L123.2 161.0L124.7 161.8L126.2 162.6L127.7 163.3L129.2 163.9M138.2 166.3L139.7 164.9M163.7 171.3L165.2 172.9L166.7 172.4M120.3 158.1L119.5 157.8M120.3 158.1L121.8 158.7L123.3 159.4L124.8 160.1L126.3 160.8L127.8 161.5L129.3 162.2L130.8 162.9L132.3 163.5L133.8 164.1L135.3 164.8L136.8 165.4L138.3 166.1M139.8 166.6L141.3 165.5L142.8 164.4M165.3 171.3L166.8 173.1L168.3 172.7M123.4 157.7L122.2 157.3M123.4 157.7L124.9 158.4L126.4 159.1L127.9 159.8L129.4 160.5L130.9 161.1L132.4 161.7L133.9 162.3L135.4 163.0L136.9 163.6L138.4 164.3L139.9 165.0L141.4 166.1L142.9 166.1L144.4 165.0M166.9 169.9L168.4 173.1L169.9 173.0L171.4 172.5M128.0 158.1L129.5 158.7L131.0 159.3L132.5 159.9L134.0 160.6L135.5 161.2L137.0 161.8L138.5 162.5L140.0 163.2L141.5 164.2L143.0 165.2L144.5 166.3L146.0 166.2L147.5 164.2M170.0 171.6L171.5 173.0L173.0 172.8L174.5 172.4M138.6 160.7L140.1 161.4L141.6 162.3L143.1 163.3L144.6 164.3L146.1 166.2M149.1 165.8L150.6 163.4M173.1 171.4L174.6 172.9L176.1 172.4M143.2 161.3L144.7 162.3L146.2 164.1L147.7 166.2M150.7 167.6L152.2 165.0M146.3 161.9L147.8 163.9L149.3 166.1M153.8 166.1L155.3 162.8M147.9 161.5L149.4 163.5L150.9 165.7M155.4 167.0L156.9 163.5M149.5 160.9L151.0 162.9L152.5 165.2M157.0 166.7L158.5 164.3M151.1 160.1L152.6 162.1L154.1 163.8L155.6 165.6M158.6 165.6L160.1 165.0M154.2 160.6L155.7 162.3L157.2 164.2L158.7 164.5L160.2 164.5L161.7 163.8M157.3 160.8L158.8 162.7L160.3 163.1L161.8 163.2L163.3 162.6M160.4 161.0L161.9 161.6"/>
<path stroke="#4850f3" d="M73.6 153.1L74.8 154.5M75.1 153.5L76.7 154.9L78.3 156.4M78.2 154.9L79.8 156.4M79.7 154.9L81.3 156.3L82.9 157.8M81.2 154.7L82.8 156.2L84.4 157.7M84.3 156.0L85.9 157.7M85.8 156.0L87.4 157.7M87.3 156.0L88.9 157.6L90.5 158.7M88.8 156.1L90.4 157.4L92.0 158.6M91.9 157.4L93.5 158.7L95.1 159.7M93.4 157.6L95.0 158.8L96.6 159.9M94.9 157.9L96.5 159.1L98.1 160.2M96.4 158.3L98.0 159.5L99.6 160.4M97.9 158.8L99.5 159.9L101.1 160.3L102.7 160.4L104.3 160.5M99.4 159.4L101.0 159.9L102.6 160.1L104.2 160.3L105.8 160.4M123.4 157.7L125.0 156.7M100.9 159.4L102.5 159.7L104.1 160.0L105.7 160.2L107.3 161.7M126.5 157.4L128.1 156.3L128.6 156.0M104.0 159.7L105.6 160.0L107.2 161.8M128.0 158.1L129.6 157.0L131.2 155.8L132.2 155.1M105.5 159.8L107.1 161.9L108.7 163.5M129.5 158.7L131.1 157.6L132.7 156.4L134.3 155.2L135.8 154.1M107.0 161.8L108.6 163.9M131.0 159.3L132.6 158.2L134.2 157.0L135.8 155.8L137.4 154.6M106.9 161.1L108.5 163.4M132.5 159.9L134.1 158.8L135.7 157.6L137.3 156.4L138.9 155.2M108.4 162.5L110.0 164.7M135.6 159.4L137.2 158.2L138.8 157.0L140.4 155.9M108.3 161.7L109.9 163.7L111.5 165.8M137.1 160.0L138.7 158.9L140.3 157.7L141.9 156.6M109.8 162.7L111.4 164.7L113.0 166.3M138.6 160.7L140.2 159.6L141.8 158.5L143.4 157.4L145.0 156.3M111.3 163.5L112.9 165.1L114.5 165.6L116.1 166.0M140.1 161.4L141.7 160.4L143.3 159.4L144.9 158.3L146.5 157.6L148.1 156.8M112.8 163.9L114.4 164.3L116.0 164.7L117.6 165.2L119.2 165.6M143.2 161.3L144.8 160.3L146.4 159.8L148.0 159.2L149.6 158.3L151.2 157.3L152.8 155.9M117.5 163.8L119.1 164.3L120.7 164.7L122.3 165.2L123.9 165.7M149.5 160.9L151.1 160.1L152.7 159.0L154.3 157.4M122.2 163.8L123.8 164.2L125.4 164.7L127.0 165.0L128.6 165.2L130.2 165.3M154.2 160.6L155.8 159.0L157.4 157.3M126.9 163.5L128.5 163.6L130.1 163.8L131.7 164.0L133.3 164.1L134.9 164.3L136.5 164.5L138.1 164.7M157.3 160.8L158.9 159.1L160.5 157.3M134.8 162.8L136.4 162.9L138.0 163.1L139.6 163.3L141.2 163.8L142.8 164.4M160.4 161.0L162.0 159.3L163.6 157.4M144.3 161.5L145.9 162.6L147.5 164.2M161.9 161.6L163.5 160.0L165.1 158.3M149.0 161.9L150.6 163.4L152.2 165.0M163.4 161.9L165.0 160.5L166.6 158.7M153.7 162.0L155.3 162.8L156.9 163.5M163.3 162.6L164.9 161.3L166.5 159.7L168.1 158.3M192.7 161.0L194.3 162.5L195.9 161.1M159.0 168.6L160.6 168.9L162.2 168.2M195.8 162.1L197.4 162.4L199.0 161.1M157.3 169.8L158.9 170.2L160.5 170.5L162.1 170.9L163.7 171.3L165.3 171.3L166.9 169.9L168.5 168.5L170.1 167.1M155.6 170.8L157.2 171.1L158.8 171.5L160.4 171.8L162.0 172.2L163.6 172.5M170.0 171.6L171.6 170.0L173.2 168.5M160.3 171.1L161.9 171.5L163.5 171.8L165.1 172.2L166.7 172.4M173.1 171.4L174.7 169.9L176.3 167.1M163.4 171.1L165.0 171.5L166.6 171.7L168.2 172.0L169.8 172.3L171.4 172.5M176.2 171.1L177.8 168.2M166.5 171.1L168.1 171.3L169.7 171.6L171.3 171.9L172.9 172.1L174.5 172.4L176.1 172.4M177.7 172.2L179.3 169.2M171.2 171.2L172.8 171.4L174.4 171.7L176.0 171.7L177.6 171.6L179.2 171.5L180.8 170.2M175.9 171.1L177.5 171.0L179.1 170.9L180.7 170.8L182.3 169.6M76.7 154.9L75.5 154.9M76.7 154.9L78.2 154.9L79.7 154.9L81.2 154.7M78.3 156.4L79.8 156.4L81.3 156.3L82.8 156.2L84.3 156.0L85.8 156.0L87.3 156.0M85.9 157.7L87.4 157.7L88.9 157.6L90.4 157.4L91.9 157.4L93.4 157.6L94.9 157.9L96.4 158.3L97.9 158.8L99.4 159.4L100.9 159.4M106.9 161.1L108.4 162.5L109.9 163.7L111.4 164.7L112.9 165.1L114.4 164.3M90.5 158.7L92.0 158.6L93.5 158.7L95.0 158.8L96.5 159.1L98.0 159.5L99.5 159.9L101.0 159.9L102.5 159.7L104.0 159.7M105.5 159.8L107.0 161.8L108.5 163.4L110.0 164.7M114.5 165.6L116.0 164.7L117.5 163.8M98.1 160.2L99.6 160.4L101.1 160.3L102.6 160.1L104.1 160.0L105.6 160.0L107.1 161.9L108.6 163.9M116.1 166.0L117.6 165.2L119.1 164.3M102.7 160.4L104.2 160.3L105.7 160.2L107.2 161.8M119.2 165.6L120.7 164.7L122.2 163.8M104.3 160.5L105.8 160.4L107.3 161.7M120.8 166.1L122.3 165.2L123.8 164.2M123.9 165.7L125.4 164.7L126.9 163.5M125.5 166.3L127.0 165.0L128.5 163.6M128.6 165.2L130.1 163.8M130.2 165.3L131.7 164.0L133.2 162.6M131.8 165.5L133.3 164.1L134.8 162.8M157.3 169.8L158.8 171.5L160.3 171.1M134.9 164.3L136.4 162.9M158.9 170.2L160.4 171.8L161.9 171.5L163.4 171.1M136.5 164.5L138.0 163.1M159.0 168.6L160.5 170.5L162.0 172.2L163.5 171.8L165.0 171.5L166.5 171.1M138.1 164.7L139.6 163.3M160.6 168.9L162.1 170.9L163.6 172.5L165.1 172.2L166.6 171.7L168.1 171.3M139.7 164.9L141.2 163.8L142.7 161.0M162.2 168.2L163.7 171.3M166.7 172.4L168.2 172.0L169.7 171.6L171.2 171.2M142.8 164.4L144.3 161.5M163.8 167.6L165.3 171.3M168.3 172.7L169.8 172.3L171.3 171.9L172.8 171.4L174.3 171.0M144.4 165.0L145.9 162.6M165.4 166.7L166.9 169.9M171.4 172.5L172.9 172.1L174.4 171.7L175.9 171.1M125.0 156.7L126.5 157.4L128.0 158.1M147.5 164.2L149.0 161.9M168.5 168.5L170.0 171.6M174.5 172.4L176.0 171.7L177.5 171.0M128.1 156.3L127.7 156.2M128.1 156.3L129.6 157.0L131.1 157.6L132.6 158.2L134.1 158.8L135.6 159.4L137.1 160.0L138.6 160.7M150.6 163.4L152.1 161.0M170.1 167.1L171.6 170.0L173.1 171.4M176.1 172.4L177.6 171.6L179.1 170.9M131.2 155.8L130.5 155.6M131.2 155.8L132.7 156.4L134.2 157.0L135.7 157.6L137.2 158.2L138.7 158.9L140.2 159.6L141.7 160.4L143.2 161.3M152.2 165.0L153.7 162.0M173.2 168.5L174.7 169.9L176.2 171.1L177.7 172.2L179.2 171.5L180.7 170.8L182.2 170.0M134.3 155.2L133.2 154.8M134.3 155.2L135.8 155.8L137.3 156.4L138.8 157.0L140.3 157.7L141.8 158.5L143.3 159.4L144.8 160.3L146.3 161.9M177.8 168.2L179.3 169.2L180.8 170.2L182.3 169.6M138.9 155.2L140.4 155.9L141.9 156.6L143.4 157.4L144.9 158.3L146.4 159.8L147.9 161.5M145.0 156.3L146.5 157.6L148.0 159.2L149.5 160.9M148.1 156.8L149.6 158.3L151.1 160.1M151.2 157.3L152.7 159.0L154.2 160.6M154.3 157.4L155.8 159.0L157.3 160.8M157.4 157.3L158.9 159.1L160.4 161.0M161.9 161.6L163.4 161.9L164.9 161.3M160.5 157.3L162.0 159.3L163.5 160.0L165.0 160.5L166.5 159.7M163.6 157.4L165.1 158.3L166.6 158.7M194.3 162.5L195.8 162.1M195.9 161.1L197.4 162.4L198.9 161.5M199.0 161.1L200.5 161.8"/>
<path stroke="#4759f8" d="M70.5 150.7L71.2 151.5M72.0 151.3L73.6 153.1M73.5 151.8L75.1 153.5M75.0 152.1L76.6 153.5L78.2 154.9M76.5 152.1L78.1 153.5L79.7 154.9M78.0 152.0L79.6 153.4L81.2 154.7M81.1 153.2L82.7 154.6L84.3 156.0M82.6 152.9L84.2 154.4L85.8 156.0M85.7 154.3L87.3 156.0M87.2 154.4L88.8 156.1M88.7 154.5L90.3 156.0L91.9 157.4M90.2 154.6L91.8 156.2L93.4 157.6M91.7 155.0L93.3 156.5L94.9 157.9M93.2 155.4L94.8 157.0L96.4 158.3M94.7 156.0L96.3 157.5L97.9 158.8M96.2 156.7L97.8 158.2L99.4 159.4M97.7 157.5L99.3 158.8L100.9 159.4M99.2 158.2L100.8 158.9L102.4 159.4L104.0 159.7M100.7 158.5L102.3 159.0L103.9 159.4L105.5 159.8M102.2 158.6L103.8 159.2L105.4 159.6L107.0 161.8M137.4 154.6L139.0 153.4L139.4 153.1M103.7 158.8L105.3 159.4L106.9 161.1M138.9 155.2L140.5 154.0L142.1 152.8L143.0 152.1M105.2 159.2L106.8 160.4L108.4 162.5M140.4 155.9L142.0 154.7L143.6 153.5L145.2 152.2M106.7 159.7L108.3 161.7M141.9 156.6L143.5 155.5L145.1 154.3L146.7 153.2L148.3 151.9M108.2 160.8L109.8 162.7M145.0 156.3L146.6 155.4L148.2 154.3L149.8 153.1M109.7 161.7L111.3 163.5M148.1 156.8L149.7 155.7L151.3 154.4L152.9 152.8M111.2 162.3L112.8 163.9M152.8 155.9L154.4 154.2L156.0 152.3M112.7 162.7L114.3 163.1L115.9 163.4L117.5 163.8M154.3 157.4L155.9 155.7L157.5 153.9M115.8 162.1L117.4 162.5L119.0 162.9L120.6 163.3L122.2 163.8M157.4 157.3L159.0 155.5L160.6 153.7M112.5 163.5L114.1 163.2L115.7 162.7M120.5 161.9L122.1 162.3L123.7 162.8L125.3 163.2L126.9 163.5M160.5 157.3L162.1 155.5L163.7 153.5M112.4 164.7L114.0 164.5L115.6 164.0L117.2 163.6L118.8 163.1L120.4 162.6M125.2 161.7L126.8 162.0L128.4 162.1L130.0 162.3L131.6 162.4L133.2 162.6L134.8 162.8M163.6 157.4L165.2 155.5L166.8 153.3M137.9 159.8L139.5 160.0L141.1 160.5L142.7 161.0L144.3 161.5M165.1 158.3L166.7 156.3L168.3 154.3M145.8 159.1L147.4 160.5L149.0 161.9M166.6 158.7L168.2 156.9L169.8 155.1M150.5 159.6L152.1 161.0L153.7 162.0M168.1 158.3L169.7 156.8L171.3 155.3M154.3 165.9L155.9 166.1L157.5 165.7L159.1 165.1M191.1 158.7L192.7 161.0M195.9 161.1L197.5 159.2L199.1 157.4M152.6 167.2L154.2 167.6L155.8 167.9L157.4 168.3L159.0 168.6M162.2 168.2L163.8 167.6L165.4 166.7L167.0 165.4L168.6 164.1M192.6 158.5L194.2 160.8L195.8 162.1M199.0 161.1L200.6 159.1L202.2 157.0M150.9 167.6L152.5 168.8L154.1 169.1L155.7 169.5L157.3 169.8M170.1 167.1L171.7 165.6L173.3 163.3M195.7 160.1L197.3 161.3L198.9 161.5L200.5 161.8L202.1 160.6L203.7 158.4M150.8 168.8L152.4 170.1L154.0 170.4L155.6 170.8M173.2 168.5L174.8 166.0L176.4 162.5M198.8 160.1L200.4 160.4L202.0 160.7L203.6 161.0L205.2 159.5L206.8 157.3M153.9 169.8L152.6 169.5M153.9 169.8L155.5 170.1L157.1 170.5L158.7 170.8L160.3 171.1M176.3 167.1L177.9 163.5M205.1 159.1L206.7 159.3M158.6 170.1L157.6 169.9M158.6 170.1L160.2 170.4L161.8 170.8L163.4 171.1M177.8 168.2L179.4 164.5M163.3 170.4L162.7 170.3M163.3 170.4L164.9 170.8L166.5 171.1M179.3 169.2L180.9 165.4M168.0 170.6L166.7 170.4M168.0 170.6L169.6 170.9L171.2 171.2M180.8 170.2L182.4 166.3M171.1 170.5L169.7 170.3M171.1 170.5L172.7 170.8L174.3 171.0L175.9 171.1M182.3 169.6L183.9 167.2M174.2 170.4L172.8 170.1M174.2 170.4L175.8 170.4L177.4 170.3L179.0 170.2L180.6 170.1L182.2 170.0L183.8 168.9L185.4 166.6M177.3 169.7L175.8 169.8M177.3 169.7L178.9 169.6L180.5 169.5L182.1 169.4L183.7 169.3L185.3 168.1M183.6 168.6L185.2 168.5M70.5 150.7L70.0 150.5M70.5 150.7L72.0 151.3L73.5 151.8L75.0 152.1L76.5 152.1M112.5 163.5L114.0 164.5M73.6 153.1L72.7 152.8M73.6 153.1L75.1 153.5L76.6 153.5L78.1 153.5L79.6 153.4L81.1 153.2L82.6 152.9M114.1 163.2L115.6 164.0M81.2 154.7L82.7 154.6L84.2 154.4L85.7 154.3L87.2 154.4L88.7 154.5M96.2 156.7L97.7 157.5L99.2 158.2L100.7 158.5L102.2 158.6M106.7 159.7L108.2 160.8L109.7 161.7L111.2 162.3L112.7 162.7L114.2 161.9M115.7 162.7L117.2 163.6M87.3 156.0L88.8 156.1L90.3 156.0L91.8 156.2L93.3 156.5L94.8 157.0L96.3 157.5L97.8 158.2L99.3 158.8L100.8 158.9L102.3 159.0L103.8 159.2L105.3 159.4L106.8 160.4L108.3 161.7L109.8 162.7L111.3 163.5L112.8 163.9L114.3 163.1L115.8 162.1M100.9 159.4L102.4 159.4L103.9 159.4L105.4 159.6L106.9 161.1M114.4 164.3L115.9 163.4L117.4 162.5L118.9 161.7M104.0 159.7L105.5 159.8M117.5 163.8L119.0 162.9L120.5 161.9M119.1 164.3L120.6 163.3L122.1 162.3L123.6 161.6M122.2 163.8L123.7 162.8L125.2 161.7M123.8 164.2L125.3 163.2L126.8 162.0M126.9 163.5L128.4 162.1M150.9 167.6L152.4 170.1L153.9 169.8L154.5 169.7M128.5 163.6L130.0 162.3M152.5 168.8L154.0 170.4L155.5 170.1L156.7 169.8M130.1 163.8L131.6 162.4L133.1 159.3M152.6 167.2L154.1 169.1L155.6 170.8L157.1 170.5L158.6 170.1L159.0 170.0M133.2 162.6L134.7 159.5M152.7 165.5L154.2 167.6L155.7 169.5L157.2 171.1L158.7 170.8L160.2 170.4L161.3 170.2M134.8 162.8L136.3 159.6M154.3 165.9L155.8 167.9L157.3 169.8M160.3 171.1L161.8 170.8L163.3 170.4L163.5 170.4M136.4 162.9L137.9 159.8M155.9 166.1L157.4 168.3L158.9 170.2M163.4 171.1L164.9 170.8L166.1 170.4M138.0 163.1L139.5 160.0M157.5 165.7L159.0 168.6M166.5 171.1L168.0 170.6L169.3 170.3M139.6 163.3L141.1 160.5M159.1 165.1L160.6 168.9M168.1 171.3L169.6 170.9L171.1 170.5L172.4 170.1M142.7 161.0L144.2 158.2M160.7 164.6L162.2 168.2M171.2 171.2L172.7 170.8L174.2 170.4L175.6 169.8M144.3 161.5L145.8 159.1M162.3 164.0L163.8 167.6M174.3 171.0L175.8 170.4L177.3 169.7M145.9 162.6L147.4 160.5L148.9 158.3M163.9 163.3L165.4 166.7M175.9 171.1L177.4 170.3L178.9 169.6L180.4 168.8M149.0 161.9L150.5 159.6M167.0 165.4L168.5 168.5M177.5 171.0L179.0 170.2L180.5 169.5L182.0 168.7M168.6 164.1L170.1 167.1M179.1 170.9L180.6 170.1L182.1 169.4L183.6 168.6M170.2 162.8L171.7 165.6L173.2 168.5M182.2 170.0L183.7 169.3L185.2 168.5M173.3 163.3L174.8 166.0L176.3 167.1L177.8 168.2M182.3 169.6L183.8 168.9L185.3 168.1M137.4 154.6L136.0 154.1M137.4 154.6L138.9 155.2M180.9 165.4L182.4 166.3L183.9 167.2L185.4 166.6M139.0 153.4L138.7 153.3M139.0 153.4L140.5 154.0L142.0 154.7L143.5 155.5L145.0 156.3M142.1 152.8L141.5 152.5M142.1 152.8L143.6 153.5L145.1 154.3L146.6 155.4L148.1 156.8M160.1 165.0L161.6 151.9M145.2 152.2L144.2 151.8M145.2 152.2L146.7 153.2L148.2 154.3L149.7 155.7L151.2 157.3M161.7 163.8L163.2 152.5M148.3 151.9L149.8 153.1L151.3 154.4L152.8 155.9L154.3 157.4M163.3 162.6L164.8 152.3M152.9 152.8L154.4 154.2L155.9 155.7L157.4 157.3M156.0 152.3L157.5 153.9L159.0 155.5L160.5 157.3M160.6 153.7L162.1 155.5L163.6 157.4M166.6 158.7L168.1 158.3M163.7 153.5L165.2 155.5L166.7 156.3L168.2 156.9L169.7 156.8M168.3 154.3L169.8 155.1L171.3 155.3M192.7 161.0L194.2 160.8L195.7 160.1M192.8 155.0L194.3 162.5M195.8 162.1L197.3 161.3L198.8 160.1M198.9 161.5L200.4 160.4M197.5 159.2L199.0 161.1M200.5 161.8L202.0 160.7L203.5 158.9M199.1 157.4L200.6 159.1L202.1 160.6L203.6 161.0L205.1 159.1M203.7 158.4L205.2 159.5L206.7 159.3"/>
<path stroke="#4562fc" d="M65.8 146.6L67.4 148.3L67.6 148.6M67.3 147.2L68.9 148.9L70.5 150.7M68.8 147.8L70.4 149.5L72.0 151.3M70.3 148.3L71.9 150.1L73.5 151.8M71.8 148.8L73.4 150.4L75.0 152.1M73.3 149.1L74.9 150.7L76.5 152.1M76.4 150.6L78.0 152.0M77.9 150.5L79.5 151.8L81.1 153.2M79.4 150.3L81.0 151.6L82.6 152.9M82.5 151.3L84.1 152.7L85.7 154.3M84.0 151.0L85.6 152.7L87.2 154.4M85.5 151.0L87.1 152.7L88.7 154.5M88.6 153.0L90.2 154.6M90.1 153.2L91.7 155.0M91.6 153.7L93.2 155.4M93.1 154.3L94.7 156.0M94.6 155.0L96.2 156.7M94.5 154.0L96.1 155.8L97.7 157.5M96.0 155.0L97.6 156.7L99.2 158.2M97.5 156.0L99.1 157.7L100.7 158.5M99.0 157.1L100.6 158.0L102.2 158.6M98.9 156.4L100.5 157.5L102.1 158.2L103.7 158.8M100.4 157.0L102.0 157.8L103.6 158.5L105.2 159.2M145.2 152.2L146.6 151.1M101.9 157.4L103.5 158.2L105.1 159.0L106.7 159.7M148.3 151.9L149.9 150.4L150.1 150.1M103.4 157.8L105.0 158.7L106.6 159.1L108.2 160.8M149.8 153.1L151.4 151.5L153.0 149.7L153.7 148.8M106.5 158.4L108.1 160.0L109.7 161.7M152.9 152.8L154.5 150.9L156.1 149.0M108.0 159.2L109.6 160.7L111.2 162.3M156.0 152.3L157.6 150.4L159.2 148.4M109.5 159.8L111.1 161.2L112.7 162.7M157.5 153.9L159.1 152.0L160.7 150.0M109.4 160.6L111.0 161.5L112.6 162.4L114.2 161.9L115.8 162.1M160.6 153.7L162.2 151.7L163.8 149.6M109.3 161.5L110.9 162.5L112.5 163.5M115.7 162.7L117.3 162.2L118.9 161.7L120.5 161.9M163.7 153.5L165.3 151.4L166.9 149.2M109.2 162.3L110.8 163.5L112.4 164.7M120.4 162.6L122.0 162.1L123.6 161.6L125.2 161.7M166.8 153.3L168.4 151.2M110.7 162.2L112.3 163.5L113.9 163.4L115.5 163.1L117.1 162.7L118.7 162.3L120.3 161.9L121.9 161.5L123.5 161.0L125.1 160.5L126.7 159.9L128.3 159.1L129.9 158.9L131.5 159.1L133.1 159.3L134.7 159.5L136.3 159.6L137.9 159.8M168.3 154.3L169.9 152.3L171.5 150.3M141.0 157.3L142.6 157.7L144.2 158.2L145.8 159.1M169.8 155.1L171.4 153.2L173.0 151.4M147.3 157.1L148.9 158.3L150.5 159.6M171.3 155.3L172.9 153.7L174.5 152.1L176.1 150.6M191.2 155.3L192.8 155.0M149.5 163.4L151.1 164.5L152.7 165.5L154.3 165.9M159.1 165.1L160.7 164.6L162.3 164.0L163.9 163.3L165.5 162.5L167.1 161.3L168.7 160.1M189.5 156.6L191.1 158.7M199.1 157.4L200.7 155.6L202.3 153.9M149.4 164.9L151.0 166.1L152.6 167.2M168.6 164.1L170.2 162.8L171.8 160.7M191.0 156.3L192.6 158.5M202.2 157.0L203.8 155.2L205.4 153.4M147.7 165.1L149.3 166.3L150.9 167.6M173.3 163.3L174.9 160.4M194.1 158.0L195.7 160.1M203.7 158.4L205.3 156.3L206.9 154.4M147.6 166.2L149.2 167.5L150.8 168.8M176.4 162.5L178.0 159.3M195.6 157.0L197.2 158.9L198.8 160.1M206.8 157.3L208.4 155.3M177.9 163.5L179.5 160.2M198.7 157.0L200.3 158.1L201.9 158.5L203.5 158.9L205.1 159.1M206.7 159.3L208.3 157.7L209.9 155.6M179.4 164.5L181.0 161.0M205.0 157.1L206.6 157.3L208.2 157.5L209.8 157.5L211.4 155.8M180.9 165.4L182.5 161.9M182.4 166.3L184.0 162.7M183.9 167.2L185.5 163.5M185.4 166.6L187.0 164.3M185.3 168.1L186.9 165.9L188.5 163.7M180.4 168.8L178.8 168.9M180.4 168.8L182.0 168.7L183.6 168.6M185.2 168.5L186.8 167.4L188.4 165.2M181.9 168.1L183.5 168.0L185.1 167.9L186.7 167.8L188.3 166.7L189.9 164.5M185.0 167.3L184.9 167.3M185.0 167.3L186.6 167.2L188.2 167.1L189.8 166.0M109.2 162.3L110.7 162.2M109.3 161.5L110.8 163.5L112.3 163.5L113.8 162.0M67.4 148.3L67.2 148.3M67.4 148.3L68.9 148.9L70.4 149.5L71.9 150.1L73.4 150.4L74.9 150.7L76.4 150.6L77.9 150.5M109.4 160.6L110.9 162.5L112.4 164.7L113.9 163.4L115.4 161.7M76.5 152.1L78.0 152.0L79.5 151.8L81.0 151.6L82.5 151.3M96.0 155.0L97.5 156.0L99.0 157.1L100.5 157.5L102.0 157.8L103.5 158.2L105.0 158.7L106.5 158.4L108.0 159.2L109.5 159.8L111.0 161.5L112.5 163.5M114.0 164.5L115.5 163.1L117.0 161.4M82.6 152.9L84.1 152.7L85.6 152.7L87.1 152.7L88.6 153.0L90.1 153.2L91.6 153.7L93.1 154.3L94.6 155.0L96.1 155.8L97.6 156.7L99.1 157.7L100.6 158.0L102.1 158.2L103.6 158.5L105.1 159.0L106.6 159.1L108.1 160.0L109.6 160.7L111.1 161.2L112.6 162.4L114.1 163.2M115.6 164.0L117.1 162.7L118.6 161.1M88.7 154.5L90.2 154.6L91.7 155.0L93.2 155.4L94.7 156.0L96.2 156.7M102.2 158.6L103.7 158.8L105.2 159.2L106.7 159.7M114.2 161.9L115.7 162.7M117.2 163.6L118.7 162.3L120.2 160.8M115.8 162.1L117.3 162.2L118.8 163.1L120.3 161.9L121.8 160.4M118.9 161.7L120.4 162.6L121.9 161.5L123.4 160.1M120.5 161.9L122.0 162.1L123.5 161.0L125.0 159.7M123.6 161.6L125.1 160.5L126.6 159.2M125.2 161.7L126.7 159.9M147.7 165.1L149.2 167.5L149.9 167.8M126.8 162.0L128.3 159.1M149.3 166.3L150.8 168.8L152.2 169.3M128.4 162.1L129.9 158.9M149.4 164.9L150.9 167.6M130.0 162.3L131.5 159.1M149.5 163.4L151.0 166.1L152.5 168.8M151.1 164.5L152.6 167.2M134.7 159.5L136.2 156.4M136.3 159.6L137.8 156.6M137.9 159.8L139.4 156.8M139.5 160.0L141.0 157.3M141.1 160.5L142.6 157.7M144.2 158.2L145.7 155.9M145.8 159.1L147.3 157.1M177.3 169.7L178.8 169.0M180.4 168.8L181.9 168.1M165.5 162.5L167.0 165.4M182.0 168.7L183.5 168.0L185.0 167.3L185.1 167.2M167.1 161.3L168.6 164.1M183.6 168.6L185.1 167.9L186.6 167.2M168.7 160.1L170.2 162.8M185.2 168.5L186.7 167.8L188.2 167.1L189.7 166.3M155.3 162.8L156.8 150.1M171.8 160.7L173.3 163.3M185.3 168.1L186.8 167.4L188.3 166.7L189.8 166.0M156.9 163.5L158.4 150.6M174.9 160.4L176.4 162.5L177.9 163.5L179.4 164.5L180.9 165.4M185.4 166.6L186.9 165.9L188.4 165.2M158.5 164.3L160.0 151.2M184.0 162.7L185.5 163.5L187.0 164.3L188.5 163.7M148.3 151.9L147.0 151.0M149.9 150.4L149.7 150.3M149.9 150.4L151.4 151.5L152.9 152.8M164.9 161.3L166.4 151.3M153.0 149.7L152.5 149.2M153.0 149.7L154.5 150.9L156.0 152.3M166.5 159.7L168.0 150.3M156.1 149.0L157.6 150.4L159.1 152.0L160.6 153.7M168.1 158.3L169.6 149.8M160.7 150.0L162.2 151.7L163.7 153.5M169.7 156.8L171.2 149.2M163.8 149.6L165.3 151.4L166.8 153.3L168.3 154.3M166.9 149.2L168.4 151.2L169.9 152.3L171.4 153.2L172.9 153.7M171.5 150.3L173.0 151.4L174.5 152.1M189.6 153.3L191.1 158.7L192.6 158.5L194.1 158.0L195.6 157.0M191.2 155.3L192.7 161.0M195.7 160.1L197.2 158.9L198.7 157.0M198.8 160.1L200.3 158.1M194.4 154.1L195.9 161.1M200.4 160.4L201.9 158.5L203.4 156.8M196.0 153.1L197.5 159.2M203.5 158.9L205.0 157.1M197.6 152.0L199.1 157.4M205.1 159.1L206.6 157.3M200.7 155.6L202.2 157.0L203.7 158.4M206.7 159.3L208.2 157.5L209.7 155.8M202.3 153.9L203.8 155.2L205.3 156.3L206.8 157.3L208.3 157.7L209.8 157.5L211.3 155.8M206.9 154.4L208.4 155.3L209.9 155.6L211.4 155.8"/>
<path stroke="#416bfe" d="M62.7 143.9L64.0 145.6M64.2 144.8L65.8 146.6M65.7 145.5L67.3 147.2M67.2 146.1L68.8 147.8M68.7 146.6L70.3 148.3M70.2 147.1L71.8 148.8M71.7 147.6L73.3 149.1M73.2 147.8L74.8 149.3L76.4 150.6M74.7 147.9L76.3 149.2L77.9 150.5M76.2 147.8L77.8 149.0L79.4 150.3M79.3 148.8L80.9 150.0L82.5 151.3M80.8 148.5L82.4 149.7L84.0 151.0M83.9 149.3L85.5 151.0M85.4 149.3L87.0 151.0L88.6 153.0M86.9 149.3L88.5 151.5L90.1 153.2M88.4 149.9L90.0 151.7L91.6 153.7M89.9 150.3L91.5 152.4L93.1 154.3M91.4 151.1L93.0 153.2L94.6 155.0M92.9 152.0L94.5 154.0M94.4 153.0L96.0 155.0M95.9 154.1L97.5 156.0M95.8 153.2L97.4 155.2L99.0 157.1M97.3 154.5L98.9 156.4M98.8 155.8L100.4 157.0M98.7 155.1L100.3 156.5L101.9 157.4M100.2 156.0L101.8 156.9L103.4 157.8M101.7 156.5L103.3 157.5L104.9 158.4L106.5 158.4M156.1 149.0L157.3 147.4M103.2 157.1L104.8 158.2L106.4 157.8L108.0 159.2M159.2 148.4L160.8 146.2L160.9 146.1M104.7 157.9L106.3 158.0L107.9 158.9L109.5 159.8M160.7 150.0L162.3 147.8L163.9 145.6M104.6 157.6L106.2 158.5L107.8 159.6L109.4 160.6M163.8 149.6L165.4 147.4M106.1 159.0L107.7 160.3L109.3 161.5M166.9 149.2L168.5 147.0M106.0 158.3L107.6 161.0L109.2 162.3M168.4 151.2L170.0 148.9L171.6 146.7M107.5 159.5L109.1 160.9L110.7 162.2M171.5 150.3L173.1 148.2L174.7 146.1M110.6 160.6L112.2 161.9L113.8 162.0L115.4 161.7L117.0 161.4L118.6 161.1L120.2 160.8L121.8 160.4L123.4 160.1L125.0 159.7L126.6 159.2L128.2 158.5L129.8 157.8L131.4 157.0L133.0 156.2L134.6 156.2L136.2 156.4L137.8 156.6L139.4 156.8L141.0 157.3M173.0 151.4L174.6 149.5L176.2 147.7M112.1 160.2L113.7 160.5L115.3 160.3L116.9 160.0L118.5 159.8L120.1 159.5L121.7 159.2L123.3 158.9L124.9 158.7L126.5 158.3L128.1 157.7L129.7 157.1M142.5 154.7L144.1 155.1L145.7 155.9L147.3 157.1M176.1 150.6L177.7 149.0L179.3 147.4M161.6 151.9L163.2 152.5L164.8 152.3L166.4 151.3L168.0 150.3M189.6 153.3L191.2 155.3M192.8 155.0L194.4 154.1L196.0 153.1L197.6 152.0L199.2 151.0L200.8 150.1M146.3 161.2L147.9 162.3L149.5 163.4M168.7 160.1L170.3 158.3L171.9 156.0M202.3 153.9L203.9 152.3L205.5 150.9L207.1 149.5M146.2 162.6L147.8 163.8L149.4 164.9M171.8 160.7L173.4 158.1L175.0 155.7M205.4 153.4L207.0 151.8L208.6 150.3M144.5 163.0L146.1 163.9L147.7 165.1M174.9 160.4L176.5 157.5M192.5 155.7L194.1 158.0M206.9 154.4L208.5 152.7L210.1 151.0M147.6 166.2L147.5 166.2M194.0 154.9L195.6 157.0M208.4 155.3L210.0 153.4L211.6 151.6M197.1 155.2L198.7 157.0M209.9 155.6L211.5 153.7L213.1 152.0M200.2 155.1L201.8 156.3L203.4 156.8L205.0 157.1M211.4 155.8L213.0 153.9L214.6 152.2M204.9 155.1L206.5 155.4L208.1 155.6L209.7 155.8L211.3 155.8L212.9 155.8L214.5 154.0L216.1 152.2M211.2 154.2L212.8 154.2L214.4 154.2L216.0 154.0M188.4 165.2L190.0 163.0M189.9 164.5L191.5 162.4M189.8 166.0L191.4 163.9L193.0 161.7M188.1 166.4L188.0 166.4M188.1 166.4L189.7 166.3L191.3 165.3L192.9 163.2M191.2 165.6L191.0 165.6M191.2 165.6L192.8 164.6M106.1 159.0L107.6 161.0L109.1 160.9L110.6 160.6L112.1 160.2M64.2 144.8L65.7 145.5L67.2 146.1L68.7 146.6L70.2 147.1L71.7 147.6L73.2 147.8L74.7 147.9M100.2 156.0L101.7 156.5L103.2 157.1L104.7 157.9L106.2 158.5L107.7 160.3L109.2 162.3M110.7 162.2L112.2 161.9L113.7 160.5M65.8 146.6L64.5 146.0M65.8 146.6L67.3 147.2L68.8 147.8L70.3 148.3L71.8 148.8L73.3 149.1L74.8 149.3L76.3 149.2L77.8 149.0L79.3 148.8M97.3 154.5L98.8 155.8L100.3 156.5L101.8 156.9L103.3 157.5L104.8 158.2L106.3 158.0L107.8 159.6L109.3 161.5M113.8 162.0L115.3 160.3M77.9 150.5L79.4 150.3L80.9 150.0L82.4 149.7L83.9 149.3M92.9 152.0L94.4 153.0L95.9 154.1L97.4 155.2L98.9 156.4L100.4 157.0L101.9 157.4L103.4 157.8L104.9 158.4L106.4 157.8L107.9 158.9L109.4 160.6M115.4 161.7L116.9 160.0M82.5 151.3L84.0 151.0L85.5 151.0L87.0 151.0L88.5 151.5L90.0 151.7L91.5 152.4L93.0 153.2L94.5 154.0L96.0 155.0M117.0 161.4L118.5 159.8M118.6 161.1L120.1 159.5M120.2 160.8L121.7 159.2M121.8 160.4L123.3 158.9M123.4 160.1L124.9 158.7M125.0 159.7L126.5 158.3M144.5 163.0L145.4 164.1M126.6 159.2L128.1 157.7M144.6 161.7L146.1 163.9L147.6 166.2M126.7 159.9L128.2 158.5L129.7 157.1M146.2 162.6L147.7 165.1M128.3 159.1L129.8 157.8L131.3 156.4M146.3 161.2L147.8 163.8L149.3 166.3M129.9 158.9L131.4 157.0L132.9 155.7M147.9 162.3L149.4 164.9M131.5 159.1L133.0 156.2M133.1 159.3L134.6 156.2M137.8 156.6L139.3 153.9M139.4 156.8L140.9 154.2M141.0 157.3L142.5 154.7M142.6 157.7L144.1 155.1M150.5 159.6L152.0 147.7M152.1 161.0L153.6 148.6M186.6 167.2L188.1 166.4L188.2 166.4M153.7 162.0L155.2 149.4M189.7 166.3L191.2 165.6L191.4 165.5M170.3 158.3L171.8 160.7M189.8 166.0L191.3 165.3L192.8 164.6L194.3 163.8M171.9 156.0L173.4 158.1L174.9 160.4M188.4 165.2L189.9 164.5L191.4 163.9L192.9 163.2M176.5 157.5L178.0 159.3L179.5 160.2L181.0 161.0L182.5 161.9L184.0 162.7M188.5 163.7L190.0 163.0L191.5 162.4M156.1 149.0L155.2 148.2M159.2 148.4L158.0 147.2M159.2 148.4L160.7 150.0M160.8 146.2L162.3 147.8L163.8 149.6M171.3 155.3L172.8 148.6M163.9 145.6L165.4 147.4L166.9 149.2M172.9 153.7L174.4 148.0M168.5 147.0L170.0 148.9L171.5 150.3M174.5 152.1L176.0 147.3M188.0 151.4L189.5 156.6L191.0 156.3L192.5 155.7L194.0 154.9M171.6 146.7L173.1 148.2L174.6 149.5L176.1 150.6L177.6 146.6M195.6 157.0L197.1 155.2M176.2 147.7L177.7 149.0M198.7 157.0L200.2 155.1M191.3 148.1L192.8 155.0M200.3 158.1L201.8 156.3L203.3 154.6M203.4 156.8L204.9 155.1M205.0 157.1L206.5 155.4M206.6 157.3L208.1 155.6L209.6 154.0M199.2 151.0L200.7 155.6M209.7 155.8L211.2 154.2M200.8 150.1L202.3 153.9M211.3 155.8L212.8 154.2M202.4 149.2L203.9 152.3L205.4 153.4L206.9 154.4M211.4 155.8L212.9 155.8L214.4 154.2M205.5 150.9L207.0 151.8L208.5 152.7L210.0 153.4L211.5 153.7L213.0 153.9L214.5 154.0L216.0 154.0M208.6 150.3L210.1 151.0L211.6 151.6L213.1 152.0L214.6 152.2"/>
<path stroke="#3875fe" d="M59.6 140.9L60.4 142.0M61.1 141.9L62.7 143.9M62.6 142.8L64.2 144.8M62.5 141.8L64.1 143.8L65.7 145.5M64.0 142.7L65.6 144.5L67.2 146.1M65.5 143.4L67.1 145.0L68.7 146.6M67.0 143.9L68.6 145.5L70.2 147.1M68.5 144.3L70.1 145.9L71.7 147.6M70.0 144.8L71.6 146.4L73.2 147.8M71.5 145.2L73.1 146.5L74.7 147.9M73.0 145.3L74.6 146.5L76.2 147.8M76.1 146.4L77.7 147.6L79.3 148.8M77.6 146.1L79.2 147.3L80.8 148.5M80.7 146.9L82.3 148.1L83.9 149.3M83.8 147.7L85.4 149.3M85.3 147.6L86.9 149.3M86.8 147.7L88.4 149.9M88.3 148.3L89.9 150.3M89.8 148.8L91.4 151.1M91.3 149.8L92.9 152.0M92.8 150.8L94.4 153.0M92.7 149.7L94.3 152.0L95.9 154.1M94.2 150.9L95.8 153.2M95.7 152.3L97.3 154.5M95.6 151.4L97.2 153.7L98.8 155.8M97.1 152.9L98.7 155.1M98.6 154.4L100.2 156.0M98.5 153.7L100.1 155.4L101.7 156.5M100.0 154.9L101.6 156.0L103.2 157.1M101.5 155.6L103.1 156.8L104.7 157.9M163.9 145.6L164.5 144.7M101.4 155.1L103.0 156.4L104.6 157.6M165.4 147.4L167.0 145.1L168.1 143.6M102.9 156.0L104.5 157.3L106.1 159.0M168.5 147.0L170.1 144.7L171.7 142.5M104.4 157.0L106.0 158.3M171.6 146.7L173.2 144.4L174.8 142.2M105.9 156.2L107.5 159.5M174.7 146.1L176.3 144.2M107.4 157.8L109.0 159.2L110.6 160.6M176.2 147.7L177.8 146.0L179.4 144.2M108.9 157.5L110.5 158.9L112.1 160.2M129.7 157.1L131.3 156.4L132.9 155.7L134.5 155.0L136.1 154.3L137.7 153.6L139.3 153.9L140.9 154.2L142.5 154.7M179.3 147.4L180.9 145.8L182.5 144.3M156.8 150.1L158.4 150.6L160.0 151.2L161.6 151.9M168.0 150.3L169.6 149.8L171.2 149.2L172.8 148.6L174.4 148.0L176.0 147.3L177.6 146.6L179.2 145.8L180.8 145.0M202.5 146.2L204.1 145.8M188.0 151.4L189.6 153.3M200.8 150.1L202.4 149.2L204.0 148.4L205.6 147.6L207.2 146.7L208.8 145.7M139.9 159.6L141.5 159.8L143.1 160.0L144.7 160.2L146.3 161.2M171.9 156.0L173.5 153.8M187.9 146.5L189.5 156.6M207.1 149.5L208.7 148.1L210.3 146.8L211.9 145.5M138.2 161.2L137.3 161.3M138.2 161.2L139.8 161.1L141.4 161.3L143.0 161.5L144.6 161.7L146.2 162.6M189.4 145.9L191.0 156.3M208.6 150.3L210.2 148.9L211.8 147.5L213.4 146.2M142.9 162.9L142.4 162.8M142.9 162.9L144.5 163.0M210.1 151.0L211.7 149.5L213.3 148.1L214.9 146.8M211.6 151.6L213.2 150.0L214.8 148.6L216.4 147.2M195.5 153.4L197.1 155.2M213.1 152.0L214.7 150.4L216.3 148.8L217.9 147.3M197.0 151.7L198.6 153.4L200.2 155.1M214.6 152.2L216.2 150.5L217.8 148.8M200.1 151.7L201.7 153.5L203.3 154.6L204.9 155.1M216.1 152.2L217.7 150.4L219.3 148.7M204.8 153.0L206.4 153.4L208.0 153.8L209.6 154.0L211.2 154.2M216.0 154.0L217.6 151.9L219.2 150.1M209.5 152.2L211.1 152.5L212.7 152.6L214.3 152.6L215.9 152.6L217.5 152.2L219.1 151.5L220.7 149.6M192.9 163.2L194.5 161.1M192.8 164.6L194.4 162.6L196.0 160.3M194.3 163.8L194.0 164.2M194.3 163.8L195.9 161.7M102.9 156.0L104.4 157.0M98.5 153.7L100.0 154.9L101.5 155.6L103.0 156.4L104.5 157.3L106.0 158.3L107.5 159.5L109.0 159.2L110.5 158.9M59.6 140.9L61.1 141.9L62.6 142.8L64.1 143.8L65.6 144.5L67.1 145.0L68.6 145.5L70.1 145.9L71.6 146.4L73.1 146.5L74.6 146.5L76.1 146.4M97.1 152.9L98.6 154.4L100.1 155.4L101.6 156.0L103.1 156.8L104.6 157.6L106.1 159.0M62.7 143.9L61.7 143.3M62.7 143.9L64.2 144.8M74.7 147.9L76.2 147.8L77.7 147.6L79.2 147.3L80.7 146.9M94.2 150.9L95.7 152.3L97.2 153.7L98.7 155.1L100.2 156.0M79.3 148.8L80.8 148.5L82.3 148.1L83.8 147.7L85.3 147.6M89.8 148.8L91.3 149.8L92.8 150.8L94.3 152.0L95.8 153.2L97.3 154.5M83.9 149.3L85.4 149.3L86.9 149.3L88.4 149.9L89.9 150.3L91.4 151.1L92.9 152.0M138.2 161.2L138.6 161.6M138.3 159.6L139.8 161.1L140.8 162.2M139.9 159.6L141.4 161.3L142.9 162.9L143.1 163.1M141.5 159.8L143.0 161.5L144.5 163.0M143.1 160.0L144.6 161.7M144.7 160.2L146.2 162.6M133.0 156.2L134.5 155.0M134.6 156.2L136.1 154.3M149.6 150.3L151.1 164.5M136.2 156.4L137.7 153.6M151.2 151.3L152.7 165.5M152.8 151.6L154.3 165.9M154.4 151.4L155.9 166.1M156.0 151.3L157.5 165.7M157.6 151.1L159.1 165.1M159.2 150.9L160.7 164.6M147.3 157.1L148.8 145.5M160.8 150.7L162.3 164.0M148.9 158.3L150.4 146.6M162.4 150.4L163.9 163.3M164.0 150.1L165.5 162.5M165.6 149.6L167.1 161.3M167.2 148.9L168.7 160.1M194.3 163.8L194.6 163.7M192.9 163.2L194.4 162.6L195.9 161.7M173.5 153.8L175.0 155.7L176.5 157.5M191.5 162.4L193.0 161.7L194.5 161.1L196.0 160.3M163.9 145.6L163.5 145.1M167.0 145.1L166.2 144.2M167.0 145.1L168.5 147.0M194.0 154.9L195.5 153.4L197.0 151.7M170.1 144.7L169.0 143.3M170.1 144.7L171.6 146.7M188.1 147.4L189.6 153.3M197.1 155.2L198.6 153.4L200.1 151.7M173.2 144.4L171.7 142.5M173.2 144.4L174.7 146.1L176.2 147.7M177.7 149.0L179.2 145.8M189.7 148.0L191.2 155.3M200.2 155.1L201.7 153.5L203.2 151.9M176.3 144.2L177.8 146.0L179.3 147.4L180.8 145.0M203.3 154.6L204.8 153.0M179.4 144.2L180.9 145.8L182.4 144.0M192.9 147.8L194.4 154.1M204.9 155.1L206.4 153.4L207.9 151.9M194.5 147.5L196.0 153.1M206.5 155.4L208.0 153.8L209.5 152.2M196.1 147.2L197.6 152.0M209.6 154.0L211.1 152.5M197.7 146.9L199.2 151.0M211.2 154.2L212.7 152.6M199.3 146.6L200.8 150.1M212.8 154.2L214.3 152.6L215.8 151.1M200.9 146.3L202.4 149.2M214.4 154.2L215.9 152.6L217.4 150.9M202.5 146.2L204.0 148.4L205.5 150.9M216.0 154.0L217.5 152.2L219.0 150.4M204.1 145.8L205.6 147.6L207.1 149.5L208.6 150.3M214.6 152.2L216.1 152.2L217.6 151.9L219.1 151.5M205.7 145.3L207.2 146.7L208.7 148.1L210.2 148.9L211.7 149.5L213.2 150.0L214.7 150.4L216.2 150.5L217.7 150.4L219.2 150.1M208.8 145.7L210.3 146.8L211.8 147.5L213.3 148.1L214.8 148.6L216.3 148.8L217.8 148.8L219.3 148.7"/>
<path stroke="#307ffb" d="M56.5 138.0L56.9 138.4M58.0 138.9L59.6 140.9M59.5 139.9L61.1 141.9M59.4 138.8L61.0 140.8L62.6 142.8M60.9 139.7L62.5 141.8M62.4 140.7L64.0 142.7M63.9 141.7L65.5 143.4M65.4 142.4L67.0 143.9M65.3 141.4L66.9 142.8L68.5 144.3M68.4 143.2L70.0 144.8M69.9 143.6L71.5 145.2M71.4 144.0L73.0 145.3M72.9 144.0L74.5 145.2L76.1 146.4M74.4 143.8L76.0 145.0L77.6 146.1M77.5 144.7L79.1 145.9L80.7 146.9M79.0 144.4L80.6 145.4L82.2 146.5L83.8 147.7M82.1 144.9L83.7 146.0L85.3 147.6M85.2 145.9L86.8 147.7M86.7 146.0L88.3 148.3M88.2 146.7L89.8 148.8M89.7 147.4L91.3 149.8M91.2 148.4L92.8 150.8M91.1 147.1L92.7 149.7M92.6 148.4L94.2 150.9M94.1 149.8L95.7 152.3M94.0 148.7L95.6 151.4M95.5 150.4L97.1 152.9M95.4 149.4L97.0 152.1L98.6 154.4M96.9 151.2L98.5 153.7M98.4 153.0L100.0 154.9M98.3 152.3L99.9 154.3L101.5 155.6M99.8 153.7L101.4 155.1M99.7 153.1L101.3 154.6L102.9 156.0M101.2 154.1L102.8 155.6L104.4 157.0M174.8 142.2L175.3 141.6M104.3 154.8L105.9 156.2M176.3 144.2L177.9 142.4L178.8 141.3M105.8 154.0L107.4 157.8M179.4 144.2L181.0 142.5L182.4 140.9M107.3 156.0L108.9 157.5M182.5 144.3L184.1 142.8L185.7 140.9L186.0 140.5M152.0 147.7L153.6 148.6L155.2 149.4L156.8 150.1M180.8 145.0L182.4 144.0L184.0 143.2L185.6 142.3L187.2 141.4L188.8 140.1M199.5 142.1L201.1 142.5L202.7 142.3L204.3 141.9L205.9 141.2M197.8 143.5L199.4 143.8L201.0 144.0L202.6 144.1L204.2 143.8L205.8 143.2L207.4 142.5L209.0 141.4M186.5 145.9L188.1 147.4L189.7 148.0L191.3 148.1L192.9 147.8L194.5 147.5L196.1 147.2L197.7 146.9L199.3 146.6L200.9 146.3L202.5 146.2M204.1 145.8L205.7 145.3L207.3 144.5L208.9 143.6L210.5 142.5L212.1 141.5M186.4 146.9L188.0 151.4M208.8 145.7L210.4 144.6L212.0 143.5L213.6 142.4L215.2 141.5M133.5 160.0L132.2 160.1M133.5 160.0L135.1 159.9L136.7 159.8L138.3 159.6L139.9 159.6M211.9 145.5L213.5 144.3L215.1 143.3L216.7 142.3L218.3 141.4M175.0 155.7L176.6 145.7M213.4 146.2L215.0 145.0L216.6 143.9L218.2 142.9L219.8 142.0M176.5 157.5L178.1 146.6M190.9 145.2L192.5 155.7M214.9 146.8L216.5 145.5L218.1 144.3L219.7 143.3L221.3 142.4M178.0 159.3L179.6 147.5M192.4 144.2L194.0 154.9M216.4 147.2L218.0 145.8L219.6 144.6L221.2 143.6M179.5 160.2L181.1 147.9M217.9 147.3L219.5 146.0L221.1 144.8L222.7 143.7M181.0 161.0L182.6 148.2M217.8 148.8L219.4 147.3L221.0 146.0L222.6 144.7M182.5 161.9L184.1 148.6M198.5 150.1L200.1 151.7M219.3 148.7L220.9 147.2L222.5 145.8L224.1 144.6M184.0 162.7L185.6 148.9M201.6 150.2L203.2 151.9L204.8 153.0M219.2 150.1L220.8 148.4L222.4 146.9L224.0 145.5M185.5 163.5L187.1 149.3M204.7 150.4L206.3 151.5L207.9 151.9L209.5 152.2M220.7 149.6L222.3 148.0L223.9 146.4M187.0 164.3L188.6 149.6M209.4 150.4L211.0 150.8L212.6 151.0L214.2 151.1L215.8 151.1L217.4 150.9L219.0 150.4L220.6 149.9L222.2 149.1L223.8 147.4M188.5 163.7L190.1 149.9M215.7 149.7L217.3 149.5L218.9 149.2L220.5 148.8M190.0 163.0L191.6 149.2M195.9 161.7L197.5 159.3M197.4 160.6L197.1 161.0M197.4 160.6L199.0 158.3M98.3 152.3L99.8 153.7L101.3 154.6L102.8 155.6L104.3 154.8M60.9 139.7L62.4 140.7L63.9 141.7L65.4 142.4L66.9 142.8L68.4 143.2L69.9 143.6L71.4 144.0L72.9 144.0M96.9 151.2L98.4 153.0L99.9 154.3L101.4 155.1L102.9 156.0M104.4 157.0L105.9 156.2L107.4 157.8L108.9 157.5M56.5 138.0L56.2 137.8M56.5 138.0L58.0 138.9L59.5 139.9L61.0 140.8L62.5 141.8L64.0 142.7L65.5 143.4L67.0 143.9L68.5 144.3L70.0 144.8L71.5 145.2L73.0 145.3L74.5 145.2L76.0 145.0L77.5 144.7M95.5 150.4L97.0 152.1L98.5 153.7M59.6 140.9L59.0 140.5M76.1 146.4L77.6 146.1L79.1 145.9L80.6 145.4L82.1 144.9M92.6 148.4L94.1 149.8L95.6 151.4L97.1 152.9M80.7 146.9L82.2 146.5L83.7 146.0L85.2 145.9L86.7 146.0L88.2 146.7L89.7 147.4L91.2 148.4L92.7 149.7L94.2 150.9M85.3 147.6L86.8 147.7L88.3 148.3L89.8 148.8M133.5 160.0L134.0 160.6M135.1 159.9L136.3 161.1M136.7 159.8L138.2 161.2M146.4 148.3L147.9 162.3M148.0 149.3L149.5 163.4M144.1 155.1L145.6 143.4M145.7 155.9L147.2 144.4M168.8 147.9L170.3 158.3M170.4 146.5L171.9 156.0M195.9 161.7L197.4 160.6L197.7 160.4M196.0 160.3L197.5 159.3L199.0 158.3M161.6 151.9L163.1 140.8M163.2 152.5L164.7 141.4M164.8 152.3L166.3 142.0M166.4 151.3L167.9 142.2M168.0 150.3L169.5 141.8M169.6 149.8L171.1 142.0M171.2 149.2L172.7 142.2M172.8 148.6L174.3 142.3M174.4 148.0L175.9 142.4M176.0 147.3L177.5 142.4M186.5 145.9L188.0 151.4M197.0 151.7L198.5 150.1M177.6 146.6L179.1 142.3M200.1 151.7L201.6 150.2M179.2 145.8L180.7 142.3M203.2 151.9L204.7 150.4M174.8 142.2L174.5 141.7M174.8 142.2L176.3 144.2M180.8 145.0L182.3 142.1M189.8 142.1L191.3 148.1M204.8 153.0L206.3 151.5L207.8 150.0M177.9 142.4L177.2 141.4M177.9 142.4L179.4 144.2M182.4 144.0L183.9 141.8M191.4 142.3L192.9 147.8M207.9 151.9L209.4 150.4M181.0 142.5L180.0 141.2M181.0 142.5L182.5 144.3L184.0 143.2L185.5 141.5M193.0 142.6L194.5 147.5M209.5 152.2L211.0 150.8L212.5 149.4M184.1 142.8L182.7 140.9M184.1 142.8L185.6 142.3L187.1 141.3M194.6 142.9L196.1 147.2M211.1 152.5L212.6 151.0L214.1 149.6M185.7 140.9L185.5 140.6M185.7 140.9L187.2 141.4L188.7 141.0M196.2 143.2L197.7 146.9M212.7 152.6L214.2 151.1L215.7 149.7M197.8 143.5L199.3 146.6M215.8 151.1L217.3 149.5M199.4 143.8L200.9 146.3M217.4 150.9L218.9 149.2M199.5 142.1L201.0 144.0L202.5 146.2M219.0 150.4L220.5 148.8M199.6 140.9L201.1 142.5L202.6 144.1L204.1 145.8M219.1 151.5L220.6 149.9L222.1 148.3M201.2 140.8L202.7 142.3L204.2 143.8L205.7 145.3M219.2 150.1L220.7 149.6L222.2 149.1L223.7 147.6M202.8 140.4L204.3 141.9L205.8 143.2L207.3 144.5L208.8 145.7M219.3 148.7L220.8 148.4L222.3 148.0L223.8 147.4M205.9 141.2L207.4 142.5L208.9 143.6L210.4 144.6L211.9 145.5L213.4 146.2L214.9 146.8L216.4 147.2L217.9 147.3L219.4 147.3L220.9 147.2L222.4 146.9L223.9 146.4M209.0 141.4L210.5 142.5L212.0 143.5L213.5 144.3L215.0 145.0L216.5 145.5L218.0 145.8L219.5 146.0L221.0 146.0L222.5 145.8L224.0 145.5M212.1 141.5L213.6 142.4L215.1 143.3L216.6 143.9L218.1 144.3L219.6 144.6L221.1 144.8L222.6 144.7M215.2 141.5L216.7 142.3L218.2 142.9L219.7 143.3L221.2 143.6L222.7 143.7"/>
<path stroke="#2d87f6" d="M56.5 138.0L55.5 136.7M58.0 138.9L56.6 137.1M57.9 137.8L57.7 137.5M57.9 137.8L59.5 139.9M59.4 138.8L58.7 137.9M60.9 139.7L59.8 138.3M62.4 140.7L60.8 138.7M62.3 139.6L61.9 139.1M62.3 139.6L63.9 141.7M63.8 140.6L63.0 139.5M63.8 140.6L65.4 142.4M65.3 141.4L64.0 139.9M65.2 140.4L65.1 140.3M65.2 140.4L66.8 141.7L68.4 143.2M66.7 140.6L68.3 142.0L69.9 143.6M68.2 140.9L69.8 142.4L71.4 144.0M69.7 141.2L71.3 142.8L72.9 144.0M71.2 141.6L72.8 142.8L74.4 143.8M74.3 142.5L75.9 143.6L77.5 144.7M75.8 142.2L77.4 143.2L79.0 144.4M78.9 142.9L80.5 143.8L82.1 144.9M82.0 143.3L83.6 144.4L85.2 145.9M83.5 142.7L85.1 144.3L86.7 146.0M86.6 144.3L88.2 146.7M88.1 145.1L89.7 147.4M88.0 143.5L89.6 145.9L91.2 148.4M89.5 144.4L91.1 147.1M91.0 145.7L92.6 148.4M92.5 147.2L94.1 149.8M92.4 146.0L94.0 148.7M93.9 147.6L95.5 150.4M93.8 146.5L95.4 149.4M95.3 148.4L96.9 151.2M96.8 150.4L98.4 153.0M96.7 149.5L98.3 152.3M98.2 151.6L99.8 153.7M98.1 150.8L99.7 153.1M99.6 152.5L101.2 154.1M101.1 151.9L102.7 153.4L104.3 154.8M104.2 152.6L105.8 154.0M105.7 151.8L107.3 156.0M148.8 145.5L150.4 146.6L152.0 147.7M188.8 140.1L189.6 139.5M169.5 141.8L171.1 142.0L172.7 142.2L174.3 142.3L175.9 142.4L177.5 142.4L179.1 142.3L180.7 142.3L182.3 142.1L183.9 141.8L185.5 141.5L187.1 141.3L188.7 141.0L190.3 140.6L191.9 140.1L193.2 139.4M187.0 139.5L188.6 139.7L190.2 140.0L191.8 140.4L193.4 140.5L195.0 140.2L196.6 139.5L196.8 139.4M191.7 138.7L193.3 139.5L194.9 140.3L196.5 140.6L198.1 140.4L199.7 139.9L200.4 139.6M196.4 139.5L198.0 140.5L199.6 140.9L201.2 140.8L202.8 140.4L204.0 140.0M194.7 139.9L196.3 140.7L197.9 141.5L199.5 142.1M205.9 141.2L207.5 140.1M189.8 142.1L191.4 142.3L193.0 142.6L194.6 142.9L196.2 143.2L197.8 143.5M209.0 141.4L210.6 140.4L211.1 140.1M184.9 144.3L186.5 145.9M212.1 141.5L213.7 140.6L214.7 140.1M151.2 151.3L152.8 151.6L154.4 151.4L156.0 151.3L157.6 151.1L159.2 150.9L160.8 150.7L162.4 150.4L164.0 150.1L165.6 149.6L167.2 148.9L168.8 147.9L170.4 146.5M215.2 141.5L216.8 140.7L218.3 140.1M173.5 153.8L175.1 144.8M218.3 141.4L219.9 140.7L221.5 140.2L221.9 140.1M219.8 142.0L221.4 141.3L223.0 140.7L224.6 140.3L225.5 140.1M221.3 142.4L222.9 141.7L224.5 141.1L226.1 140.6L227.7 140.3L229.1 140.1M221.2 143.6L222.8 142.7L224.4 141.9L226.0 141.3L227.6 140.9L229.2 140.6L230.8 140.3L232.4 140.1L232.7 140.0M193.9 142.9L195.5 153.4M222.7 143.7L224.3 142.8L225.9 142.1L227.5 141.5L229.1 141.1L230.7 140.9L232.3 140.6L233.9 139.6L235.5 138.5L236.2 138.7M195.4 141.6L197.0 151.7M222.6 144.7L224.2 143.7L225.8 142.8L227.4 142.1L229.0 141.7L230.6 141.4L232.2 141.1L233.8 139.4M224.1 144.6L225.7 143.6L227.3 142.8L228.9 142.3L230.5 142.0L232.1 141.7M200.0 148.6L201.6 150.2M224.0 145.5L225.6 144.3L227.2 143.4L228.8 142.9L230.4 142.5L232.0 142.2M201.5 148.4L203.1 148.9L204.7 150.4M223.9 146.4L225.5 145.1L227.1 144.1L228.7 143.4L230.3 143.1L231.9 142.6M203.0 148.6L204.6 148.0L206.2 149.0L207.8 150.0L209.4 150.4M223.8 147.4L225.4 145.9L227.0 144.8L228.6 144.0L230.2 143.7M207.7 147.7L209.3 148.6L210.9 149.0L212.5 149.4L214.1 149.6L215.7 149.7M220.5 148.8L222.1 148.3L223.7 147.6L225.3 146.7L226.9 145.5L228.5 144.6L230.1 143.8M212.4 147.7L214.0 148.0L215.6 148.2L217.2 148.2L218.8 147.9L220.4 147.6L222.0 147.2L223.6 146.7L225.2 146.1L226.8 145.7L228.4 144.9M191.5 162.4L193.1 148.5M193.0 161.7L194.6 147.9M194.5 161.1L196.1 147.0M200.5 157.3L200.1 157.9M98.1 150.8L99.6 152.5L101.1 151.9M65.2 140.4L64.8 140.2M65.2 140.4L66.7 140.6L68.2 140.9M96.7 149.5L98.2 151.6L99.7 153.1L101.2 154.1L102.7 153.4L104.2 152.6M62.3 139.6L61.0 138.8M62.3 139.6L63.8 140.6L65.3 141.4L66.8 141.7L68.3 142.0L69.8 142.4L71.3 142.8L72.8 142.8L74.3 142.5L75.8 142.2M95.3 148.4L96.8 150.4L98.3 152.3M104.3 154.8L105.8 154.0L107.3 156.0M57.9 137.8L57.1 137.3M57.9 137.8L59.4 138.8L60.9 139.7M72.9 144.0L74.4 143.8L75.9 143.6L77.4 143.2L78.9 142.9M93.9 147.6L95.4 149.4L96.9 151.2M77.5 144.7L79.0 144.4L80.5 143.8L82.0 143.3L83.5 142.7M91.0 145.7L92.5 147.2L94.0 148.7L95.5 150.4M110.5 158.9L112.0 145.2M82.1 144.9L83.6 144.4L85.1 144.3L86.6 144.3L88.1 145.1L89.6 145.9L91.1 147.1L92.6 148.4M112.1 160.2L113.6 145.6M113.7 160.5L115.2 145.6M115.3 160.3L116.8 145.5M116.9 160.0L118.4 145.4M118.5 159.8L120.0 145.2M120.1 159.5L121.6 145.0M121.7 159.2L123.2 144.4M123.3 158.9L124.8 144.4M124.9 158.7L126.4 144.7M126.5 158.3L128.0 144.5M140.0 146.3L141.5 159.8M128.1 157.7L129.6 144.3M141.6 146.7L143.1 160.0M129.7 157.1L131.2 144.0M143.2 147.1L144.7 160.2M131.3 156.4L132.8 143.7M144.8 147.4L146.3 161.2M132.9 155.7L134.4 143.4M134.5 155.0L136.0 143.0M136.1 154.3L137.6 142.7M137.7 153.6L139.2 142.4M139.3 153.9L140.8 142.1M140.9 154.2L142.4 142.1M142.5 154.7L144.0 142.6M156.8 150.1L158.3 138.9M158.4 150.6L159.9 139.5M160.0 151.2L161.5 140.1M172.0 145.2L173.5 153.8M199.0 158.3L200.5 157.3L201.5 156.8M184.9 144.3L186.4 146.9L187.9 146.5L189.4 145.9L190.9 145.2M185.0 140.0L186.5 145.9M198.5 150.1L200.0 148.6L201.5 148.4L203.0 148.6L204.5 148.8M186.6 140.8L188.1 147.4M201.6 150.2L203.1 148.9L204.6 148.0M180.7 142.3L182.2 138.5M188.2 141.6L189.7 148.0M204.7 150.4L206.2 149.0L207.7 147.7M182.3 142.1L183.8 138.9M207.8 150.0L209.3 148.6M183.9 141.8L185.4 139.2M209.4 150.4L210.9 149.0L212.4 147.7M185.5 141.5L187.0 139.5M212.5 149.4L214.0 148.0M187.1 141.3L188.6 139.7M193.1 139.2L194.6 142.9M214.1 149.6L215.6 148.2M188.7 141.0L190.2 140.0L191.7 138.7M194.7 139.9L196.2 143.2M215.7 149.7L217.2 148.2L218.7 146.7M188.8 140.1L188.2 139.8M188.8 140.1L190.3 140.6L191.8 140.4L193.3 139.5M194.8 138.3L196.3 140.7L197.8 143.5M217.3 149.5L218.8 147.9L220.3 146.4M191.9 140.1L191.0 139.5M191.9 140.1L193.4 140.5L194.9 140.3L196.4 139.5L197.9 141.5L199.4 143.8M218.9 149.2L220.4 147.6L221.9 146.1M195.0 140.2L193.7 139.4M195.0 140.2L196.5 140.6L198.0 140.5L199.5 142.1M220.5 148.8L222.0 147.2L223.5 145.7M196.6 139.5L196.5 139.4M196.6 139.5L198.1 140.4L199.6 140.9M222.1 148.3L223.6 146.7M199.7 139.9L199.2 139.5M199.7 139.9L201.2 140.8M223.7 147.6L225.2 146.1M202.8 140.4L202.0 139.7M223.8 147.4L225.3 146.7L226.8 145.7M205.9 141.2L204.7 140.1M223.9 146.4L225.4 145.9L226.9 145.5L228.4 144.9M207.5 140.1L209.0 141.4M224.0 145.5L225.5 145.1L227.0 144.8L228.5 144.6M210.6 140.4L210.2 140.1M210.6 140.4L212.1 141.5M222.6 144.7L224.1 144.6L225.6 144.3L227.1 144.1L228.6 144.0L230.1 143.8M213.7 140.6L213.0 140.1M213.7 140.6L215.2 141.5M222.7 143.7L224.2 143.7L225.7 143.6L227.2 143.4L228.7 143.4L230.2 143.7M216.8 140.7L215.7 140.1M216.8 140.7L218.3 141.4L219.8 142.0L221.3 142.4L222.8 142.7L224.3 142.8L225.8 142.8L227.3 142.8L228.8 142.9L230.3 143.1M219.9 140.7L218.5 140.1M219.9 140.7L221.4 141.3L222.9 141.7L224.4 141.9L225.9 142.1L227.4 142.1L228.9 142.3L230.4 142.5L231.9 142.6M221.5 140.2L221.2 140.1M221.5 140.2L223.0 140.7L224.5 141.1L226.0 141.3L227.5 141.5L229.0 141.7L230.5 142.0L232.0 142.2M224.6 140.3L224.0 140.1M224.6 140.3L226.1 140.6L227.6 140.9L229.1 141.1L230.6 141.4L232.1 141.7M227.7 140.3L226.7 140.1M227.7 140.3L229.2 140.6L230.7 140.9L232.2 141.1L233.7 138.9M230.8 140.3L229.5 140.1M230.8 140.3L232.3 140.6L233.8 139.4M232.4 140.1L232.2 140.0M232.4 140.1L233.9 139.6M235.5 138.5L235.0 138.8"/>
<path stroke="#2c90f0" d="M66.7 140.6L66.1 140.2M68.2 140.9L67.2 140.0M69.7 141.2L68.3 139.9M69.6 140.1L69.3 139.8M69.6 140.1L71.2 141.6M71.1 140.4L70.4 139.7M71.1 140.4L72.7 141.5L74.3 142.5M72.6 140.3L74.2 141.2L75.8 142.2M75.7 140.8L77.3 141.8L78.9 142.9M77.2 140.3L78.8 141.4L80.4 142.3L82.0 143.3M80.3 140.8L81.9 141.7L83.5 142.7M83.4 141.1L85.0 142.6L86.6 144.3M84.9 140.9L86.5 142.7L88.1 145.1M86.4 141.0L88.0 143.5M87.9 141.8L89.5 144.4M89.4 142.8L91.0 145.7M90.9 144.3L92.5 147.2M90.8 142.8L92.4 146.0M92.3 144.7L93.9 147.6M93.7 145.4L95.3 148.4M95.2 147.4L96.8 150.4M95.1 146.4L96.7 149.5M96.6 148.6L98.2 151.6M96.5 147.7L98.1 150.8M98.0 150.0L99.6 152.5M99.5 150.4L101.1 151.9M101.0 149.7L102.6 151.2L104.2 152.6M104.1 150.4L105.7 151.8M144.0 142.6L145.6 143.4L147.2 144.4L148.8 145.5M161.5 140.1L163.1 140.8L164.7 141.4L166.3 142.0L167.9 142.2L169.5 141.8M179.0 137.5L180.6 138.0L182.2 138.5L183.8 138.9L185.4 139.2L187.0 139.5M188.5 137.2L190.1 137.9L191.7 138.7M193.2 137.1L194.8 138.3L196.4 139.5M189.9 137.6L191.5 138.4L193.1 139.2L194.7 139.9M185.0 140.0L186.6 140.8L188.2 141.6L189.8 142.1M183.3 138.6L184.9 144.3M146.4 148.3L148.0 149.3L149.6 150.3L151.2 151.3M170.4 146.5L172.0 145.2L173.6 144.0M184.8 138.1L186.4 146.9M186.3 137.4L187.9 146.5M233.8 139.4L235.4 137.7L237.0 138.0L237.8 138.9M196.9 140.2L198.5 150.1M232.1 141.7L233.7 138.9L235.3 136.6M232.0 142.2L233.6 138.1M231.9 142.6L233.5 136.5M230.2 143.7L231.8 141.3M204.5 148.8L206.1 148.2L207.7 147.7M230.1 143.8L231.7 139.1M206.0 149.0L207.6 148.4L209.2 147.7L210.8 147.3L212.4 147.7M228.4 144.9L230.0 143.0M207.5 149.0L209.1 148.5L210.7 147.8L212.3 146.6L213.9 146.5L215.5 146.7L217.1 146.8L218.7 146.7L220.3 146.4L221.9 146.1L223.5 145.7L225.1 145.2L226.7 144.8L228.3 144.2L229.9 142.2M209.0 149.1L210.6 148.6L212.2 147.9L213.8 146.8M218.6 145.4L220.2 145.3L221.8 145.0L223.4 144.7L225.0 144.3L226.6 144.0L228.2 143.5M210.5 149.1L212.1 148.6L213.7 148.0L215.3 146.8M196.0 160.3L197.6 146.1M212.0 149.1L213.6 148.6L215.2 148.0L216.8 146.7M197.5 159.3L199.1 145.2M213.5 149.0L215.1 148.5L216.7 147.8M96.5 147.7L98.0 150.0L99.5 150.4L101.0 149.7M69.6 140.1L68.7 139.9M69.6 140.1L71.1 140.4L72.6 140.3M95.1 146.4L96.6 148.6L98.1 150.8M101.1 151.9L102.6 151.2L104.1 150.4M68.2 140.9L69.7 141.2L71.2 141.6L72.7 141.5L74.2 141.2L75.7 140.8L77.2 140.3M93.7 145.4L95.2 147.4L96.7 149.5M104.2 152.6L105.7 151.8M75.8 142.2L77.3 141.8L78.8 141.4L80.3 140.8M92.3 144.7L93.8 146.5L95.3 148.4M78.9 142.9L80.4 142.3L81.9 141.7L83.4 141.1M89.4 142.8L90.9 144.3L92.4 146.0L93.9 147.6M108.9 157.5L110.4 144.1M83.5 142.7L85.0 142.6L86.5 142.7L88.0 143.5L89.5 144.4L91.0 145.7M130.4 146.2L131.8 158.8M132.0 146.1L133.5 160.0M133.6 146.0L135.1 159.9M135.2 145.6L136.7 159.8M136.8 145.6L138.3 159.6M138.4 146.1L139.9 159.6M152.0 147.7L153.5 136.7M153.6 148.6L155.1 137.5M155.2 149.4L156.7 138.3M173.6 144.0L175.1 144.8L176.6 145.7L178.1 146.6L179.6 147.5L181.1 147.9L182.6 148.2L184.1 148.6L185.6 148.9L187.1 149.3L188.6 149.6L190.1 149.9L191.6 149.2M172.7 142.2L174.2 135.7M174.3 142.3L175.8 136.4M175.9 142.4L177.4 136.9M183.4 138.7L184.9 144.3M190.9 145.2L192.4 144.2L193.9 142.9M177.5 142.4L179.0 137.5M204.5 148.8L206.0 149.0L207.5 149.0L209.0 149.1L210.5 149.1L212.0 149.1L213.5 149.0L215.0 148.9M179.1 142.3L180.6 138.0M204.6 148.0L206.1 148.2L207.6 148.4L209.1 148.5L210.6 148.6L212.1 148.6L213.6 148.6L215.1 148.5M207.7 147.7L209.2 147.7L210.7 147.8L212.2 147.9L213.7 148.0L215.2 148.0L216.7 147.8M183.8 138.9L185.3 135.6M188.3 136.8L189.8 142.1M209.3 148.6L210.8 147.3L212.3 146.6L213.8 146.8L215.3 146.8M185.4 139.2L186.9 136.4M189.9 137.6L191.4 142.3M212.4 147.7L213.9 146.5L215.4 145.3M187.0 139.5L188.5 137.2M191.5 138.4L193.0 142.6M214.0 148.0L215.5 146.7L217.0 145.4M188.6 139.7L190.1 137.9L191.6 135.9L193.1 139.2M215.6 148.2L217.1 146.8L218.6 145.4M191.7 138.7L193.2 137.1L194.7 139.9M218.7 146.7L220.2 145.3M193.3 139.5L194.8 138.3M220.3 146.4L221.8 145.0M221.9 146.1L223.4 144.7M223.5 145.7L225.0 144.3M223.6 146.7L225.1 145.2L226.6 144.0M225.2 146.1L226.7 144.8L228.2 143.5M226.8 145.7L228.3 144.2M228.4 144.9L229.9 142.2M228.5 144.6L230.0 143.0M230.2 143.7L231.7 139.1M230.3 143.1L231.8 141.3M232.0 142.2L233.5 136.5M232.1 141.7L233.6 138.1M233.8 139.4L235.3 136.6M233.9 139.6L235.4 137.7L236.9 136.0M235.5 138.5L237.0 138.0L237.6 138.0"/>
<path stroke="#2798ea" d="M72.6 140.3L71.4 139.6M74.1 139.8L72.5 139.1M74.1 139.8L75.7 140.8M74.0 138.5L73.6 138.4M74.0 138.5L75.6 139.4L77.2 140.3M77.1 138.9L78.7 139.9L80.3 140.8M78.6 138.5L80.2 139.3L81.8 140.1L83.4 141.1M81.7 138.5L83.3 139.5L84.9 140.9M84.8 139.2L86.4 141.0M86.3 139.3L87.9 141.8M87.8 140.1L89.4 142.8M89.3 141.3L90.9 144.3M89.2 139.7L90.8 142.8M90.7 141.4L92.3 144.7M92.2 143.4L93.8 146.5M92.1 142.1L93.7 145.4M93.6 144.2L95.2 147.4M93.5 143.0L95.1 146.4M95.0 145.4L96.6 148.6M94.9 144.3L96.5 147.7M96.4 146.8L98.0 150.0M97.9 147.8L99.5 150.4M99.4 148.2L101.0 149.7M100.9 147.7L102.5 149.1L104.1 150.4M115.2 145.6L116.8 145.5L118.4 145.4L120.0 145.2L121.6 145.0L123.2 144.4L124.8 144.4L126.4 144.7L128.0 144.5L129.6 144.3L131.2 144.0L132.8 143.7L134.4 143.4L136.0 143.0L137.6 142.7L139.2 142.4L140.8 142.1L142.4 142.1L144.0 142.6M156.7 138.3L158.3 138.9L159.9 139.5L161.5 140.1M174.2 135.7L175.8 136.4L177.4 136.9L179.0 137.5M183.7 134.8L185.3 135.6L186.9 136.4L188.5 137.2M190.0 134.7L191.6 135.9L193.2 137.1M186.7 136.0L188.3 136.8L189.9 137.6M181.8 137.3L183.4 138.7L185.0 140.0M141.6 146.7L143.2 147.1L144.8 147.4L146.4 148.3M173.6 144.0L175.2 137.2M176.6 145.7L178.2 136.6M187.8 136.6L189.4 145.9M178.1 146.6L179.7 136.7M189.3 135.6L190.9 145.2M179.6 147.5L181.2 136.9M235.3 136.6L236.9 136.0L237.4 136.8M198.4 139.8L200.0 148.6M233.6 138.1L235.2 134.7L236.8 134.6L237.1 134.7M199.9 139.9L201.5 148.4M201.4 139.8L203.0 148.6M231.8 141.3L233.4 134.3M202.9 139.7L204.5 148.8M204.4 139.6L206.0 149.0M230.0 143.0L231.6 136.9M205.9 139.4L207.5 149.0M213.8 146.8L215.4 145.3L217.0 145.4L218.6 145.4M228.2 143.5L229.8 141.4M215.3 146.8L216.9 145.2L218.5 144.1L220.1 144.1L221.7 143.9L223.3 143.7L224.9 143.3L226.5 143.1L228.1 142.8L229.7 140.0M216.8 146.7L218.4 145.0L220.0 143.5M226.4 142.3L228.0 142.1M216.7 147.8L218.3 146.5L219.9 144.8M199.0 158.3L200.6 144.3M215.0 148.9L216.6 148.3L218.2 147.5L219.8 146.2L221.4 144.5M200.5 157.3L202.1 143.5M216.5 148.7L218.1 148.0L219.7 147.1L221.3 145.8M218.0 148.3L219.6 147.5L221.2 146.7M219.5 147.8L221.1 147.1M96.4 146.8L97.9 147.8L99.4 148.2L100.9 147.7M74.0 138.5L72.5 139.1M95.0 145.4L96.5 147.7M101.0 149.7L102.5 149.1M72.6 140.3L74.1 139.8L75.6 139.4L77.1 138.9L78.6 138.5M93.6 144.2L95.1 146.4M77.2 140.3L78.7 139.9L80.2 139.3L81.7 138.5M90.7 141.4L92.2 143.4L93.7 145.4M80.3 140.8L81.8 140.1L83.3 139.5L84.8 139.2M87.8 140.1L89.3 141.3L90.8 142.8L92.3 144.7M107.3 156.0L108.8 142.7M83.4 141.1L84.9 140.9L86.4 141.0L87.9 141.8L89.4 142.8M128.8 146.3L129.5 153.1M151.3 137.7L152.8 151.6M152.9 138.1L154.4 151.4M154.5 138.2L156.0 151.3M156.1 138.4L157.6 151.1M157.7 138.5L159.2 150.9M148.8 145.5L150.3 134.9M159.3 138.6L160.8 150.7M150.4 146.6L151.9 135.8M160.9 138.7L162.4 150.4M162.5 138.8L164.0 150.1M164.1 138.8L165.6 149.6M165.7 138.7L167.2 148.9M167.3 138.3L168.8 147.9M168.9 137.7L170.4 146.5M170.5 137.4L172.0 145.2M172.1 137.9L173.6 144.0M191.6 149.2L193.1 148.5L194.6 147.9L196.1 147.0M166.3 142.0L167.8 133.0M167.9 142.2L169.4 133.7M169.5 141.8L171.0 134.3M171.1 142.0L172.6 135.0M181.8 137.3L183.3 138.6L184.8 138.1M193.9 142.9L195.4 141.6M179.0 137.5L180.5 132.9M183.5 134.0L185.0 140.0M215.0 148.9L216.5 148.7L218.0 148.3L219.5 147.8M180.6 138.0L182.1 133.9M185.1 135.0L186.6 140.8M215.1 148.5L216.6 148.3L218.1 148.0L219.6 147.5L221.1 147.1M182.2 138.5L183.7 134.8M186.7 136.0L188.2 141.6M216.7 147.8L218.2 147.5L219.7 147.1L221.2 146.7M215.3 146.8L216.8 146.7L218.3 146.5L219.8 146.2L221.3 145.8M186.9 136.4L188.4 133.6L189.9 137.6M215.4 145.3L216.9 145.2L218.4 145.0L219.9 144.8L221.4 144.5M188.5 137.2L190.0 134.7L191.5 138.4M217.0 145.4L218.5 144.1L220.0 143.5M218.6 145.4L220.1 144.1L221.6 142.8M220.2 145.3L221.7 143.9L223.2 142.7M221.8 145.0L223.3 143.7L224.8 142.4M223.4 144.7L224.9 143.3L226.4 142.3M225.0 144.3L226.5 143.1L228.0 142.1M226.6 144.0L228.1 142.8M228.2 143.5L229.7 140.0M228.3 144.2L229.8 141.4M230.1 143.8L231.6 136.9M231.9 142.6L233.4 134.3M233.6 138.1L235.1 132.5M233.7 138.9L235.2 134.7M235.3 136.6L236.8 134.6L237.0 134.4M236.9 136.0L237.3 136.2"/>
<path stroke="#249fe5" d="M75.5 138.0L74.6 137.6M75.5 138.0L77.1 138.9M77.0 137.5L75.7 136.8M77.0 137.5L78.6 138.5M78.5 137.0L80.1 137.8L81.7 138.5M81.6 137.0L83.2 137.8L84.8 139.2M84.7 137.5L86.3 139.3M86.2 137.6L87.8 140.1M87.7 138.4L89.3 141.3M89.1 138.2L90.7 141.4M90.6 139.9L92.2 143.4M90.5 138.4L92.1 142.1M92.0 140.7L93.6 144.2M93.4 141.8L95.0 145.4M94.8 143.2L96.4 146.8M96.3 144.7L97.9 147.8M97.8 145.7L99.4 148.2M97.7 143.7L99.3 146.2L100.9 147.7M110.4 144.1L112.0 145.2L113.6 145.6L115.2 145.6M151.9 135.8L153.5 136.7L155.1 137.5L156.7 138.3M169.4 133.7L171.0 134.3L172.6 135.0L174.2 135.7M178.9 131.9L180.5 132.9L182.1 133.9L183.7 134.8M186.8 132.3L188.4 133.6L190.0 134.7M181.9 132.9L183.5 134.0L185.1 135.0L186.7 136.0M180.2 131.8L181.8 137.3M162.5 138.8L164.1 138.8L165.7 138.7L167.3 138.3L168.9 137.7L170.5 137.4L172.1 137.9L173.7 137.9M181.7 131.0L183.3 138.6M127.2 146.3L126.2 146.4M127.2 146.3L128.8 146.3L130.4 146.2L132.0 146.1L133.6 146.0L135.2 145.6L136.8 145.6L138.4 146.1L140.0 146.3L141.6 146.7M175.1 144.8L176.7 136.4M190.8 134.6L192.4 144.2M181.1 147.9L182.7 136.8M192.3 133.4L193.9 142.9M182.6 148.2L184.2 136.7M184.1 148.6L185.7 136.6M185.6 148.9L187.2 136.5M187.1 149.3L188.7 136.4M233.5 136.5L235.1 132.5L236.7 132.6M188.6 149.6L190.2 136.3M190.1 149.9L191.7 136.2M231.7 139.1L233.3 132.0M229.9 142.2L231.5 134.5M207.4 139.3L209.0 149.1M208.9 139.1L210.5 149.1M210.4 138.8L212.0 149.1M220.0 143.5L221.6 142.8L223.2 142.7L224.8 142.4L226.4 142.3M228.0 142.1L229.6 137.5M211.9 138.6L213.5 149.0M219.9 144.8L221.5 143.2L223.1 141.8L224.7 141.5L226.3 141.4L227.9 141.3M213.4 138.3L215.0 148.9M221.4 144.5L223.0 143.0L224.6 141.5L226.2 140.5M221.3 145.8L222.9 144.2L224.5 142.6L226.1 141.3M203.6 142.7L202.2 154.4M221.2 146.7L222.8 145.4L224.4 143.7L226.0 142.3M221.1 147.1L222.7 146.2L224.3 144.9L225.9 143.4M221.0 147.3L222.6 146.5L224.2 145.6L225.8 144.4M222.5 146.8L224.1 146.0L225.7 145.1M224.0 146.2L225.6 145.4M94.8 143.2L96.3 144.7L97.8 145.7L99.3 146.2M93.4 141.8L94.9 144.3L96.4 146.8M74.0 138.5L75.5 138.0L77.0 137.5L78.5 137.0M92.0 140.7L93.5 143.0L95.0 145.4M78.6 138.5L80.1 137.8L81.6 137.0M90.6 139.9L92.1 142.1L93.6 144.2M104.1 150.4L105.6 137.8M81.7 138.5L83.2 137.8L84.7 137.5L86.2 137.6L87.7 138.4L89.2 139.7L90.7 141.4M105.7 151.8L107.2 141.3M84.8 139.2L86.3 139.3L87.8 140.1M127.2 146.3L127.5 149.0M146.5 136.1L148.0 149.3M148.1 136.7L149.6 150.3M149.7 137.2L151.2 151.3M144.0 142.6L145.5 132.2M145.6 143.4L147.1 132.9M147.2 144.4L148.7 133.9M161.5 140.1L163.0 130.7M163.1 140.8L164.6 131.5M196.1 147.0L197.6 146.1L199.1 145.2M164.7 141.4L166.2 132.3M173.7 137.9L175.2 137.2M175.8 136.4L177.3 131.0M180.3 131.8L181.8 137.3M184.8 138.1L186.3 137.4L187.8 136.6M177.4 136.9L178.9 131.9M181.9 132.9L183.4 138.7M195.4 141.6L196.9 140.2L198.4 139.8L199.9 139.9L201.4 139.8L202.9 139.7M219.5 147.8L221.0 147.3L222.5 146.8L224.0 146.2M221.1 147.1L222.6 146.5L224.1 146.0L225.6 145.4M183.7 134.8L185.2 131.2L186.7 136.0M221.2 146.7L222.7 146.2L224.2 145.6L225.7 145.1M185.3 135.6L186.8 132.3L188.3 136.8M221.3 145.8L222.8 145.4L224.3 144.9L225.8 144.4M221.4 144.5L222.9 144.2L224.4 143.7L225.9 143.4M220.0 143.5L221.5 143.2L223.0 143.0L224.5 142.6L226.0 142.3M221.6 142.8L223.1 141.8L224.6 141.5L226.1 141.3M223.2 142.7L224.7 141.5L226.2 140.5M224.8 142.4L226.3 141.4L227.8 140.5M226.4 142.3L227.9 141.3M228.1 142.8L229.6 137.5M229.9 142.2L231.4 132.1M230.0 143.0L231.5 134.5M231.8 141.3L233.3 132.0M233.5 136.5L235.0 131.0M235.2 134.7L236.7 132.6"/>
<path stroke="#1ea7e1" d="M76.9 136.1L76.7 136.0M76.9 136.1L78.5 137.0M78.4 135.5L77.8 135.2M78.4 135.5L80.0 136.3L81.6 137.0M79.9 134.8L81.5 135.4L83.1 136.2L84.7 137.5M83.0 134.6L84.6 135.8L86.2 137.6M86.1 136.0L87.7 138.4M87.6 136.7L89.2 139.7M87.5 135.0L89.1 138.2M89.0 136.6L90.6 139.9M90.4 136.9L92.0 140.7M91.9 139.4L93.5 143.0M91.8 138.0L93.4 141.8M93.3 140.6L94.9 144.3M93.2 139.3L94.8 143.2M94.7 141.2L96.3 144.7M96.2 142.6L97.8 145.7M96.1 141.1L97.7 143.7M107.2 141.3L108.8 142.7L110.4 144.1M148.7 133.9L150.3 134.9L151.9 135.8M164.6 131.5L166.2 132.3L167.8 133.0L169.4 133.7M175.7 130.0L177.3 131.0L178.9 131.9M183.6 129.9L185.2 131.2L186.8 132.3M178.7 130.5L180.3 131.8L181.9 132.9M151.3 137.7L152.9 138.1L154.5 138.2L156.1 138.4L157.7 138.5L159.3 138.6L160.9 138.7L162.5 138.8M173.7 137.9L175.3 131.3M183.2 130.2L184.8 138.1M184.7 129.2L186.3 137.4M193.8 132.2L195.4 141.6M195.3 131.6L196.9 140.2M233.4 134.3L235.0 131.0L236.3 130.4M191.6 149.2L193.2 136.1M231.6 136.9L233.2 129.9M193.1 148.5L194.7 135.4M194.6 147.9L196.2 134.5M229.8 141.4L231.4 132.1M229.7 140.0L231.3 130.5M227.9 141.3L229.5 135.2M226.2 140.5L227.8 140.5M214.9 138.0L216.5 148.7M226.1 141.3L227.7 140.2M216.4 137.7L218.0 148.3M226.0 142.3L227.6 141.1M205.1 141.9L204.4 148.0M217.9 137.1L219.5 147.8M225.9 143.4L227.5 140.6M225.8 144.4L227.4 138.9M94.7 141.2L96.2 142.6L97.7 143.7M93.3 140.6L94.8 143.2M76.9 136.1L76.4 136.3M76.9 136.1L78.4 135.5L79.9 134.8M91.9 139.4L93.4 141.8M78.5 137.0L80.0 136.3L81.5 135.4L83.0 134.6M89.0 136.6L90.5 138.4L92.0 140.7M102.5 149.1L104.0 136.7M81.6 137.0L83.1 136.2L84.6 135.8L86.1 136.0L87.6 136.7L89.1 138.2L90.6 139.9M126.4 144.7L127.9 131.4M128.0 144.5L129.5 131.5M129.6 144.3L131.1 131.7M140.1 133.9L141.6 146.7M131.2 144.0L132.7 131.7M141.7 134.3L143.2 147.1M132.8 143.7L134.3 131.7M143.3 134.8L144.8 147.4M134.4 143.4L135.9 131.7M144.9 135.3L146.4 148.3M136.0 143.0L137.5 131.7M137.6 142.7L139.1 131.8M139.2 142.4L140.7 131.8M140.8 142.1L142.3 131.9M142.4 142.1L143.9 132.0M156.7 138.3L158.2 128.5M158.3 138.9L159.8 129.3M159.9 139.5L161.4 129.9M169.0 130.4L170.5 137.4M170.6 131.1L172.1 137.9M199.1 145.2L200.6 144.3L202.1 143.5M172.2 131.8L173.7 137.9M175.2 137.2L176.7 136.4L178.2 136.6L179.7 136.7L181.2 136.9L182.7 136.8L184.2 136.7M171.0 134.3L172.5 127.7M172.6 135.0L174.1 128.9M174.2 135.7L175.7 130.0M187.8 136.6L189.3 135.6L190.8 134.6M180.4 127.4L181.9 132.9M202.9 139.7L204.4 139.6L205.9 139.4L207.4 139.3L208.9 139.1M180.5 132.9L182.0 128.7L183.5 134.0M224.0 146.2L225.5 145.6M182.1 133.9L183.6 129.9L185.1 135.0M225.9 143.4L227.4 138.9M226.0 142.3L227.5 140.6M226.1 141.3L227.6 141.1M226.2 140.5L227.7 140.2M227.9 141.3L229.4 133.8M228.0 142.1L229.5 135.2M229.8 141.4L231.3 130.5M231.6 136.9L233.1 128.6M231.7 139.1L233.2 129.9M233.4 134.3L234.9 129.5M235.1 132.5L236.4 130.8"/>
<path stroke="#18addb" d="M79.9 134.8L78.9 134.4M81.4 133.9L79.9 133.3M81.4 133.9L83.0 134.6M82.9 133.0L84.5 134.1L86.1 136.0M84.4 132.4L86.0 134.3L87.6 136.7M85.9 132.6L87.5 135.0M87.4 133.2L89.0 136.6M88.9 135.0L90.5 138.4M90.3 135.3L91.9 139.4M91.7 136.6L93.3 140.6M93.1 137.5L94.7 141.2M94.6 139.4L96.2 142.6M94.5 138.9L96.1 141.1M105.6 137.8L107.2 141.3M142.3 131.9L143.9 132.0L145.5 132.2L147.1 132.9L148.7 133.9M159.8 129.3L161.4 129.9L163.0 130.7L164.6 131.5M172.5 127.7L174.1 128.9L175.7 130.0M180.4 127.4L182.0 128.7L183.6 129.9M177.1 126.5L178.7 130.5M169.0 130.4L170.6 131.1L172.2 131.8L173.8 132.1M178.6 125.4L180.2 131.8M146.5 136.1L148.1 136.7L149.7 137.2L151.3 137.7M175.2 137.2L176.8 130.3M176.7 136.4L178.3 129.3M178.2 136.6L179.8 128.3M186.2 128.2L187.8 136.6M179.7 136.7L181.3 127.8M187.7 127.1L189.3 135.6M196.8 131.3L198.4 139.8M198.3 131.1L199.9 139.9M199.8 130.8L201.4 139.8M201.3 130.5L202.9 139.7M233.3 132.0L234.9 129.5L235.9 128.3M202.8 130.1L204.4 139.6M233.2 129.9L234.8 127.5M231.5 134.5L233.1 128.6M196.1 147.0L197.7 133.6M197.6 146.1L199.2 132.8M229.6 137.5L231.2 129.0M227.8 140.5L229.4 133.8M227.7 140.2L229.3 132.1M219.4 136.6L221.0 147.3M220.9 136.0L222.5 146.8M225.7 145.1L227.3 136.8M222.4 135.2L224.0 146.2M225.6 145.4L227.2 134.2M94.6 139.4L96.1 141.1M91.7 136.6L93.2 139.3L94.7 141.2M90.3 135.3L91.8 138.0L93.3 140.6M99.3 146.2L100.8 134.3M79.9 134.8L81.4 133.9L82.9 133.0M88.9 135.0L90.4 136.9L91.9 139.4M100.9 147.7L102.4 135.5M83.0 134.6L84.5 134.1L86.0 134.3L87.5 135.0L89.0 136.6M112.0 145.2L113.5 131.1M113.6 145.6L115.1 131.4M115.2 145.6L116.7 131.5M116.8 145.5L118.3 131.6M118.4 145.4L119.9 131.6M128.9 132.7L130.4 146.2M120.0 145.2L121.5 131.5M130.5 132.6L132.0 146.1M121.6 145.0L123.1 131.4M132.1 132.6L133.6 146.0M123.2 144.4L124.7 130.5M133.7 131.7L135.2 145.6M124.8 144.4L126.3 130.5M135.3 131.9L136.8 145.6M136.9 133.0L138.4 146.1M138.5 133.4L140.0 146.3M157.8 127.8L159.3 138.6M151.9 135.8L153.4 126.1M159.4 128.2L160.9 138.7M153.5 136.7L155.0 126.9M161.0 128.5L162.5 138.8M155.1 137.5L156.6 127.7M162.6 128.9L164.1 138.8M164.2 129.3L165.7 138.7M165.8 129.4L167.3 138.3M167.4 129.6L168.9 137.7M202.1 143.5L203.6 142.7L205.1 141.9L206.6 141.1M166.2 132.3L167.7 124.7M184.2 136.7L185.7 136.6L187.2 136.5L188.7 136.4L190.2 136.3L191.7 136.2M167.8 133.0L169.3 125.7M173.8 132.1L175.3 131.3L176.8 130.3M169.4 133.7L170.9 126.7M175.7 130.0L177.2 124.9M178.7 130.5L180.2 131.8L181.7 131.0L183.2 130.2L184.7 129.2M177.3 131.0L178.8 126.2L180.3 131.8M190.8 134.6L192.3 133.4L193.8 132.2M178.9 131.9L180.4 127.4M208.9 139.1L210.4 138.8L211.9 138.6L213.4 138.3L214.9 138.0M225.7 145.1L227.2 134.2M225.8 144.4L227.3 136.8M227.8 140.5L229.3 132.1M229.7 140.0L231.2 129.0M231.5 134.5L233.0 127.0M233.3 132.0L234.8 127.5M234.9 129.5L235.7 127.1M235.0 131.0L236.0 128.9"/>
<path stroke="#0cb3d3" d="M81.3 132.3L81.0 132.2M81.3 132.3L82.9 133.0M82.8 131.4L82.0 131.1M82.8 131.4L84.4 132.4M84.3 130.7L85.9 132.6M85.8 130.9L87.4 133.2M87.3 131.5L88.9 135.0M88.8 133.3L90.4 136.9M88.7 131.7L90.3 135.3M90.2 133.8L91.8 138.0M90.1 132.2L91.7 136.6M91.6 135.2L93.2 139.3M93.1 137.5L91.6 134.0M93.0 136.5L92.6 135.8M93.0 136.5L94.6 139.4M94.5 138.9L93.7 137.7M102.4 135.5L104.0 136.7L105.6 137.8M129.5 131.5L131.1 131.7L132.7 131.7L134.3 131.7L135.9 131.7L137.5 131.7L139.1 131.8L140.7 131.8L142.3 131.9M155.0 126.9L156.6 127.7L158.2 128.5L159.8 129.3M169.3 125.7L170.9 126.7L172.5 127.7M177.2 124.9L178.8 126.2L180.4 127.4M172.3 126.1L173.9 126.9M162.6 128.9L164.2 129.3L165.8 129.4L167.4 129.6L169.0 130.4M173.8 132.1L175.4 125.8M140.1 133.9L141.7 134.3L143.3 134.8L144.9 135.3L146.5 136.1M175.3 131.3L176.9 124.6M180.1 124.2L181.7 131.0M181.6 123.1L183.2 130.2M181.2 136.9L182.8 127.4M189.2 125.9L190.8 134.6M182.7 136.8L184.3 126.9M190.7 124.7L192.3 133.4M184.2 136.7L185.8 126.4M185.7 136.6L187.3 125.9M234.8 127.5L235.5 126.2M204.3 129.7L205.9 139.4M233.1 128.6L234.7 124.4M205.8 129.3L207.4 139.3M231.4 132.1L233.0 127.0M207.3 128.9L208.9 139.1M208.8 128.5L210.4 138.8M199.1 145.2L200.7 131.9M229.5 135.2L231.1 127.2M200.6 144.3L202.2 131.2M227.6 141.1L229.2 130.1M227.5 140.6L229.1 127.8M223.9 134.3L225.5 145.6L227.1 131.1M93.0 136.5L94.5 138.9M91.6 135.2L93.1 137.5L94.6 139.4M90.2 133.8L91.7 136.6M97.7 143.7L99.2 133.0M81.3 132.3L80.2 133.0M81.3 132.3L82.8 131.4L84.3 130.7M87.3 131.5L88.8 133.3L90.3 135.3M82.9 133.0L84.4 132.4L85.9 132.6L87.4 133.2L88.9 135.0M108.8 142.7L110.3 129.4M110.4 144.1L111.9 130.5M124.1 132.3L125.4 144.7M125.7 132.6L127.2 146.3M127.3 132.7L128.8 146.3M149.8 125.4L151.3 137.7M151.4 125.9L152.9 138.1M153.0 126.4L154.5 138.2M147.1 132.9L148.6 123.8M154.6 126.9L156.1 138.4M148.7 133.9L150.2 124.4M156.2 127.3L157.7 138.5M150.3 134.9L151.8 125.3M163.0 130.7L164.5 122.7M164.6 131.5L166.1 123.7M169.1 124.2L170.6 131.1M206.6 141.1L206.8 141.0M170.7 125.2L172.2 131.8M191.7 136.2L193.2 136.1L194.7 135.4L196.2 134.5M172.3 126.1L173.8 132.1M176.8 130.3L178.3 129.3L179.8 128.3M173.9 126.9L175.4 125.8M172.5 127.7L174.0 122.4M174.1 128.9L175.6 123.7L177.1 126.5L178.6 125.4M177.2 124.9L178.7 130.5M184.7 129.2L186.2 128.2L187.7 127.1M193.8 132.2L195.3 131.6L196.8 131.3L198.3 131.1L199.8 130.8M214.9 138.0L216.4 137.7L217.9 137.1L219.4 136.6L220.9 136.0M225.6 145.4L227.1 131.1M227.6 141.1L229.1 127.8M227.7 140.2L229.2 130.1M229.6 137.5L231.1 127.2M231.4 132.1L232.9 125.0M233.2 129.9L234.7 124.4M234.8 127.5L235.4 125.3"/>
<path stroke="#01b8c9" d="M84.3 130.7L83.1 130.0M84.2 129.0L85.8 130.9M85.7 129.2L87.3 131.5M87.2 129.7L88.8 133.3M88.6 130.0L90.2 133.8M91.6 135.2L90.5 132.1M99.2 133.0L100.8 134.3L102.4 135.5M115.1 131.4L116.7 131.5L118.3 131.6L119.9 131.6L121.5 131.5L123.1 131.4L124.7 130.5L126.3 130.5L127.9 131.4L129.5 131.5M151.8 125.3L153.4 126.1L155.0 126.9M164.5 122.7L166.1 123.7L167.7 124.7L169.3 125.7M174.0 122.4L175.6 123.7L177.2 124.9M169.1 124.2L170.7 125.2L172.3 126.1M173.9 126.9L175.5 121.0L177.1 126.5M156.2 127.3L157.8 127.8L159.4 128.2L161.0 128.5L162.6 128.9M130.5 132.6L132.1 132.6M135.3 131.9L136.9 133.0L138.5 133.4L140.1 133.9M176.8 130.3L178.4 123.4M178.3 129.3L179.9 122.2M183.1 121.9L184.7 129.2M192.2 123.9L193.8 132.2M193.7 123.4L195.3 131.6M187.2 136.5L188.8 125.3M195.2 122.8L196.8 131.3M188.7 136.4L190.3 124.8M190.2 136.3L191.8 124.3M191.7 136.2L193.3 123.9M234.7 124.4L235.2 124.0M233.0 127.0L234.6 121.8M231.3 130.5L232.9 125.0M210.3 128.1L211.9 138.6M211.8 127.7L213.4 138.3M229.4 133.8L231.0 125.0M202.1 143.5L203.7 130.4M213.3 127.2L214.9 138.0M203.6 142.7L205.2 129.6M205.1 141.9L206.7 128.8M227.4 138.9L229.0 125.2M93.0 136.5L91.8 134.3M94.5 138.9L96.0 129.6M90.1 132.2L91.6 135.2M96.1 141.1L97.6 131.1M84.2 129.0L84.1 129.0M84.2 129.0L85.7 129.2L87.2 129.7L88.7 131.7L90.2 133.8M84.3 130.7L85.8 130.9L87.3 131.5M105.6 137.8L107.1 127.1M107.2 141.3L108.7 128.3M122.5 132.0L123.4 140.1M145.0 123.5L146.5 136.1M146.6 124.1L148.1 136.7M140.7 131.8L142.2 121.9M148.2 124.8L149.7 137.2M142.3 131.9L143.8 122.2M143.9 132.0L145.4 122.6M145.5 132.2L147.0 123.2M158.2 128.5L159.7 120.1M159.8 129.3L161.3 120.9M164.3 121.4L165.8 129.4M161.4 129.9L162.9 121.7M165.9 122.2L167.4 129.6M167.5 123.1L169.0 130.4M196.2 134.5L197.7 133.6L199.2 132.8M169.3 125.7L170.8 119.8L172.3 126.1M179.8 128.3L181.3 127.8L182.8 127.4L184.3 126.9M170.9 126.7L172.4 121.1L173.9 126.9M175.4 125.8L176.9 124.6L178.4 123.4M178.6 125.4L180.1 124.2L181.6 123.1M187.7 127.1L189.2 125.9M199.8 130.8L201.3 130.5L202.8 130.1L204.3 129.7L205.8 129.3M220.9 136.0L222.4 135.2L223.9 134.3M225.5 145.6L227.0 126.4M227.5 140.6L229.0 125.2M229.5 135.2L231.0 125.0M231.3 130.5L232.8 122.6M233.1 128.6L234.6 121.8M234.7 124.4L235.1 123.5"/>
<path stroke="#08bcbe" d="M85.7 129.2L85.2 128.7M87.2 129.7L86.3 128.4M88.7 131.7L87.3 128.5M88.6 130.0L88.4 129.6M90.1 132.2L89.5 130.7M97.6 131.1L99.2 133.0M110.3 129.4L111.9 130.5L113.5 131.1L115.1 131.4M145.4 122.6L147.0 123.2L148.6 123.8L150.2 124.4L151.8 125.3M161.3 120.9L162.9 121.7L164.5 122.7M170.8 119.8L172.4 121.1L174.0 122.4M164.3 121.4L165.9 122.2L167.5 123.1L169.1 124.2M149.8 125.4L151.4 125.9L153.0 126.4L154.6 126.9L156.2 127.3M175.4 125.8L177.0 119.6L178.6 125.4M120.9 131.7L122.5 132.0L124.1 132.3L125.7 132.6L127.3 132.7L128.9 132.7L130.5 132.6M132.1 132.6L133.7 131.7L135.3 131.9M176.9 124.6L178.5 118.1L180.1 124.2M179.8 128.3L181.4 121.0M184.6 120.6L186.2 128.2M181.3 127.8L182.9 119.8M186.1 119.4L187.7 127.1M196.7 122.2L198.3 131.1M198.2 121.6L199.8 130.8M199.7 121.1L201.3 130.5M193.2 136.1L194.8 123.5M194.7 135.4L196.3 123.0M196.2 134.5L197.8 122.0M234.6 121.8L234.8 121.9M232.9 125.0L234.4 119.8M231.2 129.0L232.8 122.6M229.3 132.1L230.9 122.6M214.8 126.8L216.4 137.7M216.3 126.3L217.9 137.1M206.6 141.1L208.2 128.0M217.8 125.5L219.4 136.6M227.3 136.8L228.9 122.3M88.6 130.0L87.9 129.1M88.6 130.0L90.1 132.2M104.0 136.7L105.5 124.7M120.9 131.7L121.3 135.6M131.1 131.7L132.6 119.8M138.6 121.6L140.1 133.9M132.7 131.7L134.2 120.2M140.2 122.1L141.7 134.3M134.3 131.7L135.8 120.5M141.8 122.7L143.3 134.8M135.9 131.7L137.4 120.8M143.4 123.1L144.9 135.3M137.5 131.7L139.0 121.1M139.1 131.8L140.6 121.5M153.4 126.1L154.9 117.5M157.9 118.6L159.4 128.2M155.0 126.9L156.5 118.3M159.5 119.3L161.0 128.5M156.6 127.7L158.1 119.2M161.1 119.9L162.6 128.9M162.7 120.6L164.2 129.3M166.1 123.7L167.6 117.1L169.1 124.2M167.7 124.7L169.2 118.5L170.7 125.2M199.2 132.8L200.7 131.9L202.2 131.2L203.7 130.4M184.3 126.9L185.8 126.4L187.3 125.9L188.8 125.3M178.4 123.4L179.9 122.2M174.0 122.4L175.5 121.0L177.0 119.6M181.6 123.1L183.1 121.9M189.2 125.9L190.7 124.7L192.2 123.9L193.7 123.4M205.8 129.3L207.3 128.9L208.8 128.5L210.3 128.1M223.9 134.3L225.4 133.5M227.4 138.9L228.9 122.3M229.4 133.8L230.9 122.6M231.2 129.0L232.7 118.6M233.0 127.0L234.4 119.9M234.6 121.8L234.8 121.7"/>
<path stroke="#1cc0b4" d="M96.0 129.6L94.8 128.2M96.0 129.6L97.6 131.1M107.1 127.1L108.7 128.3L110.3 129.4M139.0 121.1L140.6 121.5L142.2 121.9L143.8 122.2L145.4 122.6M156.5 118.3L158.1 119.2L159.7 120.1L161.3 120.9M167.6 117.1L169.2 118.5L170.8 119.8M159.5 119.3L161.1 119.9L162.7 120.6L164.3 121.4M143.4 123.1L145.0 123.5L146.6 124.1L148.2 124.8L149.8 125.4M120.9 131.7L119.4 131.5M178.4 123.4L180.0 116.7L181.6 123.1M179.9 122.2L181.5 115.3L183.1 121.9M182.8 127.4L184.4 118.8M187.6 118.1L189.2 125.9M184.3 126.9L185.9 117.9M189.1 117.0L190.7 124.7M185.8 126.4L187.4 117.0M201.2 120.5L202.8 130.1M202.7 119.9L204.3 129.7M204.2 119.3L205.8 129.3M197.7 133.6L199.3 121.2M199.2 132.8L200.8 120.3M232.8 122.6L234.0 117.6M231.1 127.2L232.7 118.6M229.2 130.1L230.8 119.8M209.7 127.3L208.7 135.6M219.3 124.7L220.9 136.0M220.8 123.9L222.4 135.2M222.3 123.1L223.9 134.3M225.4 133.5L227.0 126.4M100.8 134.3L102.3 122.7M102.4 135.5L103.9 123.7M118.3 131.6L119.8 118.4M119.9 131.6L121.4 118.7M121.5 131.5L123.0 118.6M123.1 131.4L124.6 118.5M124.7 130.5L126.2 117.3M126.3 130.5L127.8 117.4M127.9 131.4L129.4 118.9M135.4 120.3L136.9 133.0M129.5 131.5L131.0 119.4M137.0 121.0L138.5 133.4M153.1 116.5L154.6 126.9M150.2 124.4L151.7 116.0M154.7 117.2L156.2 127.3M151.8 125.3L153.3 116.7M156.3 117.9L157.8 127.8M162.9 121.7L164.4 114.6L165.9 122.2M164.5 122.7L166.0 115.8L167.5 123.1M203.7 130.4L205.2 129.6L206.7 128.8M188.8 125.3L190.3 124.8L191.8 124.3L193.3 123.9M179.9 122.2L181.4 121.0L182.9 119.8M177.0 119.6L178.5 118.1M183.1 121.9L184.6 120.6L186.1 119.4M193.7 123.4L195.2 122.8L196.7 122.2L198.2 121.6M210.3 128.1L211.8 127.7L213.3 127.2L214.8 126.8M227.3 136.8L228.8 119.1M229.3 132.1L230.8 119.8M232.9 125.0L234.1 118.0"/>
<path stroke="#2bc3a8" d="M103.9 123.7L105.5 124.7L107.1 127.1M131.0 119.4L132.6 119.8L134.2 120.2L135.8 120.5L137.4 120.8L139.0 121.1M151.7 116.0L153.3 116.7L154.9 117.5L156.5 118.3M164.4 114.6L166.0 115.8L167.6 117.1M154.7 117.2L156.3 117.9L157.9 118.6L159.5 119.3M138.6 121.6L140.2 122.1L141.8 122.7L143.4 123.1M181.4 121.0L183.0 113.9L184.6 120.6M190.6 116.1L192.2 123.9M187.3 125.9L188.9 116.1M192.1 115.3L193.7 123.4M188.8 125.3L190.4 115.3M193.6 114.4L195.2 122.8M190.3 124.8L191.9 114.4M205.7 118.7L207.3 128.9M207.2 118.1L208.8 128.5M200.7 131.9L202.3 119.5M208.7 117.5L210.3 128.1M202.2 131.2L203.8 118.7M231.0 125.0L232.6 114.6M229.1 127.8L230.7 115.2M211.2 126.7L210.8 129.7M227.2 134.2L228.8 119.1M223.8 122.3L225.4 133.5M97.6 131.1L99.1 120.7M99.2 133.0L100.7 121.6M111.9 130.5L113.4 117.2M113.5 131.1L115.0 117.5M121.0 118.6L122.5 132.0M115.1 131.4L116.6 117.8M122.6 118.9L124.1 132.3M116.7 131.5L118.2 118.1M124.2 119.2L125.7 132.6M125.8 119.5L127.3 132.7M127.4 119.7L128.9 132.7M129.0 119.6L130.5 132.6M130.6 119.6L132.1 132.6M132.2 118.4L133.7 131.7M133.8 118.6L135.3 131.9M143.8 122.2L145.3 113.1M148.3 114.3L149.8 125.4M145.4 122.6L146.9 113.8M149.9 115.0L151.4 125.9M147.0 123.2L148.5 114.4M151.5 115.7L153.0 126.4M148.6 123.8L150.1 115.2M159.7 120.1L161.2 112.7L162.7 120.6M161.3 120.9L162.8 113.7L164.3 121.4M206.7 128.8L208.2 128.0L209.7 127.3L211.2 126.7M193.3 123.9L194.8 123.5L196.3 123.0L197.8 122.0M182.9 119.8L184.4 118.8L185.9 117.9M178.5 118.1L180.0 116.7L181.5 115.3M186.1 119.4L187.6 118.1L189.1 117.0M198.2 121.6L199.7 121.1L201.2 120.5L202.7 119.9M214.8 126.8L216.3 126.3L217.8 125.5L219.3 124.7M225.4 133.5L226.9 119.4M229.2 130.1L230.7 115.2M231.1 127.2L232.6 114.6M232.8 122.6L233.8 116.2"/>
<path stroke="#34c79c" d="M100.7 121.6L102.3 122.7L103.9 123.7M121.4 118.7L123.0 118.6L124.6 118.5L126.2 117.3M127.8 117.4L129.4 118.9L131.0 119.4M148.5 114.4L150.1 115.2L151.7 116.0M161.2 112.7L162.8 113.7L164.4 114.6M149.9 115.0L151.5 115.7L153.1 116.5L154.7 117.2M133.8 118.6L135.4 120.3L137.0 121.0L138.6 121.6M182.9 119.8L184.5 112.4L186.1 119.4M184.4 118.8L186.0 111.0L187.6 118.1M195.1 113.5L196.7 122.2M191.8 124.3L193.4 113.5M196.6 112.6L198.2 121.6M193.3 123.9L194.9 112.8M232.7 118.6L233.7 115.5M210.2 117.0L211.8 127.7M203.7 130.4L205.3 117.9M211.7 116.4L213.3 127.2M230.9 122.6L232.5 111.4M205.2 129.6L206.8 117.2M213.2 115.7L214.8 126.8M206.7 128.8L208.3 116.4M227.1 131.1L228.7 114.2M96.0 129.6L97.5 119.4M107.1 127.1L108.6 114.9M108.7 128.3L110.2 115.8M110.3 129.4L111.8 116.6M117.8 118.0L119.3 131.2M119.4 118.3L120.9 131.7M137.4 120.8L138.9 110.6M141.9 111.7L143.4 123.1M139.0 121.1L140.5 111.2M143.5 112.3L145.0 123.5M140.6 121.5L142.1 111.8M145.1 112.9L146.6 124.1M142.2 121.9L143.7 112.4M146.7 113.6L148.2 124.8M154.9 117.5L156.4 109.8L157.9 118.6M156.5 118.3L158.0 110.8L159.5 119.3M158.1 119.2L159.6 111.8L161.1 119.9M211.2 126.7L212.1 126.3M197.8 122.0L199.3 121.2L200.8 120.3M185.9 117.9L187.4 117.0L188.9 116.1L190.4 115.3M181.5 115.3L183.0 113.9L184.5 112.4M189.1 117.0L190.6 116.1L192.1 115.3M202.7 119.9L204.2 119.3L205.7 118.7M219.3 124.7L220.8 123.9L222.3 123.1M227.2 134.2L228.7 114.2M229.1 127.8L230.6 109.9M231.0 125.0L232.5 111.4M232.7 118.6L233.5 114.4"/>
<path stroke="#3fca8e" d="M97.5 119.4L99.1 120.7L100.7 121.6M113.4 117.2L115.0 117.5L116.6 117.8L118.2 118.1L119.8 118.4L121.4 118.7M126.2 117.3L127.8 117.4M142.1 111.8L143.7 112.4L145.3 113.1L146.9 113.8L148.5 114.4M156.4 109.8L158.0 110.8L159.6 111.8L161.2 112.7M145.1 112.9L146.7 113.6L148.3 114.3L149.9 115.0M121.0 118.6L122.6 118.9L124.2 119.2L125.8 119.5L127.4 119.7L129.0 119.6L130.6 119.6L132.2 118.4L133.8 118.6M185.9 117.9L187.5 109.8L189.1 117.0M187.4 117.0L189.0 108.6L190.6 116.1M198.1 111.8L199.7 121.1M194.8 123.5L196.4 112.0M199.6 111.0L201.2 120.5M196.3 123.0L197.9 111.2M201.1 110.2L202.7 119.9M197.8 122.0L199.4 110.4M232.6 114.6L233.3 113.4M230.8 119.8L232.4 109.0M214.7 114.9L216.3 126.3M208.2 128.0L209.8 115.6M216.2 114.1L217.8 125.5M229.0 125.2L230.6 109.9M209.7 127.3L211.3 115.0M217.7 113.4L219.3 124.7M225.3 121.9L226.9 119.4M105.5 124.7L107.0 113.9M116.2 117.7L117.2 126.8M132.6 119.8L134.1 108.9M137.1 109.9L138.6 121.6M134.2 120.2L135.7 109.5M138.7 110.5L140.2 122.1M135.8 120.5L137.3 110.1M140.3 111.1L141.8 122.7M150.1 115.2L151.6 107.0L153.1 116.5M151.7 116.0L153.2 107.9L154.7 117.2M153.3 116.7L154.8 108.9L156.3 117.9M200.8 120.3L202.3 119.5L203.8 118.7L205.3 117.9M190.4 115.3L191.9 114.4L193.4 113.5M184.5 112.4L186.0 111.0M192.1 115.3L193.6 114.4L195.1 113.5L196.6 112.6M205.7 118.7L207.2 118.1L208.7 117.5L210.2 117.0M222.3 123.1L223.8 122.3L225.3 121.9M227.1 131.1L228.6 107.6M230.9 122.6L232.4 109.0M232.6 114.6L233.1 112.6"/>
<path stroke="#52cc7e" d="M95.9 117.8L97.5 119.4M108.6 114.9L110.2 115.8L111.8 116.6L113.4 117.2M137.3 110.1L138.9 110.6L140.5 111.2L142.1 111.8M153.2 107.9L154.8 108.9L156.4 109.8M140.3 111.1L141.9 111.7L143.5 112.3L145.1 112.9M114.6 117.2L116.2 117.7L117.8 118.0L119.4 118.3L121.0 118.6M188.9 116.1L190.5 107.4L192.1 115.3M190.4 115.3L192.0 106.1L193.6 114.4M202.6 109.4L204.2 119.3M199.3 121.2L200.9 109.5M204.1 108.6L205.7 118.7M200.8 120.3L202.4 108.6M205.6 107.8L207.2 118.1M232.5 111.4L232.9 111.2M228.9 122.3L230.5 105.3M211.2 126.7L212.8 114.3M219.2 112.7L220.8 123.9M214.3 113.7L213.0 123.9M220.7 112.0L222.3 123.1M227.0 126.4L228.6 107.6M95.9 117.8L95.6 119.6M100.7 121.6L102.2 110.5M102.3 122.7L103.8 111.4M103.9 123.7L105.4 112.3M113.0 116.7L113.1 117.7M114.6 117.2L115.2 122.2M123.0 118.6L124.5 106.5M124.6 118.5L126.1 106.5M129.4 118.9L130.9 107.4M133.9 108.2L135.4 120.3M131.0 119.4L132.5 108.2M135.5 109.1L137.0 121.0M146.8 104.4L148.3 114.3M146.9 113.8L148.4 105.2L149.9 115.0M148.5 114.4L150.0 106.0L151.5 115.7M205.3 117.9L206.8 117.2L208.3 116.4M193.4 113.5L194.9 112.8L196.4 112.0M186.0 111.0L187.5 109.8L189.0 108.6M196.6 112.6L198.1 111.8L199.6 111.0M210.2 117.0L211.7 116.4L213.2 115.7L214.7 114.9M229.0 125.2L230.5 105.3M230.8 119.8L232.2 107.1M232.5 111.4L232.8 110.8"/>
<path stroke="#66cd6d" d="M105.4 112.3L107.0 113.9L108.6 114.9M132.5 108.2L134.1 108.9L135.7 109.5L137.3 110.1M150.0 106.0L151.6 107.0L153.2 107.9M135.5 109.1L137.1 109.9L138.7 110.5L140.3 111.1M113.0 116.7L112.6 116.6M113.0 116.7L114.6 117.2M191.9 114.4L193.5 104.9L195.1 113.5M193.4 113.5L195.0 103.7L196.6 112.6M202.3 119.5L203.9 107.8M207.1 107.1L208.7 117.5M203.8 118.7L205.4 107.0M208.6 106.3L210.2 117.0M232.4 109.0L232.5 109.1M230.7 115.2L232.1 107.0M215.8 113.1L215.1 118.3M222.2 111.3L223.8 122.3M223.7 110.7L225.3 121.9M97.5 119.4L99.0 108.6M99.1 120.7L100.6 109.6M115.0 117.5L116.5 105.2M116.6 117.8L118.1 105.6M121.1 106.3L122.6 118.9M118.2 118.1L119.7 105.9M122.7 106.7L124.2 119.2M119.8 118.4L121.3 106.2M124.3 107.0L125.8 119.5M121.4 118.7L122.9 106.5M125.9 107.3L127.4 119.7M127.5 107.2L129.0 119.6M129.1 107.2L130.6 119.6M126.2 117.3L127.7 104.9M130.7 105.6L132.2 118.4M127.8 117.4L129.3 105.2M132.3 106.0L133.8 118.6M142.1 111.8L143.6 102.8L145.1 112.9M143.7 112.4L145.2 103.6L146.7 113.6M145.3 113.1L146.8 104.4M208.3 116.4L209.8 115.6L211.3 115.0L212.8 114.3M196.4 112.0L197.9 111.2L199.4 110.4L200.9 109.5M189.0 108.6L190.5 107.4L192.0 106.1M199.6 111.0L201.1 110.2L202.6 109.4M214.7 114.9L216.2 114.1L217.7 113.4M225.3 121.9L226.8 113.0M227.0 126.4L228.5 101.6M228.9 122.3L230.4 101.5M230.7 115.2L231.9 105.3M232.4 109.0L232.5 108.9"/>
<path stroke="#7dcc5c" d="M102.2 110.5L103.8 111.4L105.4 112.3M124.5 106.5L126.1 106.5M129.3 105.2L130.9 107.4L132.5 108.2M145.2 103.6L146.8 104.4L148.4 105.2L150.0 106.0M132.3 106.0L133.9 108.2L135.5 109.1M194.9 112.8L196.5 102.7L198.1 111.8M196.4 112.0L198.0 101.7L199.6 111.0M205.3 117.9L206.9 106.2M210.1 105.5L211.7 116.4M206.8 117.2L208.4 105.4M211.6 104.7L213.2 115.7M208.3 116.4L209.9 104.6M213.1 103.9L214.7 114.9M230.6 109.9L231.8 104.8M228.8 119.1L230.4 101.5M95.9 117.8L97.4 106.9M113.1 104.4L114.6 117.2M110.2 115.8L111.7 104.1M114.7 105.0L116.2 117.7M111.8 116.6L113.3 104.5M116.3 105.3L117.8 118.0M113.4 117.2L114.9 104.9M117.9 105.6L119.4 118.3M119.5 106.0L121.0 118.6M137.3 110.1L138.8 100.4L140.3 111.1M138.9 110.6L140.4 101.2L141.9 111.7M140.5 111.2L142.0 102.0L143.5 112.3M212.8 114.3L214.3 113.7L215.8 113.1M200.9 109.5L202.4 108.6L203.9 107.8M192.0 106.1L193.5 104.9L195.0 103.7M202.6 109.4L204.1 108.6L205.6 107.8L207.1 107.1M217.7 113.4L219.2 112.7L220.7 112.0L222.2 111.3M228.8 119.1L230.3 98.5"/>
<path stroke="#94ca4a" d="M99.0 108.6L100.6 109.6L102.2 110.5M116.5 105.2L118.1 105.6L119.7 105.9L121.3 106.2L122.9 106.5L124.5 106.5M126.1 106.5L127.7 104.9L129.3 105.2M140.4 101.2L142.0 102.0L143.6 102.8L145.2 103.6M119.5 106.0L121.1 106.3L122.7 106.7L124.3 107.0L125.9 107.3L127.5 107.2L129.1 107.2L130.7 105.6L132.3 106.0M197.9 111.2L199.5 100.7L201.1 110.2M199.4 110.4L201.0 99.7L202.6 109.4M200.9 109.5L202.5 98.7L204.1 108.6M209.8 115.6L211.4 103.8M214.6 103.1L216.2 114.1M211.3 115.0L212.9 103.2M216.1 102.5L217.7 113.4M212.8 114.3L214.4 102.5M228.7 114.2L230.3 98.5M226.9 119.4L228.5 101.6M225.2 110.7L226.8 113.0M105.4 112.3L106.9 101.6M107.0 113.9L108.5 102.5M111.5 103.6L113.0 116.7M108.6 114.9L110.1 103.3M132.5 108.2L134.0 97.8L135.5 109.1M134.1 108.9L135.6 98.8L137.1 109.9M135.7 109.5L137.2 99.6L138.7 110.5M215.8 113.1L217.3 112.4L217.4 112.4M203.9 107.8L205.4 107.0L206.9 106.2M195.0 103.7L196.5 102.7L198.0 101.7M207.1 107.1L208.6 106.3L210.1 105.5M222.2 111.3L223.7 110.7L225.2 110.7M230.6 109.9L231.5 103.5"/>
<path stroke="#aac73a" d="M97.4 106.9L96.9 105.0M97.4 106.9L99.0 108.6M110.1 103.3L111.7 104.1L113.3 104.5L114.9 104.9L116.5 105.2M135.6 98.8L137.2 99.6L138.8 100.4L140.4 101.2M113.1 104.4L114.7 105.0L116.3 105.3L117.9 105.6L119.5 106.0M202.4 108.6L204.0 97.7L205.6 107.8M203.9 107.8L205.5 96.8L207.1 107.1M230.5 105.3L231.4 102.7M217.6 101.8L219.2 112.7M214.3 113.7L215.9 101.9M219.1 101.2L220.7 112.0M215.8 113.1L217.4 101.3M220.6 100.6L222.2 111.3M102.2 110.5L103.7 99.8M103.8 111.4L105.3 100.6M109.9 102.8L111.1 112.8M124.5 106.5L126.0 95.5L127.5 107.2M126.1 106.5L127.6 95.5L129.1 107.2M130.9 107.4L132.4 96.8L133.9 108.2M206.9 106.2L208.4 105.4L209.9 104.6L211.4 103.8M198.0 101.7L199.5 100.7L201.0 99.7M210.1 105.5L211.6 104.7L213.1 103.9L214.6 103.1M225.2 110.7L226.7 103.7M226.9 119.4L228.4 96.5M228.7 114.2L230.2 96.2M230.5 105.3L231.2 101.7"/>
<path stroke="#bfc32e" d="M105.3 100.6L106.9 101.6L108.5 102.5L110.1 103.3M132.4 96.8L134.0 97.8L135.6 98.8M108.3 102.0L109.9 102.8L111.5 103.6L113.1 104.4M205.4 107.0L207.0 96.0L208.6 106.3M206.9 106.2L208.5 95.1L210.1 105.5M230.4 101.5L231.0 100.6M228.6 107.6L230.2 96.2M217.3 112.4L218.9 100.7M222.1 99.9L223.7 110.7M223.6 99.3L225.2 110.7M226.8 113.0L228.4 96.5M99.0 108.6L100.5 97.3M100.6 109.6L102.1 98.9M108.3 102.0L109.0 107.9M116.5 105.2L118.0 94.2L119.5 106.0M118.1 105.6L119.6 94.6L121.1 106.3M119.7 105.9L121.2 94.9L122.7 106.7M121.3 106.2L122.8 95.3L124.3 107.0M122.9 106.5L124.4 95.6L125.9 107.3M127.7 104.9L129.2 93.6L130.7 105.6M129.3 105.2L130.8 94.0L132.3 106.0M211.4 103.8L212.9 103.2L214.4 102.5M201.0 99.7L202.5 98.7L204.0 97.7M214.6 103.1L216.1 102.5L217.6 101.8M230.4 101.5L230.9 99.9"/>
<path stroke="#d2bf27" d="M102.1 98.9L103.7 99.8L105.3 100.6M122.8 95.3L124.4 95.6L126.0 95.5L127.6 95.5L129.2 93.6M130.8 94.0L132.4 96.8M106.7 101.2L105.8 100.6M106.7 101.2L108.3 102.0M208.4 105.4L210.0 94.2L211.6 104.7M209.9 104.6L211.5 93.4L213.1 103.9M211.4 103.8L213.0 92.5L214.6 103.1M230.3 98.5L230.6 98.4M220.4 100.0L219.4 107.2M225.1 99.2L226.7 103.7M97.4 106.9L98.9 95.4M106.7 101.2L107.0 103.3M110.1 103.3L111.6 92.4L113.1 104.4M111.7 104.1L113.2 93.0L114.7 105.0M113.3 104.5L114.8 93.4L116.3 105.3M114.9 104.9L116.4 93.8L117.9 105.6M214.4 102.5L215.9 101.9L217.4 101.3L218.9 100.7M204.0 97.7L205.5 96.8L207.0 96.0M217.6 101.8L219.1 101.2L220.6 100.6L222.1 99.9M226.8 113.0L228.3 92.1M228.6 107.6L229.9 94.4M230.3 98.5L230.6 98.0"/>
<path stroke="#e2bc2b" d="M98.9 95.4L100.5 97.3L102.1 98.9M116.4 93.8L118.0 94.2L119.6 94.6L121.2 94.9L122.8 95.3M129.2 93.6L130.8 94.0M212.9 103.2L214.5 91.9L216.1 102.5M214.4 102.5L216.0 91.3L217.6 101.8M228.5 101.6L229.9 94.2M221.9 99.4L221.6 101.9M226.7 103.7L228.3 92.1M105.3 100.6L106.8 90.2L108.3 102.0M106.9 101.6L108.4 91.0L109.9 102.8M108.5 102.5L110.0 91.7L111.5 103.6M218.9 100.7L220.4 100.0L221.9 99.4L222.7 99.1M207.0 96.0L208.5 95.1L210.0 94.2M222.1 99.9L223.6 99.3L225.1 99.2M228.5 101.6L229.6 92.6"/>
<path stroke="#f1ba37" d="M110.0 91.7L111.6 92.4L113.2 93.0L114.8 93.4L116.4 93.8M215.9 101.9L217.5 90.6L219.1 101.2M217.4 101.3L219.0 90.0L220.6 100.6M218.9 100.7L220.5 89.4L222.1 99.9M228.4 96.5L229.5 92.0M102.1 98.9L103.6 88.4L104.9 98.5M103.7 99.8L105.2 89.5L106.7 101.2M210.0 94.2L211.5 93.4L213.0 92.5L214.5 91.9M225.1 99.2L226.6 94.5M226.7 103.7L228.2 88.4"/>
<path stroke="#fcbd3d" d="M98.9 95.4L97.9 90.8M105.2 89.5L106.8 90.2L108.4 91.0L110.0 91.7M220.4 100.0L222.0 88.8L223.6 99.3M221.9 99.4L223.5 88.1L225.1 99.2M100.5 97.3L102.0 86.1M214.5 91.9L216.0 91.3L217.5 90.6M228.4 96.5L229.3 90.7"/>
<path stroke="#fec537" d="M102.0 86.1L103.6 88.4L105.2 89.5M228.3 92.1L229.1 89.6M225.0 87.4L223.7 96.6M225.0 87.4L226.6 94.5L228.2 88.4M98.9 95.4L100.4 83.4M102.0 86.1L102.8 93.0M217.5 90.6L219.0 90.0L220.5 89.4L222.0 88.8M226.6 94.5L228.1 85.6M228.3 92.1L229.0 88.6"/>
<path stroke="#fccf30" d="M100.4 83.4L102.0 86.1M228.2 88.4L228.8 87.6M226.5 86.1L225.9 90.2M100.4 83.4L100.8 86.8M222.0 88.8L223.5 88.1L225.0 87.4L226.5 86.1M228.2 88.4L228.6 87.1"/>
<path stroke="#f8d92c" d="M226.5 86.1L228.1 85.6L228.4 85.6M226.5 86.1L228.0 83.5M228.1 85.6L228.3 85.3"/>
<path stroke="#f5e327" d="M100.4 83.4L99.0 75.0"/>
</g>
<g fill="none" stroke-width="0.75" stroke-linecap="round">
<path stroke="#f9d82c" d="M228.0 83.5L228.7 87.5"/>
<path stroke="#fec636" d="M228.7 87.5L229.4 91.6"/>
<path stroke="#f4ba39" d="M229.4 91.6L230.1 95.6"/>
<path stroke="#d7be28" d="M230.1 95.6L230.9 99.7"/>
<path stroke="#b4c534" d="M230.9 99.7L231.6 103.7"/>
<path stroke="#8bcb51" d="M231.6 103.7L232.3 107.7"/>
<path stroke="#61cd71" d="M232.3 107.7L233.0 111.8"/>
<path stroke="#3eca8f" d="M233.0 111.8L233.7 115.8"/>
<path stroke="#2cc4a7" d="M233.7 115.8L234.4 119.8"/>
<path stroke="#0cbdbc" d="M234.4 119.8L235.1 123.9"/>
<path stroke="#07b5cf" d="M235.1 123.9L235.9 127.9"/>
<path stroke="#1baadf" d="M235.9 127.9L236.6 132.0"/>
<path stroke="#259de7" d="M236.6 132.0L237.3 136.0"/>
<path stroke="#2c8ef1" d="M237.3 136.0L238.0 140.0"/>
<path stroke="#fcbc3d" stroke-width="0.5" d="M228.7 87.5L228.5 96.4"/>
<path stroke="#bdc32e" stroke-width="0.5" d="M228.5 96.4L228.3 105.4"/>
<path stroke="#64cd6e" stroke-width="0.5" d="M228.3 105.4L228.1 114.3"/>
<path stroke="#2ac3a9" stroke-width="0.5" d="M228.1 114.3L227.9 123.2"/>
<path stroke="#0db3d4" stroke-width="0.5" d="M227.9 123.2L227.7 132.1"/>
<path stroke="#2797eb" stroke-width="0.5" d="M227.7 132.1L227.5 141.0"/>
<path stroke="#e7bb2d" stroke-width="0.5" d="M229.4 91.6L229.2 99.8"/>
<path stroke="#a0c841" stroke-width="0.5" d="M229.2 99.8L229.0 108.1"/>
<path stroke="#4fcc81" stroke-width="0.5" d="M229.0 108.1L228.8 116.3"/>
<path stroke="#1ec0b2" stroke-width="0.5" d="M228.8 116.3L228.6 124.5"/>
<path stroke="#14b0d8" stroke-width="0.5" d="M228.6 124.5L228.4 132.8"/>
<path stroke="#2896ec" stroke-width="0.5" d="M228.4 132.8L228.2 141.0"/>
<path stroke="#c9c129" stroke-width="0.5" d="M230.1 95.6L229.9 103.2"/>
<path stroke="#81cc59" stroke-width="0.5" d="M229.9 103.2L229.7 110.7"/>
<path stroke="#3cc991" stroke-width="0.5" d="M229.7 110.7L229.5 118.3"/>
<path stroke="#0fbeba" stroke-width="0.5" d="M229.5 118.3L229.3 125.9"/>
<path stroke="#18addb" stroke-width="0.5" d="M229.3 125.9L229.1 133.4"/>
<path stroke="#2994ec" stroke-width="0.5" d="M229.1 133.4L228.9 141.0"/>
<path stroke="#a7c73c" stroke-width="0.5" d="M230.9 99.7L230.7 106.5"/>
<path stroke="#61cd71" stroke-width="0.5" d="M230.7 106.5L230.5 113.4"/>
<path stroke="#31c6a0" stroke-width="0.5" d="M230.5 113.4L230.3 120.3"/>
<path stroke="#02bbc3" stroke-width="0.5" d="M230.3 120.3L230.1 127.2"/>
<path stroke="#1baadf" stroke-width="0.5" d="M230.1 127.2L229.9 134.1"/>
<path stroke="#2a93ed" stroke-width="0.5" d="M229.9 134.1L229.7 141.0"/>
<path stroke="#81cc59" stroke-width="0.5" d="M231.6 103.7L231.4 109.9"/>
<path stroke="#46cb88" stroke-width="0.5" d="M231.4 109.9L231.2 116.1"/>
<path stroke="#26c2ad" stroke-width="0.5" d="M231.2 116.1L231.0 122.3"/>
<path stroke="#02b7cb" stroke-width="0.5" d="M231.0 122.3L230.8 128.6"/>
<path stroke="#1ea7e1" stroke-width="0.5" d="M230.8 128.6L230.6 134.8"/>
<path stroke="#2b92ee" stroke-width="0.5" d="M230.6 134.8L230.4 141.0"/>
<path stroke="#5bcc77" stroke-width="0.5" d="M232.3 107.7L232.1 113.3"/>
<path stroke="#34c79c" stroke-width="0.5" d="M232.1 113.3L231.9 118.8"/>
<path stroke="#12beb9" stroke-width="0.5" d="M231.9 118.8L231.7 124.4"/>
<path stroke="#0bb3d2" stroke-width="0.5" d="M231.7 124.4L231.5 129.9"/>
<path stroke="#21a4e3" stroke-width="0.5" d="M231.5 129.9L231.3 135.5"/>
<path stroke="#2b91ef" stroke-width="0.5" d="M231.3 135.5L231.1 141.0"/>
<path stroke="#3cc991" stroke-width="0.5" d="M233.0 111.8L232.8 116.6"/>
<path stroke="#26c2ad" stroke-width="0.5" d="M232.8 116.6L232.6 121.5"/>
<path stroke="#02bac4" stroke-width="0.5" d="M232.6 121.5L232.4 126.4"/>
<path stroke="#15afd9" stroke-width="0.5" d="M232.4 126.4L232.2 131.3"/>
<path stroke="#23a0e5" stroke-width="0.5" d="M232.2 131.3L232.0 136.1"/>
<path stroke="#2c8ff0" stroke-width="0.5" d="M232.0 136.1L231.8 141.0"/>
<path stroke="#2cc4a7" stroke-width="0.5" d="M233.7 115.8L233.5 120.0"/>
<path stroke="#0cbdbc" stroke-width="0.5" d="M233.5 120.0L233.3 124.2"/>
<path stroke="#07b5cf" stroke-width="0.5" d="M233.3 124.2L233.1 128.4"/>
<path stroke="#1baadf" stroke-width="0.5" d="M233.1 128.4L232.9 132.6"/>
<path stroke="#259de7" stroke-width="0.5" d="M232.9 132.6L232.7 136.8"/>
<path stroke="#2c8ef1" stroke-width="0.5" d="M232.7 136.8L232.5 141.0"/>
<path stroke="#0fbeba" stroke-width="0.5" d="M234.4 119.8L234.2 123.4"/>
<path stroke="#02b7cb" stroke-width="0.5" d="M234.2 123.4L234.0 126.9"/>
<path stroke="#15afd9" stroke-width="0.5" d="M234.0 126.9L233.8 130.4"/>
<path stroke="#20a5e3" stroke-width="0.5" d="M233.8 130.4L233.6 133.9"/>
<path stroke="#2699e9" stroke-width="0.5" d="M233.6 133.9L233.4 137.5"/>
<path stroke="#2d8df2" stroke-width="0.5" d="M233.4 137.5L233.2 141.0"/>
<path stroke="#03b7cc" stroke-width="0.5" d="M235.1 123.9L234.9 126.7"/>
<path stroke="#14b0d8" stroke-width="0.5" d="M234.9 126.7L234.7 129.6"/>
<path stroke="#1da8e0" stroke-width="0.5" d="M234.7 129.6L234.5 132.4"/>
<path stroke="#249fe5" stroke-width="0.5" d="M234.5 132.4L234.3 135.3"/>
<path stroke="#2896ec" stroke-width="0.5" d="M234.3 135.3L234.1 138.1"/>
<path stroke="#2d8cf3" stroke-width="0.5" d="M234.1 138.1L233.9 141.0"/>
<path stroke="#18addb" stroke-width="0.5" d="M235.9 127.9L235.7 130.1"/>
<path stroke="#1ea7e1" stroke-width="0.5" d="M235.7 130.1L235.5 132.3"/>
<path stroke="#23a0e5" stroke-width="0.5" d="M235.5 132.3L235.3 134.5"/>
<path stroke="#2699e9" stroke-width="0.5" d="M235.3 134.5L235.1 136.6"/>
<path stroke="#2b92ee" stroke-width="0.5" d="M235.1 136.6L234.9 138.8"/>
<path stroke="#2d8af4" stroke-width="0.5" d="M234.9 138.8L234.7 141.0"/>
<path stroke="#22a1e4" stroke-width="0.5" d="M236.6 132.0L236.4 133.5"/>
<path stroke="#259de7" stroke-width="0.5" d="M236.4 133.5L236.2 135.0"/>
<path stroke="#2798ea" stroke-width="0.5" d="M236.2 135.0L236.0 136.5"/>
<path stroke="#2a93ed" stroke-width="0.5" d="M236.0 136.5L235.8 138.0"/>
<path stroke="#2c8ef1" stroke-width="0.5" d="M235.8 138.0L235.6 139.5"/>
<path stroke="#2d89f5" stroke-width="0.5" d="M235.6 139.5L235.4 141.0"/>
<path stroke="#2994ec" stroke-width="0.5" d="M237.3 136.0L237.1 136.8"/>
<path stroke="#2b92ee" stroke-width="0.5" d="M237.1 136.8L236.9 137.7"/>
<path stroke="#2c8ff0" stroke-width="0.5" d="M236.9 137.7L236.7 138.5"/>
<path stroke="#2d8df2" stroke-width="0.5" d="M236.7 138.5L236.5 139.3"/>
<path stroke="#2d8af4" stroke-width="0.5" d="M236.5 139.3L236.3 140.2"/>
<path stroke="#2d88f6" stroke-width="0.5" d="M236.3 140.2L236.1 141.0"/>
</g>
<path class="g" d="M514.70 232.30 L390.62 176.20"/>
<path class="g" d="M390.62 176.20 L390.62 53.00"/>
<path class="g" d="M568.26 218.16 L444.18 162.06"/>
<path class="g" d="M444.18 162.06 L444.18 38.86"/>
<path class="g" d="M621.82 204.02 L497.74 147.92"/>
<path class="g" d="M497.74 147.92 L497.74 24.72"/>
<path class="g" d="M675.38 189.88 L551.30 133.78"/>
<path class="g" d="M551.30 133.78 L551.30 10.58"/>
<path class="g" d="M514.70 232.30 L675.38 189.88"/>
<path class="g" d="M675.38 189.88 L675.38 66.68"/>
<path class="g" d="M473.34 213.60 L634.02 171.18"/>
<path class="g" d="M634.02 171.18 L634.02 47.98"/>
<path class="g" d="M431.98 194.90 L592.66 152.48"/>
<path class="g" d="M592.66 152.48 L592.66 29.28"/>
<path class="g" d="M390.62 176.20 L551.30 133.78"/>
<path class="g" d="M551.30 133.78 L551.30 10.58"/>
<path class="g" d="M390.62 176.20 L551.30 133.78"/>
<path class="g" d="M551.30 133.78 L675.38 189.88"/>
<path class="g" d="M390.62 155.67 L551.30 113.25"/>
<path class="g" d="M551.30 113.25 L675.38 169.35"/>
<path class="g" d="M390.62 135.13 L551.30 92.71"/>
<path class="g" d="M551.30 92.71 L675.38 148.81"/>
<path class="g" d="M390.62 114.60 L551.30 72.18"/>
<path class="g" d="M551.30 72.18 L675.38 128.28"/>
<path class="g" d="M390.62 94.06 L551.30 51.64"/>
<path class="g" d="M551.30 51.64 L675.38 107.74"/>
<path class="g" d="M390.62 73.53 L551.30 31.11"/>
<path class="g" d="M551.30 31.11 L675.38 87.21"/>
<path class="g" d="M390.62 53.00 L551.30 10.58"/>
<path class="g" d="M551.30 10.58 L675.38 66.68"/>
<path class="ax" d="M514.70 232.30 L675.38 189.88"/>
<path class="ax" d="M514.70 232.30 L390.62 176.20"/>
<path class="ax" d="M390.62 176.20 L390.62 53.00"/>
<path class="ax" d="M514.70 232.30 L511.97 231.06"/>
<path class="ax" d="M568.26 218.16 L565.53 216.92"/>
<path class="ax" d="M621.82 204.02 L619.09 202.78"/>
<path class="ax" d="M675.38 189.88 L672.65 188.64"/>
<path class="ax" d="M514.70 232.30 L517.60 231.53"/>
<path class="ax" d="M473.34 213.60 L476.24 212.83"/>
<path class="ax" d="M431.98 194.90 L434.88 194.13"/>
<path class="ax" d="M390.62 176.20 L393.52 175.43"/>
<path class="ax" d="M390.62 176.20 L386.70 174.43"/>
<path class="ax" d="M390.62 155.67 L386.70 153.89"/>
<path class="ax" d="M390.62 135.13 L386.70 133.36"/>
<path class="ax" d="M390.62 114.60 L386.70 112.83"/>
<path class="ax" d="M390.62 94.06 L386.70 92.29"/>
<path class="ax" d="M390.62 73.53 L386.70 71.76"/>
<path class="ax" d="M390.62 53.00 L386.70 51.22"/>
<text class="t" x="384.20" y="176.95" text-anchor="end">300</text>
<text class="t" x="384.20" y="156.42" text-anchor="end">320</text>
<text class="t" x="384.20" y="135.88" text-anchor="end">340</text>
<text class="t" x="384.20" y="115.35" text-anchor="end">360</text>
<text class="t" x="384.20" y="94.81" text-anchor="end">380</text>
<text class="t" x="384.20" y="74.28" text-anchor="end">400</text>
<text class="t" x="384.20" y="53.75" text-anchor="end">420</text>
<text class="t" x="381.00" y="186.80" text-anchor="middle">8</text>
<text class="t" x="422.00" y="205.80" text-anchor="middle">6</text>
<text class="t" x="463.75" y="224.30" text-anchor="middle">4</text>
<text class="t" x="504.50" y="242.55" text-anchor="middle">2</text>
<text class="t" x="526.20" y="244.30" text-anchor="middle">0.4</text>
<text class="t" x="579.70" y="229.70" text-anchor="middle">0.6</text>
<text class="t" x="633.20" y="215.20" text-anchor="middle">0.8</text>
<text class="t" x="682.60" y="200.60" text-anchor="middle">1</text>
<text class="l" x="444.70" y="242.50" text-anchor="middle">total time</text>
<text class="l" x="595.90" y="246.40" text-anchor="middle">urgency</text>
<text class="l" transform="translate(366.1,115) rotate(-90)" text-anchor="middle">total cost</text>
<text class="p" x="350.50" y="30.10" text-anchor="start">B</text>
<text class="l" x="532.80" y="6.90" text-anchor="middle">Pareto Front</text>
<g fill="#ffff00" stroke="#4d4d00" stroke-width="0.45">
<circle cx="417.50" cy="103.75" r="2.6"/>
<circle cx="504.25" cy="102.50" r="2.6"/>
<circle cx="434.00" cy="121.00" r="2.6"/>
<circle cx="428.25" cy="126.00" r="2.6"/>
<circle cx="448.25" cy="130.50" r="2.6"/>
<circle cx="445.50" cy="132.50" r="2.6"/>
<circle cx="513.00" cy="119.75" r="2.6"/>
<circle cx="510.00" cy="124.75" r="2.6"/>
<circle cx="532.50" cy="119.00" r="2.6"/>
<circle cx="527.00" cy="124.25" r="2.6"/>
<circle cx="533.75" cy="125.50" r="2.6"/>
<circle cx="555.75" cy="123.50" r="2.6"/>
<circle cx="542.25" cy="130.25" r="2.6"/>
<circle cx="561.00" cy="132.00" r="2.6"/>
<circle cx="490.00" cy="133.75" r="2.6"/>
<circle cx="519.00" cy="134.25" r="2.6"/>
<circle cx="421.75" cy="139.50" r="2.6"/>
<circle cx="428.25" cy="140.50" r="2.6"/>
<circle cx="460.00" cy="139.50" r="2.6"/>
<circle cx="455.75" cy="141.10" r="2.6"/>
<circle cx="460.50" cy="141.40" r="2.6"/>
<circle cx="443.00" cy="143.75" r="2.6"/>
<circle cx="487.25" cy="141.00" r="2.6"/>
<circle cx="478.00" cy="144.90" r="2.6"/>
<circle cx="486.75" cy="146.75" r="2.6"/>
<circle cx="466.75" cy="149.00" r="2.6"/>
<circle cx="428.60" cy="150.60" r="2.6"/>
<circle cx="450.75" cy="152.30" r="2.6"/>
<circle cx="512.00" cy="145.90" r="2.6"/>
<circle cx="509.50" cy="148.60" r="2.6"/>
<circle cx="540.75" cy="144.10" r="2.6"/>
<circle cx="547.00" cy="146.50" r="2.6"/>
<circle cx="551.00" cy="148.10" r="2.6"/>
<circle cx="557.25" cy="141.60" r="2.6"/>
<circle cx="558.70" cy="146.60" r="2.6"/>
<circle cx="522.75" cy="152.30" r="2.6"/>
<circle cx="479.00" cy="153.50" r="2.6"/>
<circle cx="446.25" cy="158.25" r="2.6"/>
<circle cx="486.00" cy="160.75" r="2.6"/>
<circle cx="509.50" cy="156.25" r="2.6"/>
<circle cx="515.75" cy="156.00" r="2.6"/>
<circle cx="519.50" cy="156.00" r="2.6"/>
<circle cx="567.00" cy="156.30" r="2.6"/>
<circle cx="572.00" cy="151.80" r="2.6"/>
<circle cx="596.70" cy="146.90" r="2.6"/>
<circle cx="610.20" cy="136.60" r="2.6"/>
<circle cx="616.00" cy="147.40" r="2.6"/>
<circle cx="626.30" cy="139.30" r="2.6"/>
<circle cx="664.20" cy="146.60" r="2.6"/>
</g>
</svg></body></html>
